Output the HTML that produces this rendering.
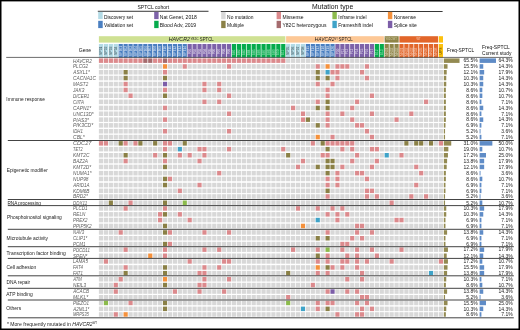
<!DOCTYPE html>
<html><head><meta charset="utf-8"><style>
html,body{margin:0;padding:0;background:#fff;}
svg{display:block;will-change:transform;}
text{font-family:"Liberation Sans",sans-serif;}
</style></head><body>
<svg xmlns="http://www.w3.org/2000/svg" width="520" height="330" viewBox="0 0 520 330">
<rect width="520" height="330" fill="#fff"/>
<rect x="0" y="0" width="520" height="1.4" fill="#000"/>
<rect x="0" y="328.5" width="520" height="1.5" fill="#000"/>
<rect x="0" y="0" width="1.5" height="330" fill="#000"/>
<rect x="518.5" y="0" width="1.5" height="330" fill="#000"/>
<text transform="translate(137.40,8.50) scale(0.961,1)" font-size="5.3" fill="#111" >SPTCL cohort</text>
<rect x="97.8" y="10.8" width="110.7" height="0.9" fill="#222"/>
<rect x="98.2" y="11.9" width="4.5" height="7.2" fill="#b4dbe6"/>
<rect x="98.2" y="20.8" width="4.5" height="7.3" fill="#4a7fc1"/>
<text transform="translate(104.00,18.50) scale(0.970,1)" font-size="5.0" fill="#111" >Discovery set</text>
<text transform="translate(104.00,27.20) scale(0.981,1)" font-size="5.0" fill="#111" >Validation set</text>
<rect x="154.2" y="11.9" width="4.4" height="7.2" fill="#7d62a9"/>
<rect x="154.2" y="20.8" width="4.4" height="7.3" fill="#05ab4c"/>
<text transform="translate(159.80,18.50) scale(1.011,1)" font-size="5.0" fill="#111" >Nat Genet, 2018</text>
<text transform="translate(159.80,27.20) scale(1.012,1)" font-size="5.0" fill="#111" >Blood Adv, 2019</text>
<text transform="translate(312.10,8.60) scale(0.980,1)" font-size="7.0" fill="#111" >Mutation type</text>
<rect x="220.8" y="11.0" width="221.8" height="0.9" fill="#222"/>
<rect x="221.2" y="11.9" width="4.4" height="7.3" fill="#d8d8d8"/>
<rect x="221.2" y="20.8" width="4.4" height="7.3" fill="#8a8046"/>
<text transform="translate(227.10,18.50) scale(0.980,1)" font-size="5.0" fill="#111" >No mutation</text>
<text transform="translate(227.10,27.20) scale(0.981,1)" font-size="5.0" fill="#111" >Multiple</text>
<rect x="276.6" y="11.9" width="4.4" height="7.3" fill="#dc8a8d"/>
<rect x="276.6" y="20.8" width="4.4" height="7.3" fill="#a56b6e"/>
<text transform="translate(282.50,18.50)" font-size="5.0" fill="#111" >Missense</text>
<text transform="translate(282.50,27.20)" font-size="5.0" fill="#111" >Y82C heterozygous</text>
<rect x="332.4" y="11.9" width="4.4" height="7.3" fill="#8cbb4c"/>
<rect x="332.4" y="20.8" width="4.4" height="7.3" fill="#3fa3c8"/>
<text transform="translate(338.30,18.50) scale(0.976,1)" font-size="5.0" fill="#111" >Inframe indel</text>
<text transform="translate(338.30,27.20) scale(0.973,1)" font-size="5.0" fill="#111" >Frameshift indel</text>
<rect x="387.9" y="11.9" width="4.4" height="7.3" fill="#f5913c"/>
<rect x="387.9" y="20.8" width="4.4" height="7.3" fill="#7c5ea8"/>
<text transform="translate(393.80,18.50) scale(0.986,1)" font-size="5.0" fill="#111" >Nonsense</text>
<text transform="translate(393.80,27.20) scale(1.009,1)" font-size="5.0" fill="#111" >Splice site</text>
<rect x="98.90" y="36.2" width="186.46" height="6.4" fill="#cfe193"/>
<rect x="286.09" y="36.2" width="97.79" height="6.4" fill="#fdc896"/>
<rect x="384.61" y="36.2" width="14.05" height="6.4" fill="#8f8548"/>
<rect x="399.39" y="36.2" width="38.68" height="6.4" fill="#e2662a"/>
<rect x="438.79" y="36.2" width="4.20" height="6.4" fill="#fcc10e"/>
<text transform="translate(168.80,41.30) scale(1.019,1)" font-size="5.2" fill="#1a1a1a" font-style="italic" >HAVCR2</text>
<text transform="translate(190.40,39.90) scale(1.093,1)" font-size="3.0" fill="#1a1a1a" >Y82C</text>
<text transform="translate(199.80,41.30) scale(0.829,1)" font-size="5.2" fill="#1a1a1a" >SPTCL</text>
<text transform="translate(314.80,41.30) scale(0.942,1)" font-size="5.2" fill="#1a1a1a" font-style="italic" >HAVCR2</text>
<text transform="translate(334.60,39.90) scale(0.643,1)" font-size="3.0" fill="#1a1a1a" >WT</text>
<text transform="translate(338.50,41.30) scale(0.859,1)" font-size="5.2" fill="#1a1a1a" >SPTCL</text>
<text transform="translate(385.56,40.30)" font-size="2.6" fill="#d8d3b0" >Y82C/WT</text>
<text transform="translate(416.48,40.00)" font-size="2.6" fill="#f7d3c0" >WT</text>
<rect x="98.90" y="44.0" width="4.2" height="13.8" fill="#b4dbe6"/>
<text x="102.26" y="55.00" font-size="3.5" fill="#2d3b40" fill-opacity="0.9" transform="rotate(-90 102.26 55.00)">SP01</text>
<rect x="103.83" y="44.0" width="4.2" height="13.8" fill="#b4dbe6"/>
<text x="107.19" y="55.00" font-size="3.5" fill="#2d3b40" fill-opacity="0.9" transform="rotate(-90 107.19 55.00)">SP02</text>
<rect x="108.75" y="44.0" width="4.2" height="13.8" fill="#b4dbe6"/>
<text x="112.11" y="55.00" font-size="3.5" fill="#2d3b40" fill-opacity="0.9" transform="rotate(-90 112.11 55.00)">SP03</text>
<rect x="113.68" y="44.0" width="4.2" height="13.8" fill="#b4dbe6"/>
<text x="117.04" y="55.00" font-size="3.5" fill="#2d3b40" fill-opacity="0.9" transform="rotate(-90 117.04 55.00)">SP04</text>
<rect x="118.60" y="44.0" width="4.2" height="13.8" fill="#4a7fc1"/>
<text x="121.93" y="56.30" font-size="3.4" fill="#ffffff" fill-opacity="0.75" transform="rotate(-90 121.93 56.30)">SPT01</text>
<rect x="123.53" y="44.0" width="4.2" height="13.8" fill="#4a7fc1"/>
<text x="126.85" y="56.30" font-size="3.4" fill="#ffffff" fill-opacity="0.75" transform="rotate(-90 126.85 56.30)">SPT02</text>
<rect x="128.46" y="44.0" width="4.2" height="13.8" fill="#4a7fc1"/>
<text x="131.78" y="56.30" font-size="3.4" fill="#ffffff" fill-opacity="0.75" transform="rotate(-90 131.78 56.30)">SPT03</text>
<rect x="133.38" y="44.0" width="4.2" height="13.8" fill="#4a7fc1"/>
<text x="136.71" y="56.30" font-size="3.4" fill="#ffffff" fill-opacity="0.75" transform="rotate(-90 136.71 56.30)">SPT04</text>
<rect x="138.31" y="44.0" width="4.2" height="13.8" fill="#4a7fc1"/>
<text x="141.63" y="56.30" font-size="3.4" fill="#ffffff" fill-opacity="0.75" transform="rotate(-90 141.63 56.30)">SPT05</text>
<rect x="143.23" y="44.0" width="4.2" height="13.8" fill="#4a7fc1"/>
<text x="146.56" y="56.30" font-size="3.4" fill="#ffffff" fill-opacity="0.75" transform="rotate(-90 146.56 56.30)">SPT06</text>
<rect x="148.16" y="44.0" width="4.2" height="13.8" fill="#4a7fc1"/>
<text x="151.48" y="56.30" font-size="3.4" fill="#ffffff" fill-opacity="0.75" transform="rotate(-90 151.48 56.30)">SPT07</text>
<rect x="153.09" y="44.0" width="4.2" height="13.8" fill="#4a7fc1"/>
<text x="156.41" y="56.30" font-size="3.4" fill="#ffffff" fill-opacity="0.75" transform="rotate(-90 156.41 56.30)">SPT08</text>
<rect x="158.01" y="44.0" width="4.2" height="13.8" fill="#4a7fc1"/>
<text x="161.34" y="56.30" font-size="3.4" fill="#ffffff" fill-opacity="0.75" transform="rotate(-90 161.34 56.30)">SPT09</text>
<rect x="162.94" y="44.0" width="4.2" height="13.8" fill="#4a7fc1"/>
<text x="166.26" y="56.30" font-size="3.4" fill="#ffffff" fill-opacity="0.75" transform="rotate(-90 166.26 56.30)">SPT10</text>
<rect x="167.86" y="44.0" width="4.2" height="13.8" fill="#4a7fc1"/>
<text x="171.19" y="56.30" font-size="3.4" fill="#ffffff" fill-opacity="0.75" transform="rotate(-90 171.19 56.30)">SPT11</text>
<rect x="172.79" y="44.0" width="4.2" height="13.8" fill="#4a7fc1"/>
<text x="176.11" y="56.30" font-size="3.4" fill="#ffffff" fill-opacity="0.75" transform="rotate(-90 176.11 56.30)">SPT12</text>
<rect x="177.72" y="44.0" width="4.2" height="13.8" fill="#4a7fc1"/>
<text x="181.04" y="56.30" font-size="3.4" fill="#ffffff" fill-opacity="0.75" transform="rotate(-90 181.04 56.30)">SPT13</text>
<rect x="182.64" y="44.0" width="4.2" height="13.8" fill="#4a7fc1"/>
<text x="185.97" y="56.30" font-size="3.4" fill="#ffffff" fill-opacity="0.75" transform="rotate(-90 185.97 56.30)">SPT14</text>
<rect x="187.57" y="44.0" width="4.2" height="13.8" fill="#7d62a9"/>
<text x="190.82" y="54.30" font-size="3.2" fill="#ffffff" fill-opacity="0.75" transform="rotate(-90 190.82 54.30)">P01</text>
<rect x="192.49" y="44.0" width="4.2" height="13.8" fill="#7d62a9"/>
<text x="195.75" y="54.30" font-size="3.2" fill="#ffffff" fill-opacity="0.75" transform="rotate(-90 195.75 54.30)">P02</text>
<rect x="197.42" y="44.0" width="4.2" height="13.8" fill="#7d62a9"/>
<text x="200.67" y="54.30" font-size="3.2" fill="#ffffff" fill-opacity="0.75" transform="rotate(-90 200.67 54.30)">P03</text>
<rect x="202.35" y="44.0" width="4.2" height="13.8" fill="#7d62a9"/>
<text x="205.60" y="54.30" font-size="3.2" fill="#ffffff" fill-opacity="0.75" transform="rotate(-90 205.60 54.30)">P04</text>
<rect x="207.27" y="44.0" width="4.2" height="13.8" fill="#7d62a9"/>
<text x="210.52" y="54.30" font-size="3.2" fill="#ffffff" fill-opacity="0.75" transform="rotate(-90 210.52 54.30)">P05</text>
<rect x="212.20" y="44.0" width="4.2" height="13.8" fill="#7d62a9"/>
<text x="215.45" y="54.30" font-size="3.2" fill="#ffffff" fill-opacity="0.75" transform="rotate(-90 215.45 54.30)">P06</text>
<rect x="217.12" y="44.0" width="4.2" height="13.8" fill="#7d62a9"/>
<text x="220.38" y="54.30" font-size="3.2" fill="#ffffff" fill-opacity="0.75" transform="rotate(-90 220.38 54.30)">P07</text>
<rect x="222.05" y="44.0" width="4.2" height="13.8" fill="#7d62a9"/>
<text x="225.30" y="54.30" font-size="3.2" fill="#ffffff" fill-opacity="0.75" transform="rotate(-90 225.30 54.30)">P08</text>
<rect x="226.98" y="44.0" width="4.2" height="13.8" fill="#7d62a9"/>
<text x="230.23" y="54.30" font-size="3.2" fill="#ffffff" fill-opacity="0.75" transform="rotate(-90 230.23 54.30)">P09</text>
<rect x="231.90" y="44.0" width="4.2" height="13.8" fill="#05ab4c"/>
<text x="235.15" y="55.20" font-size="3.2" fill="#ffffff" fill-opacity="0.6" transform="rotate(-90 235.15 55.20)">B01</text>
<rect x="236.83" y="44.0" width="4.2" height="13.8" fill="#05ab4c"/>
<text x="240.08" y="55.20" font-size="3.2" fill="#ffffff" fill-opacity="0.6" transform="rotate(-90 240.08 55.20)">B02</text>
<rect x="241.75" y="44.0" width="4.2" height="13.8" fill="#05ab4c"/>
<text x="245.01" y="55.20" font-size="3.2" fill="#ffffff" fill-opacity="0.6" transform="rotate(-90 245.01 55.20)">B03</text>
<rect x="246.68" y="44.0" width="4.2" height="13.8" fill="#05ab4c"/>
<text x="249.93" y="55.20" font-size="3.2" fill="#ffffff" fill-opacity="0.6" transform="rotate(-90 249.93 55.20)">B04</text>
<rect x="251.61" y="44.0" width="4.2" height="13.8" fill="#05ab4c"/>
<text x="254.86" y="55.20" font-size="3.2" fill="#ffffff" fill-opacity="0.6" transform="rotate(-90 254.86 55.20)">B05</text>
<rect x="256.53" y="44.0" width="4.2" height="13.8" fill="#05ab4c"/>
<text x="259.78" y="55.20" font-size="3.2" fill="#ffffff" fill-opacity="0.6" transform="rotate(-90 259.78 55.20)">B06</text>
<rect x="261.46" y="44.0" width="4.2" height="13.8" fill="#05ab4c"/>
<text x="264.71" y="55.20" font-size="3.2" fill="#ffffff" fill-opacity="0.6" transform="rotate(-90 264.71 55.20)">B07</text>
<rect x="266.38" y="44.0" width="4.2" height="13.8" fill="#05ab4c"/>
<text x="269.64" y="55.20" font-size="3.2" fill="#ffffff" fill-opacity="0.6" transform="rotate(-90 269.64 55.20)">B08</text>
<rect x="271.31" y="44.0" width="4.2" height="13.8" fill="#05ab4c"/>
<text x="274.56" y="55.20" font-size="3.2" fill="#ffffff" fill-opacity="0.6" transform="rotate(-90 274.56 55.20)">B09</text>
<rect x="276.24" y="44.0" width="4.2" height="13.8" fill="#05ab4c"/>
<text x="279.49" y="55.20" font-size="3.2" fill="#ffffff" fill-opacity="0.6" transform="rotate(-90 279.49 55.20)">B10</text>
<rect x="281.16" y="44.0" width="4.2" height="13.8" fill="#05ab4c"/>
<text x="284.41" y="55.20" font-size="3.2" fill="#ffffff" fill-opacity="0.6" transform="rotate(-90 284.41 55.20)">B11</text>
<rect x="286.09" y="44.0" width="4.2" height="13.8" fill="#b4dbe6"/>
<text x="289.45" y="55.00" font-size="3.5" fill="#2d3b40" fill-opacity="0.9" transform="rotate(-90 289.45 55.00)">SP05</text>
<rect x="291.01" y="44.0" width="4.2" height="13.8" fill="#b4dbe6"/>
<text x="294.37" y="55.00" font-size="3.5" fill="#2d3b40" fill-opacity="0.9" transform="rotate(-90 294.37 55.00)">SP06</text>
<rect x="295.94" y="44.0" width="4.2" height="13.8" fill="#b4dbe6"/>
<text x="299.30" y="55.00" font-size="3.5" fill="#2d3b40" fill-opacity="0.9" transform="rotate(-90 299.30 55.00)">SP07</text>
<rect x="300.87" y="44.0" width="4.2" height="13.8" fill="#b4dbe6"/>
<text x="304.23" y="55.00" font-size="3.5" fill="#2d3b40" fill-opacity="0.9" transform="rotate(-90 304.23 55.00)">SP08</text>
<rect x="305.79" y="44.0" width="4.2" height="13.8" fill="#4a7fc1"/>
<text x="309.12" y="56.30" font-size="3.4" fill="#ffffff" fill-opacity="0.75" transform="rotate(-90 309.12 56.30)">SPT15</text>
<rect x="310.72" y="44.0" width="4.2" height="13.8" fill="#4a7fc1"/>
<text x="314.04" y="56.30" font-size="3.4" fill="#ffffff" fill-opacity="0.75" transform="rotate(-90 314.04 56.30)">SPT16</text>
<rect x="315.64" y="44.0" width="4.2" height="13.8" fill="#4a7fc1"/>
<text x="318.97" y="56.30" font-size="3.4" fill="#ffffff" fill-opacity="0.75" transform="rotate(-90 318.97 56.30)">SPT17</text>
<rect x="320.57" y="44.0" width="4.2" height="13.8" fill="#4a7fc1"/>
<text x="323.89" y="56.30" font-size="3.4" fill="#ffffff" fill-opacity="0.75" transform="rotate(-90 323.89 56.30)">SPT18</text>
<rect x="325.50" y="44.0" width="4.2" height="13.8" fill="#4a7fc1"/>
<text x="328.82" y="56.30" font-size="3.4" fill="#ffffff" fill-opacity="0.75" transform="rotate(-90 328.82 56.30)">SPT19</text>
<rect x="330.42" y="44.0" width="4.2" height="13.8" fill="#4a7fc1"/>
<text x="333.75" y="56.30" font-size="3.4" fill="#ffffff" fill-opacity="0.75" transform="rotate(-90 333.75 56.30)">SPT20</text>
<rect x="335.35" y="44.0" width="4.2" height="13.8" fill="#7d62a9"/>
<text x="338.60" y="54.30" font-size="3.2" fill="#ffffff" fill-opacity="0.75" transform="rotate(-90 338.60 54.30)">P10</text>
<rect x="340.27" y="44.0" width="4.2" height="13.8" fill="#7d62a9"/>
<text x="343.53" y="54.30" font-size="3.2" fill="#ffffff" fill-opacity="0.75" transform="rotate(-90 343.53 54.30)">P11</text>
<rect x="345.20" y="44.0" width="4.2" height="13.8" fill="#7d62a9"/>
<text x="348.45" y="54.30" font-size="3.2" fill="#ffffff" fill-opacity="0.75" transform="rotate(-90 348.45 54.30)">P12</text>
<rect x="350.13" y="44.0" width="4.2" height="13.8" fill="#7d62a9"/>
<text x="353.38" y="54.30" font-size="3.2" fill="#ffffff" fill-opacity="0.75" transform="rotate(-90 353.38 54.30)">P13</text>
<rect x="355.05" y="44.0" width="4.2" height="13.8" fill="#7d62a9"/>
<text x="358.30" y="54.30" font-size="3.2" fill="#ffffff" fill-opacity="0.75" transform="rotate(-90 358.30 54.30)">P14</text>
<rect x="359.98" y="44.0" width="4.2" height="13.8" fill="#7d62a9"/>
<text x="363.23" y="54.30" font-size="3.2" fill="#ffffff" fill-opacity="0.75" transform="rotate(-90 363.23 54.30)">P15</text>
<rect x="364.90" y="44.0" width="4.2" height="13.8" fill="#7d62a9"/>
<text x="368.16" y="54.30" font-size="3.2" fill="#ffffff" fill-opacity="0.75" transform="rotate(-90 368.16 54.30)">P16</text>
<rect x="369.83" y="44.0" width="4.2" height="13.8" fill="#7d62a9"/>
<text x="373.08" y="54.30" font-size="3.2" fill="#ffffff" fill-opacity="0.75" transform="rotate(-90 373.08 54.30)">P17</text>
<rect x="374.76" y="44.0" width="4.2" height="13.8" fill="#05ab4c"/>
<text x="378.01" y="55.20" font-size="3.2" fill="#ffffff" fill-opacity="0.6" transform="rotate(-90 378.01 55.20)">B12</text>
<rect x="379.68" y="44.0" width="4.2" height="13.8" fill="#05ab4c"/>
<text x="382.93" y="55.20" font-size="3.2" fill="#ffffff" fill-opacity="0.6" transform="rotate(-90 382.93 55.20)">B13</text>
<rect x="384.61" y="44.0" width="4.2" height="13.8" fill="#8f8548"/>
<text x="387.93" y="56.00" font-size="3.4" fill="#ffffff" fill-opacity="0.6" transform="rotate(-90 387.93 56.00)">NK01</text>
<rect x="389.53" y="44.0" width="4.2" height="13.8" fill="#8f8548"/>
<text x="392.86" y="56.00" font-size="3.4" fill="#ffffff" fill-opacity="0.6" transform="rotate(-90 392.86 56.00)">NK02</text>
<rect x="394.46" y="44.0" width="4.2" height="13.8" fill="#8f8548"/>
<text x="397.78" y="56.00" font-size="3.4" fill="#ffffff" fill-opacity="0.6" transform="rotate(-90 397.78 56.00)">NK03</text>
<rect x="399.39" y="44.0" width="4.2" height="13.8" fill="#e2662a"/>
<text x="402.71" y="56.00" font-size="3.4" fill="#ffffff" fill-opacity="0.6" transform="rotate(-90 402.71 56.00)">NK01</text>
<rect x="404.31" y="44.0" width="4.2" height="13.8" fill="#e2662a"/>
<text x="407.64" y="56.00" font-size="3.4" fill="#ffffff" fill-opacity="0.6" transform="rotate(-90 407.64 56.00)">NK02</text>
<rect x="409.24" y="44.0" width="4.2" height="13.8" fill="#e2662a"/>
<text x="412.56" y="56.00" font-size="3.4" fill="#ffffff" fill-opacity="0.6" transform="rotate(-90 412.56 56.00)">NK03</text>
<rect x="414.16" y="44.0" width="4.2" height="13.8" fill="#e2662a"/>
<text x="417.49" y="56.00" font-size="3.4" fill="#ffffff" fill-opacity="0.6" transform="rotate(-90 417.49 56.00)">NK04</text>
<rect x="419.09" y="44.0" width="4.2" height="13.8" fill="#e2662a"/>
<text x="422.41" y="56.00" font-size="3.4" fill="#ffffff" fill-opacity="0.6" transform="rotate(-90 422.41 56.00)">NK05</text>
<rect x="424.02" y="44.0" width="4.2" height="13.8" fill="#e2662a"/>
<text x="427.34" y="56.00" font-size="3.4" fill="#ffffff" fill-opacity="0.6" transform="rotate(-90 427.34 56.00)">NK06</text>
<rect x="428.94" y="44.0" width="4.2" height="13.8" fill="#e2662a"/>
<text x="432.27" y="56.00" font-size="3.4" fill="#ffffff" fill-opacity="0.6" transform="rotate(-90 432.27 56.00)">NK07</text>
<rect x="433.87" y="44.0" width="4.2" height="13.8" fill="#e2662a"/>
<text x="437.19" y="56.00" font-size="3.4" fill="#ffffff" fill-opacity="0.6" transform="rotate(-90 437.19 56.00)">NK08</text>
<rect x="438.79" y="44.0" width="4.2" height="13.8" fill="#fcc10e"/>
<text x="442.12" y="54.50" font-size="3.4" fill="#3a3000" fill-opacity="0.9" transform="rotate(-90 442.12 54.50)">UPS</text>
<text transform="translate(78.70,51.80) scale(1.022,1)" font-size="5.0" fill="#111" >Gene</text>
<text transform="translate(447.10,51.80) scale(0.965,1)" font-size="5.0" fill="#111" >Freq-SPTCL</text>
<text transform="translate(482.10,49.00) scale(0.990,1)" font-size="5.0" fill="#111" >Freq-SPTCL</text>
<text transform="translate(482.10,54.80) scale(0.983,1)" font-size="5.0" fill="#111" >Current study</text>
<rect x="98.90" y="58.40" width="4.2" height="4.5" fill="#dc8a8d"/>
<rect x="103.83" y="58.40" width="4.2" height="4.5" fill="#dc8a8d"/>
<rect x="108.75" y="58.40" width="4.2" height="4.5" fill="#dc8a8d"/>
<rect x="113.68" y="58.40" width="4.2" height="4.5" fill="#dc8a8d"/>
<rect x="118.60" y="58.40" width="4.2" height="4.5" fill="#dc8a8d"/>
<rect x="123.53" y="58.40" width="4.2" height="4.5" fill="#dc8a8d"/>
<rect x="128.46" y="58.40" width="4.2" height="4.5" fill="#dc8a8d"/>
<rect x="133.38" y="58.40" width="4.2" height="4.5" fill="#dc8a8d"/>
<rect x="138.31" y="58.40" width="4.2" height="4.5" fill="#dc8a8d"/>
<rect x="143.23" y="58.40" width="4.2" height="4.5" fill="#a56b6e"/>
<rect x="148.16" y="58.40" width="4.2" height="4.5" fill="#a56b6e"/>
<rect x="153.09" y="58.40" width="4.2" height="4.5" fill="#dc8a8d"/>
<rect x="158.01" y="58.40" width="4.2" height="4.5" fill="#dc8a8d"/>
<rect x="162.94" y="58.40" width="4.2" height="4.5" fill="#a56b6e"/>
<rect x="167.86" y="58.40" width="4.2" height="4.5" fill="#dc8a8d"/>
<rect x="172.79" y="58.40" width="4.2" height="4.5" fill="#dc8a8d"/>
<rect x="177.72" y="58.40" width="4.2" height="4.5" fill="#dc8a8d"/>
<rect x="182.64" y="58.40" width="4.2" height="4.5" fill="#dc8a8d"/>
<rect x="187.57" y="58.40" width="4.2" height="4.5" fill="#dc8a8d"/>
<rect x="192.49" y="58.40" width="4.2" height="4.5" fill="#dc8a8d"/>
<rect x="197.42" y="58.40" width="4.2" height="4.5" fill="#dc8a8d"/>
<rect x="202.35" y="58.40" width="4.2" height="4.5" fill="#dc8a8d"/>
<rect x="207.27" y="58.40" width="4.2" height="4.5" fill="#dc8a8d"/>
<rect x="212.20" y="58.40" width="4.2" height="4.5" fill="#dc8a8d"/>
<rect x="217.12" y="58.40" width="4.2" height="4.5" fill="#dc8a8d"/>
<rect x="222.05" y="58.40" width="4.2" height="4.5" fill="#dc8a8d"/>
<rect x="226.98" y="58.40" width="4.2" height="4.5" fill="#dc8a8d"/>
<rect x="231.90" y="58.40" width="4.2" height="4.5" fill="#dc8a8d"/>
<rect x="236.83" y="58.40" width="4.2" height="4.5" fill="#dc8a8d"/>
<rect x="241.75" y="58.40" width="4.2" height="4.5" fill="#dc8a8d"/>
<rect x="246.68" y="58.40" width="4.2" height="4.5" fill="#dc8a8d"/>
<rect x="251.61" y="58.40" width="4.2" height="4.5" fill="#dc8a8d"/>
<rect x="256.53" y="58.40" width="4.2" height="4.5" fill="#dc8a8d"/>
<rect x="261.46" y="58.40" width="4.2" height="4.5" fill="#dc8a8d"/>
<rect x="266.38" y="58.40" width="4.2" height="4.5" fill="#dc8a8d"/>
<rect x="271.31" y="58.40" width="4.2" height="4.5" fill="#dc8a8d"/>
<rect x="276.24" y="58.40" width="4.2" height="4.5" fill="#dc8a8d"/>
<rect x="281.16" y="58.40" width="4.2" height="4.5" fill="#dc8a8d"/>
<rect x="286.09" y="58.40" width="4.2" height="4.5" fill="#d8d8d8"/>
<rect x="291.01" y="58.40" width="4.2" height="4.5" fill="#d8d8d8"/>
<rect x="295.94" y="58.40" width="4.2" height="4.5" fill="#d8d8d8"/>
<rect x="300.87" y="58.40" width="4.2" height="4.5" fill="#d8d8d8"/>
<rect x="305.79" y="58.40" width="4.2" height="4.5" fill="#d8d8d8"/>
<rect x="310.72" y="58.40" width="4.2" height="4.5" fill="#d8d8d8"/>
<rect x="315.64" y="58.40" width="4.2" height="4.5" fill="#d8d8d8"/>
<rect x="320.57" y="58.40" width="4.2" height="4.5" fill="#d8d8d8"/>
<rect x="325.50" y="58.40" width="4.2" height="4.5" fill="#d8d8d8"/>
<rect x="330.42" y="58.40" width="4.2" height="4.5" fill="#d8d8d8"/>
<rect x="335.35" y="58.40" width="4.2" height="4.5" fill="#d8d8d8"/>
<rect x="340.27" y="58.40" width="4.2" height="4.5" fill="#d8d8d8"/>
<rect x="345.20" y="58.40" width="4.2" height="4.5" fill="#d8d8d8"/>
<rect x="350.13" y="58.40" width="4.2" height="4.5" fill="#d8d8d8"/>
<rect x="355.05" y="58.40" width="4.2" height="4.5" fill="#d8d8d8"/>
<rect x="359.98" y="58.40" width="4.2" height="4.5" fill="#d8d8d8"/>
<rect x="364.90" y="58.40" width="4.2" height="4.5" fill="#d8d8d8"/>
<rect x="369.83" y="58.40" width="4.2" height="4.5" fill="#d8d8d8"/>
<rect x="374.76" y="58.40" width="4.2" height="4.5" fill="#d8d8d8"/>
<rect x="379.68" y="58.40" width="4.2" height="4.5" fill="#d8d8d8"/>
<rect x="384.61" y="58.40" width="4.2" height="4.5" fill="#d8d8d8"/>
<rect x="389.53" y="58.40" width="4.2" height="4.5" fill="#d8d8d8"/>
<rect x="394.46" y="58.40" width="4.2" height="4.5" fill="#d8d8d8"/>
<rect x="399.39" y="58.40" width="4.2" height="4.5" fill="#d8d8d8"/>
<rect x="404.31" y="58.40" width="4.2" height="4.5" fill="#d8d8d8"/>
<rect x="409.24" y="58.40" width="4.2" height="4.5" fill="#d8d8d8"/>
<rect x="414.16" y="58.40" width="4.2" height="4.5" fill="#d8d8d8"/>
<rect x="419.09" y="58.40" width="4.2" height="4.5" fill="#d8d8d8"/>
<rect x="424.02" y="58.40" width="4.2" height="4.5" fill="#d8d8d8"/>
<rect x="428.94" y="58.40" width="4.2" height="4.5" fill="#d8d8d8"/>
<rect x="433.87" y="58.40" width="4.2" height="4.5" fill="#d8d8d8"/>
<rect x="438.79" y="58.40" width="4.2" height="4.5" fill="#d8d8d8"/>
<text transform="translate(73.00,62.50) scale(0.979,1)" font-size="4.8" fill="#5e5e5e" font-style="italic" >HAVCR2</text>
<rect x="443.8" y="58.40" width="15.72" height="4.5" fill="#938a52"/>
<rect x="479.6" y="58.40" width="16.40" height="4.5" fill="#5f8cc7"/>
<text transform="translate(463.52,62.40)" font-size="5.0" fill="#222" >65.5%</text>
<text transform="translate(498.53,62.40)" font-size="5.0" fill="#222" >64.3%</text>
<rect x="98.90" y="64.20" width="4.2" height="4.5" fill="#d8d8d8"/>
<rect x="103.83" y="64.20" width="4.2" height="4.5" fill="#d8d8d8"/>
<rect x="108.75" y="64.20" width="4.2" height="4.5" fill="#d8d8d8"/>
<rect x="113.68" y="64.20" width="4.2" height="4.5" fill="#d8d8d8"/>
<rect x="118.60" y="64.20" width="4.2" height="4.5" fill="#d8d8d8"/>
<rect x="123.53" y="64.20" width="4.2" height="4.5" fill="#d8d8d8"/>
<rect x="128.46" y="64.20" width="4.2" height="4.5" fill="#d8d8d8"/>
<rect x="133.38" y="64.20" width="4.2" height="4.5" fill="#d8d8d8"/>
<rect x="138.31" y="64.20" width="4.2" height="4.5" fill="#d8d8d8"/>
<rect x="143.23" y="64.20" width="4.2" height="4.5" fill="#d8d8d8"/>
<rect x="148.16" y="64.20" width="4.2" height="4.5" fill="#d8d8d8"/>
<rect x="153.09" y="64.20" width="4.2" height="4.5" fill="#d8d8d8"/>
<rect x="158.01" y="64.20" width="4.2" height="4.5" fill="#d8d8d8"/>
<rect x="162.94" y="64.20" width="4.2" height="4.5" fill="#f5913c"/>
<rect x="167.86" y="64.20" width="4.2" height="4.5" fill="#d8d8d8"/>
<rect x="172.79" y="64.20" width="4.2" height="4.5" fill="#d8d8d8"/>
<rect x="177.72" y="64.20" width="4.2" height="4.5" fill="#d8d8d8"/>
<rect x="182.64" y="64.20" width="4.2" height="4.5" fill="#dc8a8d"/>
<rect x="187.57" y="64.20" width="4.2" height="4.5" fill="#d8d8d8"/>
<rect x="192.49" y="64.20" width="4.2" height="4.5" fill="#d8d8d8"/>
<rect x="197.42" y="64.20" width="4.2" height="4.5" fill="#d8d8d8"/>
<rect x="202.35" y="64.20" width="4.2" height="4.5" fill="#d8d8d8"/>
<rect x="207.27" y="64.20" width="4.2" height="4.5" fill="#d8d8d8"/>
<rect x="212.20" y="64.20" width="4.2" height="4.5" fill="#d8d8d8"/>
<rect x="217.12" y="64.20" width="4.2" height="4.5" fill="#d8d8d8"/>
<rect x="222.05" y="64.20" width="4.2" height="4.5" fill="#d8d8d8"/>
<rect x="226.98" y="64.20" width="4.2" height="4.5" fill="#dc8a8d"/>
<rect x="231.90" y="64.20" width="4.2" height="4.5" fill="#d8d8d8"/>
<rect x="236.83" y="64.20" width="4.2" height="4.5" fill="#d8d8d8"/>
<rect x="241.75" y="64.20" width="4.2" height="4.5" fill="#d8d8d8"/>
<rect x="246.68" y="64.20" width="4.2" height="4.5" fill="#d8d8d8"/>
<rect x="251.61" y="64.20" width="4.2" height="4.5" fill="#d8d8d8"/>
<rect x="256.53" y="64.20" width="4.2" height="4.5" fill="#d8d8d8"/>
<rect x="261.46" y="64.20" width="4.2" height="4.5" fill="#d8d8d8"/>
<rect x="266.38" y="64.20" width="4.2" height="4.5" fill="#d8d8d8"/>
<rect x="271.31" y="64.20" width="4.2" height="4.5" fill="#d8d8d8"/>
<rect x="276.24" y="64.20" width="4.2" height="4.5" fill="#d8d8d8"/>
<rect x="281.16" y="64.20" width="4.2" height="4.5" fill="#d8d8d8"/>
<rect x="286.09" y="64.20" width="4.2" height="4.5" fill="#d8d8d8"/>
<rect x="291.01" y="64.20" width="4.2" height="4.5" fill="#d8d8d8"/>
<rect x="295.94" y="64.20" width="4.2" height="4.5" fill="#d8d8d8"/>
<rect x="300.87" y="64.20" width="4.2" height="4.5" fill="#d8d8d8"/>
<rect x="305.79" y="64.20" width="4.2" height="4.5" fill="#d8d8d8"/>
<rect x="310.72" y="64.20" width="4.2" height="4.5" fill="#d8d8d8"/>
<rect x="315.64" y="64.20" width="4.2" height="4.5" fill="#dc8a8d"/>
<rect x="320.57" y="64.20" width="4.2" height="4.5" fill="#d8d8d8"/>
<rect x="325.50" y="64.20" width="4.2" height="4.5" fill="#f5913c"/>
<rect x="330.42" y="64.20" width="4.2" height="4.5" fill="#d8d8d8"/>
<rect x="335.35" y="64.20" width="4.2" height="4.5" fill="#dc8a8d"/>
<rect x="340.27" y="64.20" width="4.2" height="4.5" fill="#dc8a8d"/>
<rect x="345.20" y="64.20" width="4.2" height="4.5" fill="#dc8a8d"/>
<rect x="350.13" y="64.20" width="4.2" height="4.5" fill="#d8d8d8"/>
<rect x="355.05" y="64.20" width="4.2" height="4.5" fill="#d8d8d8"/>
<rect x="359.98" y="64.20" width="4.2" height="4.5" fill="#d8d8d8"/>
<rect x="364.90" y="64.20" width="4.2" height="4.5" fill="#dc8a8d"/>
<rect x="369.83" y="64.20" width="4.2" height="4.5" fill="#d8d8d8"/>
<rect x="374.76" y="64.20" width="4.2" height="4.5" fill="#d8d8d8"/>
<rect x="379.68" y="64.20" width="4.2" height="4.5" fill="#d8d8d8"/>
<rect x="384.61" y="64.20" width="4.2" height="4.5" fill="#d8d8d8"/>
<rect x="389.53" y="64.20" width="4.2" height="4.5" fill="#d8d8d8"/>
<rect x="394.46" y="64.20" width="4.2" height="4.5" fill="#d8d8d8"/>
<rect x="399.39" y="64.20" width="4.2" height="4.5" fill="#d8d8d8"/>
<rect x="404.31" y="64.20" width="4.2" height="4.5" fill="#d8d8d8"/>
<rect x="409.24" y="64.20" width="4.2" height="4.5" fill="#d8d8d8"/>
<rect x="414.16" y="64.20" width="4.2" height="4.5" fill="#d8d8d8"/>
<rect x="419.09" y="64.20" width="4.2" height="4.5" fill="#d8d8d8"/>
<rect x="424.02" y="64.20" width="4.2" height="4.5" fill="#d8d8d8"/>
<rect x="428.94" y="64.20" width="4.2" height="4.5" fill="#d8d8d8"/>
<rect x="433.87" y="64.20" width="4.2" height="4.5" fill="#d8d8d8"/>
<rect x="438.79" y="64.20" width="4.2" height="4.5" fill="#d8d8d8"/>
<text transform="translate(73.00,68.30) scale(0.965,1)" font-size="4.8" fill="#5e5e5e" font-style="italic" >PLCG2</text>
<rect x="443.8" y="64.20" width="3.72" height="4.5" fill="#938a52"/>
<rect x="479.6" y="64.20" width="3.65" height="4.5" fill="#5f8cc7"/>
<text transform="translate(463.52,68.20)" font-size="5.0" fill="#222" >15.5%</text>
<text transform="translate(498.53,68.20)" font-size="5.0" fill="#222" >14.3%</text>
<rect x="98.90" y="70.00" width="4.2" height="4.5" fill="#d8d8d8"/>
<rect x="103.83" y="70.00" width="4.2" height="4.5" fill="#d8d8d8"/>
<rect x="108.75" y="70.00" width="4.2" height="4.5" fill="#d8d8d8"/>
<rect x="113.68" y="70.00" width="4.2" height="4.5" fill="#d8d8d8"/>
<rect x="118.60" y="70.00" width="4.2" height="4.5" fill="#d8d8d8"/>
<rect x="123.53" y="70.00" width="4.2" height="4.5" fill="#8a8046"/>
<rect x="128.46" y="70.00" width="4.2" height="4.5" fill="#d8d8d8"/>
<rect x="133.38" y="70.00" width="4.2" height="4.5" fill="#d8d8d8"/>
<rect x="138.31" y="70.00" width="4.2" height="4.5" fill="#d8d8d8"/>
<rect x="143.23" y="70.00" width="4.2" height="4.5" fill="#d8d8d8"/>
<rect x="148.16" y="70.00" width="4.2" height="4.5" fill="#d8d8d8"/>
<rect x="153.09" y="70.00" width="4.2" height="4.5" fill="#d8d8d8"/>
<rect x="158.01" y="70.00" width="4.2" height="4.5" fill="#d8d8d8"/>
<rect x="162.94" y="70.00" width="4.2" height="4.5" fill="#dc8a8d"/>
<rect x="167.86" y="70.00" width="4.2" height="4.5" fill="#d8d8d8"/>
<rect x="172.79" y="70.00" width="4.2" height="4.5" fill="#d8d8d8"/>
<rect x="177.72" y="70.00" width="4.2" height="4.5" fill="#d8d8d8"/>
<rect x="182.64" y="70.00" width="4.2" height="4.5" fill="#d8d8d8"/>
<rect x="187.57" y="70.00" width="4.2" height="4.5" fill="#d8d8d8"/>
<rect x="192.49" y="70.00" width="4.2" height="4.5" fill="#d8d8d8"/>
<rect x="197.42" y="70.00" width="4.2" height="4.5" fill="#d8d8d8"/>
<rect x="202.35" y="70.00" width="4.2" height="4.5" fill="#d8d8d8"/>
<rect x="207.27" y="70.00" width="4.2" height="4.5" fill="#d8d8d8"/>
<rect x="212.20" y="70.00" width="4.2" height="4.5" fill="#d8d8d8"/>
<rect x="217.12" y="70.00" width="4.2" height="4.5" fill="#d8d8d8"/>
<rect x="222.05" y="70.00" width="4.2" height="4.5" fill="#d8d8d8"/>
<rect x="226.98" y="70.00" width="4.2" height="4.5" fill="#d8d8d8"/>
<rect x="231.90" y="70.00" width="4.2" height="4.5" fill="#d8d8d8"/>
<rect x="236.83" y="70.00" width="4.2" height="4.5" fill="#d8d8d8"/>
<rect x="241.75" y="70.00" width="4.2" height="4.5" fill="#d8d8d8"/>
<rect x="246.68" y="70.00" width="4.2" height="4.5" fill="#d8d8d8"/>
<rect x="251.61" y="70.00" width="4.2" height="4.5" fill="#d8d8d8"/>
<rect x="256.53" y="70.00" width="4.2" height="4.5" fill="#d8d8d8"/>
<rect x="261.46" y="70.00" width="4.2" height="4.5" fill="#d8d8d8"/>
<rect x="266.38" y="70.00" width="4.2" height="4.5" fill="#d8d8d8"/>
<rect x="271.31" y="70.00" width="4.2" height="4.5" fill="#d8d8d8"/>
<rect x="276.24" y="70.00" width="4.2" height="4.5" fill="#d8d8d8"/>
<rect x="281.16" y="70.00" width="4.2" height="4.5" fill="#d8d8d8"/>
<rect x="286.09" y="70.00" width="4.2" height="4.5" fill="#d8d8d8"/>
<rect x="291.01" y="70.00" width="4.2" height="4.5" fill="#d8d8d8"/>
<rect x="295.94" y="70.00" width="4.2" height="4.5" fill="#d8d8d8"/>
<rect x="300.87" y="70.00" width="4.2" height="4.5" fill="#d8d8d8"/>
<rect x="305.79" y="70.00" width="4.2" height="4.5" fill="#d8d8d8"/>
<rect x="310.72" y="70.00" width="4.2" height="4.5" fill="#d8d8d8"/>
<rect x="315.64" y="70.00" width="4.2" height="4.5" fill="#8a8046"/>
<rect x="320.57" y="70.00" width="4.2" height="4.5" fill="#d8d8d8"/>
<rect x="325.50" y="70.00" width="4.2" height="4.5" fill="#3fa3c8"/>
<rect x="330.42" y="70.00" width="4.2" height="4.5" fill="#dc8a8d"/>
<rect x="335.35" y="70.00" width="4.2" height="4.5" fill="#dc8a8d"/>
<rect x="340.27" y="70.00" width="4.2" height="4.5" fill="#d8d8d8"/>
<rect x="345.20" y="70.00" width="4.2" height="4.5" fill="#d8d8d8"/>
<rect x="350.13" y="70.00" width="4.2" height="4.5" fill="#d8d8d8"/>
<rect x="355.05" y="70.00" width="4.2" height="4.5" fill="#d8d8d8"/>
<rect x="359.98" y="70.00" width="4.2" height="4.5" fill="#dc8a8d"/>
<rect x="364.90" y="70.00" width="4.2" height="4.5" fill="#d8d8d8"/>
<rect x="369.83" y="70.00" width="4.2" height="4.5" fill="#d8d8d8"/>
<rect x="374.76" y="70.00" width="4.2" height="4.5" fill="#d8d8d8"/>
<rect x="379.68" y="70.00" width="4.2" height="4.5" fill="#d8d8d8"/>
<rect x="384.61" y="70.00" width="4.2" height="4.5" fill="#d8d8d8"/>
<rect x="389.53" y="70.00" width="4.2" height="4.5" fill="#d8d8d8"/>
<rect x="394.46" y="70.00" width="4.2" height="4.5" fill="#d8d8d8"/>
<rect x="399.39" y="70.00" width="4.2" height="4.5" fill="#d8d8d8"/>
<rect x="404.31" y="70.00" width="4.2" height="4.5" fill="#d8d8d8"/>
<rect x="409.24" y="70.00" width="4.2" height="4.5" fill="#d8d8d8"/>
<rect x="414.16" y="70.00" width="4.2" height="4.5" fill="#d8d8d8"/>
<rect x="419.09" y="70.00" width="4.2" height="4.5" fill="#d8d8d8"/>
<rect x="424.02" y="70.00" width="4.2" height="4.5" fill="#d8d8d8"/>
<rect x="428.94" y="70.00" width="4.2" height="4.5" fill="#d8d8d8"/>
<rect x="433.87" y="70.00" width="4.2" height="4.5" fill="#d8d8d8"/>
<rect x="438.79" y="70.00" width="4.2" height="4.5" fill="#d8d8d8"/>
<text transform="translate(73.24,74.10) scale(0.988,1)" font-size="4.8" fill="#5e5e5e" font-style="italic" >ASXL1*</text>
<rect x="443.8" y="70.00" width="2.90" height="4.5" fill="#938a52"/>
<rect x="479.6" y="70.00" width="4.56" height="4.5" fill="#5f8cc7"/>
<text transform="translate(463.52,74.00)" font-size="5.0" fill="#222" >12.1%</text>
<text transform="translate(498.53,74.00)" font-size="5.0" fill="#222" >17.9%</text>
<rect x="98.90" y="75.80" width="4.2" height="4.5" fill="#d8d8d8"/>
<rect x="103.83" y="75.80" width="4.2" height="4.5" fill="#d8d8d8"/>
<rect x="108.75" y="75.80" width="4.2" height="4.5" fill="#d8d8d8"/>
<rect x="113.68" y="75.80" width="4.2" height="4.5" fill="#d8d8d8"/>
<rect x="118.60" y="75.80" width="4.2" height="4.5" fill="#d8d8d8"/>
<rect x="123.53" y="75.80" width="4.2" height="4.5" fill="#8a8046"/>
<rect x="128.46" y="75.80" width="4.2" height="4.5" fill="#d8d8d8"/>
<rect x="133.38" y="75.80" width="4.2" height="4.5" fill="#d8d8d8"/>
<rect x="138.31" y="75.80" width="4.2" height="4.5" fill="#d8d8d8"/>
<rect x="143.23" y="75.80" width="4.2" height="4.5" fill="#d8d8d8"/>
<rect x="148.16" y="75.80" width="4.2" height="4.5" fill="#d8d8d8"/>
<rect x="153.09" y="75.80" width="4.2" height="4.5" fill="#d8d8d8"/>
<rect x="158.01" y="75.80" width="4.2" height="4.5" fill="#d8d8d8"/>
<rect x="162.94" y="75.80" width="4.2" height="4.5" fill="#8a8046"/>
<rect x="167.86" y="75.80" width="4.2" height="4.5" fill="#d8d8d8"/>
<rect x="172.79" y="75.80" width="4.2" height="4.5" fill="#d8d8d8"/>
<rect x="177.72" y="75.80" width="4.2" height="4.5" fill="#d8d8d8"/>
<rect x="182.64" y="75.80" width="4.2" height="4.5" fill="#d8d8d8"/>
<rect x="187.57" y="75.80" width="4.2" height="4.5" fill="#d8d8d8"/>
<rect x="192.49" y="75.80" width="4.2" height="4.5" fill="#d8d8d8"/>
<rect x="197.42" y="75.80" width="4.2" height="4.5" fill="#d8d8d8"/>
<rect x="202.35" y="75.80" width="4.2" height="4.5" fill="#d8d8d8"/>
<rect x="207.27" y="75.80" width="4.2" height="4.5" fill="#d8d8d8"/>
<rect x="212.20" y="75.80" width="4.2" height="4.5" fill="#d8d8d8"/>
<rect x="217.12" y="75.80" width="4.2" height="4.5" fill="#d8d8d8"/>
<rect x="222.05" y="75.80" width="4.2" height="4.5" fill="#d8d8d8"/>
<rect x="226.98" y="75.80" width="4.2" height="4.5" fill="#d8d8d8"/>
<rect x="231.90" y="75.80" width="4.2" height="4.5" fill="#d8d8d8"/>
<rect x="236.83" y="75.80" width="4.2" height="4.5" fill="#d8d8d8"/>
<rect x="241.75" y="75.80" width="4.2" height="4.5" fill="#d8d8d8"/>
<rect x="246.68" y="75.80" width="4.2" height="4.5" fill="#d8d8d8"/>
<rect x="251.61" y="75.80" width="4.2" height="4.5" fill="#d8d8d8"/>
<rect x="256.53" y="75.80" width="4.2" height="4.5" fill="#d8d8d8"/>
<rect x="261.46" y="75.80" width="4.2" height="4.5" fill="#d8d8d8"/>
<rect x="266.38" y="75.80" width="4.2" height="4.5" fill="#d8d8d8"/>
<rect x="271.31" y="75.80" width="4.2" height="4.5" fill="#d8d8d8"/>
<rect x="276.24" y="75.80" width="4.2" height="4.5" fill="#d8d8d8"/>
<rect x="281.16" y="75.80" width="4.2" height="4.5" fill="#d8d8d8"/>
<rect x="286.09" y="75.80" width="4.2" height="4.5" fill="#d8d8d8"/>
<rect x="291.01" y="75.80" width="4.2" height="4.5" fill="#d8d8d8"/>
<rect x="295.94" y="75.80" width="4.2" height="4.5" fill="#d8d8d8"/>
<rect x="300.87" y="75.80" width="4.2" height="4.5" fill="#d8d8d8"/>
<rect x="305.79" y="75.80" width="4.2" height="4.5" fill="#d8d8d8"/>
<rect x="310.72" y="75.80" width="4.2" height="4.5" fill="#d8d8d8"/>
<rect x="315.64" y="75.80" width="4.2" height="4.5" fill="#8a8046"/>
<rect x="320.57" y="75.80" width="4.2" height="4.5" fill="#d8d8d8"/>
<rect x="325.50" y="75.80" width="4.2" height="4.5" fill="#8a8046"/>
<rect x="330.42" y="75.80" width="4.2" height="4.5" fill="#d8d8d8"/>
<rect x="335.35" y="75.80" width="4.2" height="4.5" fill="#dc8a8d"/>
<rect x="340.27" y="75.80" width="4.2" height="4.5" fill="#d8d8d8"/>
<rect x="345.20" y="75.80" width="4.2" height="4.5" fill="#d8d8d8"/>
<rect x="350.13" y="75.80" width="4.2" height="4.5" fill="#d8d8d8"/>
<rect x="355.05" y="75.80" width="4.2" height="4.5" fill="#d8d8d8"/>
<rect x="359.98" y="75.80" width="4.2" height="4.5" fill="#d8d8d8"/>
<rect x="364.90" y="75.80" width="4.2" height="4.5" fill="#dc8a8d"/>
<rect x="369.83" y="75.80" width="4.2" height="4.5" fill="#d8d8d8"/>
<rect x="374.76" y="75.80" width="4.2" height="4.5" fill="#d8d8d8"/>
<rect x="379.68" y="75.80" width="4.2" height="4.5" fill="#d8d8d8"/>
<rect x="384.61" y="75.80" width="4.2" height="4.5" fill="#d8d8d8"/>
<rect x="389.53" y="75.80" width="4.2" height="4.5" fill="#d8d8d8"/>
<rect x="394.46" y="75.80" width="4.2" height="4.5" fill="#d8d8d8"/>
<rect x="399.39" y="75.80" width="4.2" height="4.5" fill="#d8d8d8"/>
<rect x="404.31" y="75.80" width="4.2" height="4.5" fill="#d8d8d8"/>
<rect x="409.24" y="75.80" width="4.2" height="4.5" fill="#d8d8d8"/>
<rect x="414.16" y="75.80" width="4.2" height="4.5" fill="#d8d8d8"/>
<rect x="419.09" y="75.80" width="4.2" height="4.5" fill="#d8d8d8"/>
<rect x="424.02" y="75.80" width="4.2" height="4.5" fill="#d8d8d8"/>
<rect x="428.94" y="75.80" width="4.2" height="4.5" fill="#d8d8d8"/>
<rect x="433.87" y="75.80" width="4.2" height="4.5" fill="#d8d8d8"/>
<rect x="438.79" y="75.80" width="4.2" height="4.5" fill="#d8d8d8"/>
<text transform="translate(73.00,79.90) scale(1.006,1)" font-size="4.8" fill="#5e5e5e" font-style="italic" >CACNA1C</text>
<rect x="443.8" y="75.80" width="2.47" height="4.5" fill="#938a52"/>
<rect x="479.6" y="75.80" width="3.65" height="4.5" fill="#5f8cc7"/>
<text transform="translate(463.52,79.80)" font-size="5.0" fill="#222" >10.3%</text>
<text transform="translate(498.53,79.80)" font-size="5.0" fill="#222" >14.3%</text>
<rect x="98.90" y="81.80" width="4.2" height="4.5" fill="#d8d8d8"/>
<rect x="103.83" y="81.80" width="4.2" height="4.5" fill="#d8d8d8"/>
<rect x="108.75" y="81.80" width="4.2" height="4.5" fill="#d8d8d8"/>
<rect x="113.68" y="81.80" width="4.2" height="4.5" fill="#d8d8d8"/>
<rect x="118.60" y="81.80" width="4.2" height="4.5" fill="#d8d8d8"/>
<rect x="123.53" y="81.80" width="4.2" height="4.5" fill="#dc8a8d"/>
<rect x="128.46" y="81.80" width="4.2" height="4.5" fill="#d8d8d8"/>
<rect x="133.38" y="81.80" width="4.2" height="4.5" fill="#d8d8d8"/>
<rect x="138.31" y="81.80" width="4.2" height="4.5" fill="#d8d8d8"/>
<rect x="143.23" y="81.80" width="4.2" height="4.5" fill="#d8d8d8"/>
<rect x="148.16" y="81.80" width="4.2" height="4.5" fill="#d8d8d8"/>
<rect x="153.09" y="81.80" width="4.2" height="4.5" fill="#d8d8d8"/>
<rect x="158.01" y="81.80" width="4.2" height="4.5" fill="#d8d8d8"/>
<rect x="162.94" y="81.80" width="4.2" height="4.5" fill="#7c5ea8"/>
<rect x="167.86" y="81.80" width="4.2" height="4.5" fill="#d8d8d8"/>
<rect x="172.79" y="81.80" width="4.2" height="4.5" fill="#d8d8d8"/>
<rect x="177.72" y="81.80" width="4.2" height="4.5" fill="#d8d8d8"/>
<rect x="182.64" y="81.80" width="4.2" height="4.5" fill="#d8d8d8"/>
<rect x="187.57" y="81.80" width="4.2" height="4.5" fill="#d8d8d8"/>
<rect x="192.49" y="81.80" width="4.2" height="4.5" fill="#d8d8d8"/>
<rect x="197.42" y="81.80" width="4.2" height="4.5" fill="#d8d8d8"/>
<rect x="202.35" y="81.80" width="4.2" height="4.5" fill="#dc8a8d"/>
<rect x="207.27" y="81.80" width="4.2" height="4.5" fill="#d8d8d8"/>
<rect x="212.20" y="81.80" width="4.2" height="4.5" fill="#d8d8d8"/>
<rect x="217.12" y="81.80" width="4.2" height="4.5" fill="#dc8a8d"/>
<rect x="222.05" y="81.80" width="4.2" height="4.5" fill="#d8d8d8"/>
<rect x="226.98" y="81.80" width="4.2" height="4.5" fill="#d8d8d8"/>
<rect x="231.90" y="81.80" width="4.2" height="4.5" fill="#d8d8d8"/>
<rect x="236.83" y="81.80" width="4.2" height="4.5" fill="#d8d8d8"/>
<rect x="241.75" y="81.80" width="4.2" height="4.5" fill="#d8d8d8"/>
<rect x="246.68" y="81.80" width="4.2" height="4.5" fill="#d8d8d8"/>
<rect x="251.61" y="81.80" width="4.2" height="4.5" fill="#d8d8d8"/>
<rect x="256.53" y="81.80" width="4.2" height="4.5" fill="#d8d8d8"/>
<rect x="261.46" y="81.80" width="4.2" height="4.5" fill="#d8d8d8"/>
<rect x="266.38" y="81.80" width="4.2" height="4.5" fill="#d8d8d8"/>
<rect x="271.31" y="81.80" width="4.2" height="4.5" fill="#d8d8d8"/>
<rect x="276.24" y="81.80" width="4.2" height="4.5" fill="#d8d8d8"/>
<rect x="281.16" y="81.80" width="4.2" height="4.5" fill="#d8d8d8"/>
<rect x="286.09" y="81.80" width="4.2" height="4.5" fill="#d8d8d8"/>
<rect x="291.01" y="81.80" width="4.2" height="4.5" fill="#d8d8d8"/>
<rect x="295.94" y="81.80" width="4.2" height="4.5" fill="#d8d8d8"/>
<rect x="300.87" y="81.80" width="4.2" height="4.5" fill="#d8d8d8"/>
<rect x="305.79" y="81.80" width="4.2" height="4.5" fill="#d8d8d8"/>
<rect x="310.72" y="81.80" width="4.2" height="4.5" fill="#d8d8d8"/>
<rect x="315.64" y="81.80" width="4.2" height="4.5" fill="#dc8a8d"/>
<rect x="320.57" y="81.80" width="4.2" height="4.5" fill="#d8d8d8"/>
<rect x="325.50" y="81.80" width="4.2" height="4.5" fill="#d8d8d8"/>
<rect x="330.42" y="81.80" width="4.2" height="4.5" fill="#dc8a8d"/>
<rect x="335.35" y="81.80" width="4.2" height="4.5" fill="#d8d8d8"/>
<rect x="340.27" y="81.80" width="4.2" height="4.5" fill="#d8d8d8"/>
<rect x="345.20" y="81.80" width="4.2" height="4.5" fill="#d8d8d8"/>
<rect x="350.13" y="81.80" width="4.2" height="4.5" fill="#d8d8d8"/>
<rect x="355.05" y="81.80" width="4.2" height="4.5" fill="#d8d8d8"/>
<rect x="359.98" y="81.80" width="4.2" height="4.5" fill="#d8d8d8"/>
<rect x="364.90" y="81.80" width="4.2" height="4.5" fill="#d8d8d8"/>
<rect x="369.83" y="81.80" width="4.2" height="4.5" fill="#d8d8d8"/>
<rect x="374.76" y="81.80" width="4.2" height="4.5" fill="#d8d8d8"/>
<rect x="379.68" y="81.80" width="4.2" height="4.5" fill="#d8d8d8"/>
<rect x="384.61" y="81.80" width="4.2" height="4.5" fill="#d8d8d8"/>
<rect x="389.53" y="81.80" width="4.2" height="4.5" fill="#d8d8d8"/>
<rect x="394.46" y="81.80" width="4.2" height="4.5" fill="#d8d8d8"/>
<rect x="399.39" y="81.80" width="4.2" height="4.5" fill="#d8d8d8"/>
<rect x="404.31" y="81.80" width="4.2" height="4.5" fill="#d8d8d8"/>
<rect x="409.24" y="81.80" width="4.2" height="4.5" fill="#d8d8d8"/>
<rect x="414.16" y="81.80" width="4.2" height="4.5" fill="#d8d8d8"/>
<rect x="419.09" y="81.80" width="4.2" height="4.5" fill="#d8d8d8"/>
<rect x="424.02" y="81.80" width="4.2" height="4.5" fill="#d8d8d8"/>
<rect x="428.94" y="81.80" width="4.2" height="4.5" fill="#d8d8d8"/>
<rect x="433.87" y="81.80" width="4.2" height="4.5" fill="#d8d8d8"/>
<rect x="438.79" y="81.80" width="4.2" height="4.5" fill="#d8d8d8"/>
<text transform="translate(73.00,85.90) scale(0.950,1)" font-size="4.8" fill="#5e5e5e" font-style="italic" >MAST2</text>
<rect x="443.8" y="81.80" width="2.47" height="4.5" fill="#938a52"/>
<rect x="479.6" y="81.80" width="3.65" height="4.5" fill="#5f8cc7"/>
<text transform="translate(463.52,85.80)" font-size="5.0" fill="#222" >10.3%</text>
<text transform="translate(498.53,85.80)" font-size="5.0" fill="#222" >14.3%</text>
<rect x="98.90" y="87.70" width="4.2" height="4.5" fill="#d8d8d8"/>
<rect x="103.83" y="87.70" width="4.2" height="4.5" fill="#d8d8d8"/>
<rect x="108.75" y="87.70" width="4.2" height="4.5" fill="#d8d8d8"/>
<rect x="113.68" y="87.70" width="4.2" height="4.5" fill="#d8d8d8"/>
<rect x="118.60" y="87.70" width="4.2" height="4.5" fill="#d8d8d8"/>
<rect x="123.53" y="87.70" width="4.2" height="4.5" fill="#dc8a8d"/>
<rect x="128.46" y="87.70" width="4.2" height="4.5" fill="#d8d8d8"/>
<rect x="133.38" y="87.70" width="4.2" height="4.5" fill="#d8d8d8"/>
<rect x="138.31" y="87.70" width="4.2" height="4.5" fill="#d8d8d8"/>
<rect x="143.23" y="87.70" width="4.2" height="4.5" fill="#d8d8d8"/>
<rect x="148.16" y="87.70" width="4.2" height="4.5" fill="#d8d8d8"/>
<rect x="153.09" y="87.70" width="4.2" height="4.5" fill="#d8d8d8"/>
<rect x="158.01" y="87.70" width="4.2" height="4.5" fill="#d8d8d8"/>
<rect x="162.94" y="87.70" width="4.2" height="4.5" fill="#dc8a8d"/>
<rect x="167.86" y="87.70" width="4.2" height="4.5" fill="#d8d8d8"/>
<rect x="172.79" y="87.70" width="4.2" height="4.5" fill="#d8d8d8"/>
<rect x="177.72" y="87.70" width="4.2" height="4.5" fill="#d8d8d8"/>
<rect x="182.64" y="87.70" width="4.2" height="4.5" fill="#d8d8d8"/>
<rect x="187.57" y="87.70" width="4.2" height="4.5" fill="#d8d8d8"/>
<rect x="192.49" y="87.70" width="4.2" height="4.5" fill="#d8d8d8"/>
<rect x="197.42" y="87.70" width="4.2" height="4.5" fill="#d8d8d8"/>
<rect x="202.35" y="87.70" width="4.2" height="4.5" fill="#dc8a8d"/>
<rect x="207.27" y="87.70" width="4.2" height="4.5" fill="#d8d8d8"/>
<rect x="212.20" y="87.70" width="4.2" height="4.5" fill="#d8d8d8"/>
<rect x="217.12" y="87.70" width="4.2" height="4.5" fill="#dc8a8d"/>
<rect x="222.05" y="87.70" width="4.2" height="4.5" fill="#d8d8d8"/>
<rect x="226.98" y="87.70" width="4.2" height="4.5" fill="#d8d8d8"/>
<rect x="231.90" y="87.70" width="4.2" height="4.5" fill="#d8d8d8"/>
<rect x="236.83" y="87.70" width="4.2" height="4.5" fill="#d8d8d8"/>
<rect x="241.75" y="87.70" width="4.2" height="4.5" fill="#d8d8d8"/>
<rect x="246.68" y="87.70" width="4.2" height="4.5" fill="#d8d8d8"/>
<rect x="251.61" y="87.70" width="4.2" height="4.5" fill="#d8d8d8"/>
<rect x="256.53" y="87.70" width="4.2" height="4.5" fill="#d8d8d8"/>
<rect x="261.46" y="87.70" width="4.2" height="4.5" fill="#d8d8d8"/>
<rect x="266.38" y="87.70" width="4.2" height="4.5" fill="#d8d8d8"/>
<rect x="271.31" y="87.70" width="4.2" height="4.5" fill="#d8d8d8"/>
<rect x="276.24" y="87.70" width="4.2" height="4.5" fill="#d8d8d8"/>
<rect x="281.16" y="87.70" width="4.2" height="4.5" fill="#d8d8d8"/>
<rect x="286.09" y="87.70" width="4.2" height="4.5" fill="#d8d8d8"/>
<rect x="291.01" y="87.70" width="4.2" height="4.5" fill="#d8d8d8"/>
<rect x="295.94" y="87.70" width="4.2" height="4.5" fill="#d8d8d8"/>
<rect x="300.87" y="87.70" width="4.2" height="4.5" fill="#d8d8d8"/>
<rect x="305.79" y="87.70" width="4.2" height="4.5" fill="#d8d8d8"/>
<rect x="310.72" y="87.70" width="4.2" height="4.5" fill="#d8d8d8"/>
<rect x="315.64" y="87.70" width="4.2" height="4.5" fill="#d8d8d8"/>
<rect x="320.57" y="87.70" width="4.2" height="4.5" fill="#d8d8d8"/>
<rect x="325.50" y="87.70" width="4.2" height="4.5" fill="#dc8a8d"/>
<rect x="330.42" y="87.70" width="4.2" height="4.5" fill="#d8d8d8"/>
<rect x="335.35" y="87.70" width="4.2" height="4.5" fill="#d8d8d8"/>
<rect x="340.27" y="87.70" width="4.2" height="4.5" fill="#d8d8d8"/>
<rect x="345.20" y="87.70" width="4.2" height="4.5" fill="#d8d8d8"/>
<rect x="350.13" y="87.70" width="4.2" height="4.5" fill="#d8d8d8"/>
<rect x="355.05" y="87.70" width="4.2" height="4.5" fill="#d8d8d8"/>
<rect x="359.98" y="87.70" width="4.2" height="4.5" fill="#d8d8d8"/>
<rect x="364.90" y="87.70" width="4.2" height="4.5" fill="#d8d8d8"/>
<rect x="369.83" y="87.70" width="4.2" height="4.5" fill="#d8d8d8"/>
<rect x="374.76" y="87.70" width="4.2" height="4.5" fill="#d8d8d8"/>
<rect x="379.68" y="87.70" width="4.2" height="4.5" fill="#d8d8d8"/>
<rect x="384.61" y="87.70" width="4.2" height="4.5" fill="#d8d8d8"/>
<rect x="389.53" y="87.70" width="4.2" height="4.5" fill="#d8d8d8"/>
<rect x="394.46" y="87.70" width="4.2" height="4.5" fill="#d8d8d8"/>
<rect x="399.39" y="87.70" width="4.2" height="4.5" fill="#d8d8d8"/>
<rect x="404.31" y="87.70" width="4.2" height="4.5" fill="#d8d8d8"/>
<rect x="409.24" y="87.70" width="4.2" height="4.5" fill="#d8d8d8"/>
<rect x="414.16" y="87.70" width="4.2" height="4.5" fill="#d8d8d8"/>
<rect x="419.09" y="87.70" width="4.2" height="4.5" fill="#d8d8d8"/>
<rect x="424.02" y="87.70" width="4.2" height="4.5" fill="#d8d8d8"/>
<rect x="428.94" y="87.70" width="4.2" height="4.5" fill="#d8d8d8"/>
<rect x="433.87" y="87.70" width="4.2" height="4.5" fill="#d8d8d8"/>
<rect x="438.79" y="87.70" width="4.2" height="4.5" fill="#d8d8d8"/>
<text transform="translate(73.02,91.80) scale(0.983,1)" font-size="4.8" fill="#5e5e5e" font-style="italic" >JAK3</text>
<rect x="443.8" y="87.70" width="2.06" height="4.5" fill="#938a52"/>
<rect x="479.6" y="87.70" width="2.73" height="4.5" fill="#5f8cc7"/>
<text transform="translate(466.30,91.70)" font-size="5.0" fill="#222" >8.6%</text>
<text transform="translate(498.53,91.70)" font-size="5.0" fill="#222" >10.7%</text>
<rect x="98.90" y="93.50" width="4.2" height="4.5" fill="#d8d8d8"/>
<rect x="103.83" y="93.50" width="4.2" height="4.5" fill="#d8d8d8"/>
<rect x="108.75" y="93.50" width="4.2" height="4.5" fill="#d8d8d8"/>
<rect x="113.68" y="93.50" width="4.2" height="4.5" fill="#d8d8d8"/>
<rect x="118.60" y="93.50" width="4.2" height="4.5" fill="#d8d8d8"/>
<rect x="123.53" y="93.50" width="4.2" height="4.5" fill="#d8d8d8"/>
<rect x="128.46" y="93.50" width="4.2" height="4.5" fill="#dc8a8d"/>
<rect x="133.38" y="93.50" width="4.2" height="4.5" fill="#d8d8d8"/>
<rect x="138.31" y="93.50" width="4.2" height="4.5" fill="#d8d8d8"/>
<rect x="143.23" y="93.50" width="4.2" height="4.5" fill="#d8d8d8"/>
<rect x="148.16" y="93.50" width="4.2" height="4.5" fill="#d8d8d8"/>
<rect x="153.09" y="93.50" width="4.2" height="4.5" fill="#d8d8d8"/>
<rect x="158.01" y="93.50" width="4.2" height="4.5" fill="#d8d8d8"/>
<rect x="162.94" y="93.50" width="4.2" height="4.5" fill="#8a8046"/>
<rect x="167.86" y="93.50" width="4.2" height="4.5" fill="#d8d8d8"/>
<rect x="172.79" y="93.50" width="4.2" height="4.5" fill="#d8d8d8"/>
<rect x="177.72" y="93.50" width="4.2" height="4.5" fill="#d8d8d8"/>
<rect x="182.64" y="93.50" width="4.2" height="4.5" fill="#d8d8d8"/>
<rect x="187.57" y="93.50" width="4.2" height="4.5" fill="#d8d8d8"/>
<rect x="192.49" y="93.50" width="4.2" height="4.5" fill="#d8d8d8"/>
<rect x="197.42" y="93.50" width="4.2" height="4.5" fill="#d8d8d8"/>
<rect x="202.35" y="93.50" width="4.2" height="4.5" fill="#d8d8d8"/>
<rect x="207.27" y="93.50" width="4.2" height="4.5" fill="#d8d8d8"/>
<rect x="212.20" y="93.50" width="4.2" height="4.5" fill="#d8d8d8"/>
<rect x="217.12" y="93.50" width="4.2" height="4.5" fill="#d8d8d8"/>
<rect x="222.05" y="93.50" width="4.2" height="4.5" fill="#d8d8d8"/>
<rect x="226.98" y="93.50" width="4.2" height="4.5" fill="#dc8a8d"/>
<rect x="231.90" y="93.50" width="4.2" height="4.5" fill="#d8d8d8"/>
<rect x="236.83" y="93.50" width="4.2" height="4.5" fill="#d8d8d8"/>
<rect x="241.75" y="93.50" width="4.2" height="4.5" fill="#d8d8d8"/>
<rect x="246.68" y="93.50" width="4.2" height="4.5" fill="#d8d8d8"/>
<rect x="251.61" y="93.50" width="4.2" height="4.5" fill="#d8d8d8"/>
<rect x="256.53" y="93.50" width="4.2" height="4.5" fill="#d8d8d8"/>
<rect x="261.46" y="93.50" width="4.2" height="4.5" fill="#d8d8d8"/>
<rect x="266.38" y="93.50" width="4.2" height="4.5" fill="#d8d8d8"/>
<rect x="271.31" y="93.50" width="4.2" height="4.5" fill="#d8d8d8"/>
<rect x="276.24" y="93.50" width="4.2" height="4.5" fill="#d8d8d8"/>
<rect x="281.16" y="93.50" width="4.2" height="4.5" fill="#d8d8d8"/>
<rect x="286.09" y="93.50" width="4.2" height="4.5" fill="#d8d8d8"/>
<rect x="291.01" y="93.50" width="4.2" height="4.5" fill="#d8d8d8"/>
<rect x="295.94" y="93.50" width="4.2" height="4.5" fill="#d8d8d8"/>
<rect x="300.87" y="93.50" width="4.2" height="4.5" fill="#d8d8d8"/>
<rect x="305.79" y="93.50" width="4.2" height="4.5" fill="#d8d8d8"/>
<rect x="310.72" y="93.50" width="4.2" height="4.5" fill="#d8d8d8"/>
<rect x="315.64" y="93.50" width="4.2" height="4.5" fill="#d8d8d8"/>
<rect x="320.57" y="93.50" width="4.2" height="4.5" fill="#d8d8d8"/>
<rect x="325.50" y="93.50" width="4.2" height="4.5" fill="#dc8a8d"/>
<rect x="330.42" y="93.50" width="4.2" height="4.5" fill="#d8d8d8"/>
<rect x="335.35" y="93.50" width="4.2" height="4.5" fill="#d8d8d8"/>
<rect x="340.27" y="93.50" width="4.2" height="4.5" fill="#d8d8d8"/>
<rect x="345.20" y="93.50" width="4.2" height="4.5" fill="#d8d8d8"/>
<rect x="350.13" y="93.50" width="4.2" height="4.5" fill="#d8d8d8"/>
<rect x="355.05" y="93.50" width="4.2" height="4.5" fill="#d8d8d8"/>
<rect x="359.98" y="93.50" width="4.2" height="4.5" fill="#d8d8d8"/>
<rect x="364.90" y="93.50" width="4.2" height="4.5" fill="#d8d8d8"/>
<rect x="369.83" y="93.50" width="4.2" height="4.5" fill="#dc8a8d"/>
<rect x="374.76" y="93.50" width="4.2" height="4.5" fill="#d8d8d8"/>
<rect x="379.68" y="93.50" width="4.2" height="4.5" fill="#d8d8d8"/>
<rect x="384.61" y="93.50" width="4.2" height="4.5" fill="#d8d8d8"/>
<rect x="389.53" y="93.50" width="4.2" height="4.5" fill="#d8d8d8"/>
<rect x="394.46" y="93.50" width="4.2" height="4.5" fill="#d8d8d8"/>
<rect x="399.39" y="93.50" width="4.2" height="4.5" fill="#d8d8d8"/>
<rect x="404.31" y="93.50" width="4.2" height="4.5" fill="#d8d8d8"/>
<rect x="409.24" y="93.50" width="4.2" height="4.5" fill="#d8d8d8"/>
<rect x="414.16" y="93.50" width="4.2" height="4.5" fill="#d8d8d8"/>
<rect x="419.09" y="93.50" width="4.2" height="4.5" fill="#d8d8d8"/>
<rect x="424.02" y="93.50" width="4.2" height="4.5" fill="#d8d8d8"/>
<rect x="428.94" y="93.50" width="4.2" height="4.5" fill="#d8d8d8"/>
<rect x="433.87" y="93.50" width="4.2" height="4.5" fill="#d8d8d8"/>
<rect x="438.79" y="93.50" width="4.2" height="4.5" fill="#d8d8d8"/>
<text transform="translate(73.00,97.60) scale(0.931,1)" font-size="4.8" fill="#5e5e5e" font-style="italic" >DICER1</text>
<rect x="443.8" y="93.50" width="2.06" height="4.5" fill="#938a52"/>
<rect x="479.6" y="93.50" width="2.73" height="4.5" fill="#5f8cc7"/>
<text transform="translate(466.30,97.50)" font-size="5.0" fill="#222" >8.6%</text>
<text transform="translate(498.53,97.50)" font-size="5.0" fill="#222" >10.7%</text>
<rect x="98.90" y="99.60" width="4.2" height="4.5" fill="#d8d8d8"/>
<rect x="103.83" y="99.60" width="4.2" height="4.5" fill="#d8d8d8"/>
<rect x="108.75" y="99.60" width="4.2" height="4.5" fill="#d8d8d8"/>
<rect x="113.68" y="99.60" width="4.2" height="4.5" fill="#d8d8d8"/>
<rect x="118.60" y="99.60" width="4.2" height="4.5" fill="#d8d8d8"/>
<rect x="123.53" y="99.60" width="4.2" height="4.5" fill="#d8d8d8"/>
<rect x="128.46" y="99.60" width="4.2" height="4.5" fill="#d8d8d8"/>
<rect x="133.38" y="99.60" width="4.2" height="4.5" fill="#d8d8d8"/>
<rect x="138.31" y="99.60" width="4.2" height="4.5" fill="#d8d8d8"/>
<rect x="143.23" y="99.60" width="4.2" height="4.5" fill="#d8d8d8"/>
<rect x="148.16" y="99.60" width="4.2" height="4.5" fill="#d8d8d8"/>
<rect x="153.09" y="99.60" width="4.2" height="4.5" fill="#d8d8d8"/>
<rect x="158.01" y="99.60" width="4.2" height="4.5" fill="#d8d8d8"/>
<rect x="162.94" y="99.60" width="4.2" height="4.5" fill="#d8d8d8"/>
<rect x="167.86" y="99.60" width="4.2" height="4.5" fill="#d8d8d8"/>
<rect x="172.79" y="99.60" width="4.2" height="4.5" fill="#d8d8d8"/>
<rect x="177.72" y="99.60" width="4.2" height="4.5" fill="#d8d8d8"/>
<rect x="182.64" y="99.60" width="4.2" height="4.5" fill="#d8d8d8"/>
<rect x="187.57" y="99.60" width="4.2" height="4.5" fill="#d8d8d8"/>
<rect x="192.49" y="99.60" width="4.2" height="4.5" fill="#d8d8d8"/>
<rect x="197.42" y="99.60" width="4.2" height="4.5" fill="#d8d8d8"/>
<rect x="202.35" y="99.60" width="4.2" height="4.5" fill="#dc8a8d"/>
<rect x="207.27" y="99.60" width="4.2" height="4.5" fill="#d8d8d8"/>
<rect x="212.20" y="99.60" width="4.2" height="4.5" fill="#d8d8d8"/>
<rect x="217.12" y="99.60" width="4.2" height="4.5" fill="#dc8a8d"/>
<rect x="222.05" y="99.60" width="4.2" height="4.5" fill="#d8d8d8"/>
<rect x="226.98" y="99.60" width="4.2" height="4.5" fill="#d8d8d8"/>
<rect x="231.90" y="99.60" width="4.2" height="4.5" fill="#d8d8d8"/>
<rect x="236.83" y="99.60" width="4.2" height="4.5" fill="#d8d8d8"/>
<rect x="241.75" y="99.60" width="4.2" height="4.5" fill="#d8d8d8"/>
<rect x="246.68" y="99.60" width="4.2" height="4.5" fill="#d8d8d8"/>
<rect x="251.61" y="99.60" width="4.2" height="4.5" fill="#d8d8d8"/>
<rect x="256.53" y="99.60" width="4.2" height="4.5" fill="#d8d8d8"/>
<rect x="261.46" y="99.60" width="4.2" height="4.5" fill="#d8d8d8"/>
<rect x="266.38" y="99.60" width="4.2" height="4.5" fill="#d8d8d8"/>
<rect x="271.31" y="99.60" width="4.2" height="4.5" fill="#d8d8d8"/>
<rect x="276.24" y="99.60" width="4.2" height="4.5" fill="#d8d8d8"/>
<rect x="281.16" y="99.60" width="4.2" height="4.5" fill="#d8d8d8"/>
<rect x="286.09" y="99.60" width="4.2" height="4.5" fill="#d8d8d8"/>
<rect x="291.01" y="99.60" width="4.2" height="4.5" fill="#d8d8d8"/>
<rect x="295.94" y="99.60" width="4.2" height="4.5" fill="#d8d8d8"/>
<rect x="300.87" y="99.60" width="4.2" height="4.5" fill="#d8d8d8"/>
<rect x="305.79" y="99.60" width="4.2" height="4.5" fill="#d8d8d8"/>
<rect x="310.72" y="99.60" width="4.2" height="4.5" fill="#d8d8d8"/>
<rect x="315.64" y="99.60" width="4.2" height="4.5" fill="#dc8a8d"/>
<rect x="320.57" y="99.60" width="4.2" height="4.5" fill="#d8d8d8"/>
<rect x="325.50" y="99.60" width="4.2" height="4.5" fill="#8a8046"/>
<rect x="330.42" y="99.60" width="4.2" height="4.5" fill="#d8d8d8"/>
<rect x="335.35" y="99.60" width="4.2" height="4.5" fill="#d8d8d8"/>
<rect x="340.27" y="99.60" width="4.2" height="4.5" fill="#d8d8d8"/>
<rect x="345.20" y="99.60" width="4.2" height="4.5" fill="#d8d8d8"/>
<rect x="350.13" y="99.60" width="4.2" height="4.5" fill="#d8d8d8"/>
<rect x="355.05" y="99.60" width="4.2" height="4.5" fill="#dc8a8d"/>
<rect x="359.98" y="99.60" width="4.2" height="4.5" fill="#d8d8d8"/>
<rect x="364.90" y="99.60" width="4.2" height="4.5" fill="#d8d8d8"/>
<rect x="369.83" y="99.60" width="4.2" height="4.5" fill="#d8d8d8"/>
<rect x="374.76" y="99.60" width="4.2" height="4.5" fill="#d8d8d8"/>
<rect x="379.68" y="99.60" width="4.2" height="4.5" fill="#d8d8d8"/>
<rect x="384.61" y="99.60" width="4.2" height="4.5" fill="#d8d8d8"/>
<rect x="389.53" y="99.60" width="4.2" height="4.5" fill="#d8d8d8"/>
<rect x="394.46" y="99.60" width="4.2" height="4.5" fill="#d8d8d8"/>
<rect x="399.39" y="99.60" width="4.2" height="4.5" fill="#d8d8d8"/>
<rect x="404.31" y="99.60" width="4.2" height="4.5" fill="#d8d8d8"/>
<rect x="409.24" y="99.60" width="4.2" height="4.5" fill="#d8d8d8"/>
<rect x="414.16" y="99.60" width="4.2" height="4.5" fill="#d8d8d8"/>
<rect x="419.09" y="99.60" width="4.2" height="4.5" fill="#d8d8d8"/>
<rect x="424.02" y="99.60" width="4.2" height="4.5" fill="#dc8a8d"/>
<rect x="428.94" y="99.60" width="4.2" height="4.5" fill="#d8d8d8"/>
<rect x="433.87" y="99.60" width="4.2" height="4.5" fill="#d8d8d8"/>
<rect x="438.79" y="99.60" width="4.2" height="4.5" fill="#d8d8d8"/>
<text transform="translate(73.00,103.70) scale(0.916,1)" font-size="4.8" fill="#5e5e5e" font-style="italic" >CIITA</text>
<rect x="443.8" y="99.60" width="2.06" height="4.5" fill="#938a52"/>
<rect x="479.6" y="99.60" width="1.81" height="4.5" fill="#5f8cc7"/>
<text transform="translate(466.30,103.60)" font-size="5.0" fill="#222" >8.6%</text>
<text transform="translate(501.30,103.60)" font-size="5.0" fill="#222" >7.1%</text>
<rect x="98.90" y="105.70" width="4.2" height="4.5" fill="#d8d8d8"/>
<rect x="103.83" y="105.70" width="4.2" height="4.5" fill="#d8d8d8"/>
<rect x="108.75" y="105.70" width="4.2" height="4.5" fill="#d8d8d8"/>
<rect x="113.68" y="105.70" width="4.2" height="4.5" fill="#d8d8d8"/>
<rect x="118.60" y="105.70" width="4.2" height="4.5" fill="#d8d8d8"/>
<rect x="123.53" y="105.70" width="4.2" height="4.5" fill="#d8d8d8"/>
<rect x="128.46" y="105.70" width="4.2" height="4.5" fill="#d8d8d8"/>
<rect x="133.38" y="105.70" width="4.2" height="4.5" fill="#d8d8d8"/>
<rect x="138.31" y="105.70" width="4.2" height="4.5" fill="#d8d8d8"/>
<rect x="143.23" y="105.70" width="4.2" height="4.5" fill="#d8d8d8"/>
<rect x="148.16" y="105.70" width="4.2" height="4.5" fill="#d8d8d8"/>
<rect x="153.09" y="105.70" width="4.2" height="4.5" fill="#d8d8d8"/>
<rect x="158.01" y="105.70" width="4.2" height="4.5" fill="#d8d8d8"/>
<rect x="162.94" y="105.70" width="4.2" height="4.5" fill="#dc8a8d"/>
<rect x="167.86" y="105.70" width="4.2" height="4.5" fill="#d8d8d8"/>
<rect x="172.79" y="105.70" width="4.2" height="4.5" fill="#d8d8d8"/>
<rect x="177.72" y="105.70" width="4.2" height="4.5" fill="#d8d8d8"/>
<rect x="182.64" y="105.70" width="4.2" height="4.5" fill="#d8d8d8"/>
<rect x="187.57" y="105.70" width="4.2" height="4.5" fill="#d8d8d8"/>
<rect x="192.49" y="105.70" width="4.2" height="4.5" fill="#d8d8d8"/>
<rect x="197.42" y="105.70" width="4.2" height="4.5" fill="#d8d8d8"/>
<rect x="202.35" y="105.70" width="4.2" height="4.5" fill="#d8d8d8"/>
<rect x="207.27" y="105.70" width="4.2" height="4.5" fill="#d8d8d8"/>
<rect x="212.20" y="105.70" width="4.2" height="4.5" fill="#d8d8d8"/>
<rect x="217.12" y="105.70" width="4.2" height="4.5" fill="#d8d8d8"/>
<rect x="222.05" y="105.70" width="4.2" height="4.5" fill="#d8d8d8"/>
<rect x="226.98" y="105.70" width="4.2" height="4.5" fill="#d8d8d8"/>
<rect x="231.90" y="105.70" width="4.2" height="4.5" fill="#d8d8d8"/>
<rect x="236.83" y="105.70" width="4.2" height="4.5" fill="#d8d8d8"/>
<rect x="241.75" y="105.70" width="4.2" height="4.5" fill="#d8d8d8"/>
<rect x="246.68" y="105.70" width="4.2" height="4.5" fill="#d8d8d8"/>
<rect x="251.61" y="105.70" width="4.2" height="4.5" fill="#d8d8d8"/>
<rect x="256.53" y="105.70" width="4.2" height="4.5" fill="#d8d8d8"/>
<rect x="261.46" y="105.70" width="4.2" height="4.5" fill="#d8d8d8"/>
<rect x="266.38" y="105.70" width="4.2" height="4.5" fill="#d8d8d8"/>
<rect x="271.31" y="105.70" width="4.2" height="4.5" fill="#d8d8d8"/>
<rect x="276.24" y="105.70" width="4.2" height="4.5" fill="#d8d8d8"/>
<rect x="281.16" y="105.70" width="4.2" height="4.5" fill="#d8d8d8"/>
<rect x="286.09" y="105.70" width="4.2" height="4.5" fill="#d8d8d8"/>
<rect x="291.01" y="105.70" width="4.2" height="4.5" fill="#dc8a8d"/>
<rect x="295.94" y="105.70" width="4.2" height="4.5" fill="#d8d8d8"/>
<rect x="300.87" y="105.70" width="4.2" height="4.5" fill="#d8d8d8"/>
<rect x="305.79" y="105.70" width="4.2" height="4.5" fill="#d8d8d8"/>
<rect x="310.72" y="105.70" width="4.2" height="4.5" fill="#d8d8d8"/>
<rect x="315.64" y="105.70" width="4.2" height="4.5" fill="#8a8046"/>
<rect x="320.57" y="105.70" width="4.2" height="4.5" fill="#d8d8d8"/>
<rect x="325.50" y="105.70" width="4.2" height="4.5" fill="#8a8046"/>
<rect x="330.42" y="105.70" width="4.2" height="4.5" fill="#d8d8d8"/>
<rect x="335.35" y="105.70" width="4.2" height="4.5" fill="#d8d8d8"/>
<rect x="340.27" y="105.70" width="4.2" height="4.5" fill="#d8d8d8"/>
<rect x="345.20" y="105.70" width="4.2" height="4.5" fill="#d8d8d8"/>
<rect x="350.13" y="105.70" width="4.2" height="4.5" fill="#dc8a8d"/>
<rect x="355.05" y="105.70" width="4.2" height="4.5" fill="#d8d8d8"/>
<rect x="359.98" y="105.70" width="4.2" height="4.5" fill="#d8d8d8"/>
<rect x="364.90" y="105.70" width="4.2" height="4.5" fill="#d8d8d8"/>
<rect x="369.83" y="105.70" width="4.2" height="4.5" fill="#d8d8d8"/>
<rect x="374.76" y="105.70" width="4.2" height="4.5" fill="#d8d8d8"/>
<rect x="379.68" y="105.70" width="4.2" height="4.5" fill="#d8d8d8"/>
<rect x="384.61" y="105.70" width="4.2" height="4.5" fill="#d8d8d8"/>
<rect x="389.53" y="105.70" width="4.2" height="4.5" fill="#d8d8d8"/>
<rect x="394.46" y="105.70" width="4.2" height="4.5" fill="#d8d8d8"/>
<rect x="399.39" y="105.70" width="4.2" height="4.5" fill="#d8d8d8"/>
<rect x="404.31" y="105.70" width="4.2" height="4.5" fill="#d8d8d8"/>
<rect x="409.24" y="105.70" width="4.2" height="4.5" fill="#d8d8d8"/>
<rect x="414.16" y="105.70" width="4.2" height="4.5" fill="#d8d8d8"/>
<rect x="419.09" y="105.70" width="4.2" height="4.5" fill="#d8d8d8"/>
<rect x="424.02" y="105.70" width="4.2" height="4.5" fill="#d8d8d8"/>
<rect x="428.94" y="105.70" width="4.2" height="4.5" fill="#d8d8d8"/>
<rect x="433.87" y="105.70" width="4.2" height="4.5" fill="#d8d8d8"/>
<rect x="438.79" y="105.70" width="4.2" height="4.5" fill="#d8d8d8"/>
<text transform="translate(73.00,109.80) scale(1.010,1)" font-size="4.8" fill="#5e5e5e" font-style="italic" >CAPN1*</text>
<rect x="443.8" y="105.70" width="2.06" height="4.5" fill="#938a52"/>
<rect x="479.6" y="105.70" width="3.65" height="4.5" fill="#5f8cc7"/>
<text transform="translate(466.30,109.70)" font-size="5.0" fill="#222" >8.6%</text>
<text transform="translate(498.53,109.70)" font-size="5.0" fill="#222" >14.3%</text>
<rect x="98.90" y="111.50" width="4.2" height="4.5" fill="#d8d8d8"/>
<rect x="103.83" y="111.50" width="4.2" height="4.5" fill="#d8d8d8"/>
<rect x="108.75" y="111.50" width="4.2" height="4.5" fill="#d8d8d8"/>
<rect x="113.68" y="111.50" width="4.2" height="4.5" fill="#d8d8d8"/>
<rect x="118.60" y="111.50" width="4.2" height="4.5" fill="#d8d8d8"/>
<rect x="123.53" y="111.50" width="4.2" height="4.5" fill="#d8d8d8"/>
<rect x="128.46" y="111.50" width="4.2" height="4.5" fill="#d8d8d8"/>
<rect x="133.38" y="111.50" width="4.2" height="4.5" fill="#d8d8d8"/>
<rect x="138.31" y="111.50" width="4.2" height="4.5" fill="#d8d8d8"/>
<rect x="143.23" y="111.50" width="4.2" height="4.5" fill="#d8d8d8"/>
<rect x="148.16" y="111.50" width="4.2" height="4.5" fill="#d8d8d8"/>
<rect x="153.09" y="111.50" width="4.2" height="4.5" fill="#d8d8d8"/>
<rect x="158.01" y="111.50" width="4.2" height="4.5" fill="#d8d8d8"/>
<rect x="162.94" y="111.50" width="4.2" height="4.5" fill="#d8d8d8"/>
<rect x="167.86" y="111.50" width="4.2" height="4.5" fill="#d8d8d8"/>
<rect x="172.79" y="111.50" width="4.2" height="4.5" fill="#d8d8d8"/>
<rect x="177.72" y="111.50" width="4.2" height="4.5" fill="#d8d8d8"/>
<rect x="182.64" y="111.50" width="4.2" height="4.5" fill="#d8d8d8"/>
<rect x="187.57" y="111.50" width="4.2" height="4.5" fill="#d8d8d8"/>
<rect x="192.49" y="111.50" width="4.2" height="4.5" fill="#d8d8d8"/>
<rect x="197.42" y="111.50" width="4.2" height="4.5" fill="#d8d8d8"/>
<rect x="202.35" y="111.50" width="4.2" height="4.5" fill="#d8d8d8"/>
<rect x="207.27" y="111.50" width="4.2" height="4.5" fill="#d8d8d8"/>
<rect x="212.20" y="111.50" width="4.2" height="4.5" fill="#d8d8d8"/>
<rect x="217.12" y="111.50" width="4.2" height="4.5" fill="#d8d8d8"/>
<rect x="222.05" y="111.50" width="4.2" height="4.5" fill="#d8d8d8"/>
<rect x="226.98" y="111.50" width="4.2" height="4.5" fill="#dc8a8d"/>
<rect x="231.90" y="111.50" width="4.2" height="4.5" fill="#d8d8d8"/>
<rect x="236.83" y="111.50" width="4.2" height="4.5" fill="#d8d8d8"/>
<rect x="241.75" y="111.50" width="4.2" height="4.5" fill="#d8d8d8"/>
<rect x="246.68" y="111.50" width="4.2" height="4.5" fill="#d8d8d8"/>
<rect x="251.61" y="111.50" width="4.2" height="4.5" fill="#d8d8d8"/>
<rect x="256.53" y="111.50" width="4.2" height="4.5" fill="#d8d8d8"/>
<rect x="261.46" y="111.50" width="4.2" height="4.5" fill="#d8d8d8"/>
<rect x="266.38" y="111.50" width="4.2" height="4.5" fill="#d8d8d8"/>
<rect x="271.31" y="111.50" width="4.2" height="4.5" fill="#d8d8d8"/>
<rect x="276.24" y="111.50" width="4.2" height="4.5" fill="#d8d8d8"/>
<rect x="281.16" y="111.50" width="4.2" height="4.5" fill="#d8d8d8"/>
<rect x="286.09" y="111.50" width="4.2" height="4.5" fill="#d8d8d8"/>
<rect x="291.01" y="111.50" width="4.2" height="4.5" fill="#d8d8d8"/>
<rect x="295.94" y="111.50" width="4.2" height="4.5" fill="#d8d8d8"/>
<rect x="300.87" y="111.50" width="4.2" height="4.5" fill="#dc8a8d"/>
<rect x="305.79" y="111.50" width="4.2" height="4.5" fill="#d8d8d8"/>
<rect x="310.72" y="111.50" width="4.2" height="4.5" fill="#d8d8d8"/>
<rect x="315.64" y="111.50" width="4.2" height="4.5" fill="#d8d8d8"/>
<rect x="320.57" y="111.50" width="4.2" height="4.5" fill="#d8d8d8"/>
<rect x="325.50" y="111.50" width="4.2" height="4.5" fill="#dc8a8d"/>
<rect x="330.42" y="111.50" width="4.2" height="4.5" fill="#d8d8d8"/>
<rect x="335.35" y="111.50" width="4.2" height="4.5" fill="#d8d8d8"/>
<rect x="340.27" y="111.50" width="4.2" height="4.5" fill="#dc8a8d"/>
<rect x="345.20" y="111.50" width="4.2" height="4.5" fill="#d8d8d8"/>
<rect x="350.13" y="111.50" width="4.2" height="4.5" fill="#d8d8d8"/>
<rect x="355.05" y="111.50" width="4.2" height="4.5" fill="#d8d8d8"/>
<rect x="359.98" y="111.50" width="4.2" height="4.5" fill="#d8d8d8"/>
<rect x="364.90" y="111.50" width="4.2" height="4.5" fill="#d8d8d8"/>
<rect x="369.83" y="111.50" width="4.2" height="4.5" fill="#dc8a8d"/>
<rect x="374.76" y="111.50" width="4.2" height="4.5" fill="#d8d8d8"/>
<rect x="379.68" y="111.50" width="4.2" height="4.5" fill="#d8d8d8"/>
<rect x="384.61" y="111.50" width="4.2" height="4.5" fill="#d8d8d8"/>
<rect x="389.53" y="111.50" width="4.2" height="4.5" fill="#d8d8d8"/>
<rect x="394.46" y="111.50" width="4.2" height="4.5" fill="#d8d8d8"/>
<rect x="399.39" y="111.50" width="4.2" height="4.5" fill="#d8d8d8"/>
<rect x="404.31" y="111.50" width="4.2" height="4.5" fill="#d8d8d8"/>
<rect x="409.24" y="111.50" width="4.2" height="4.5" fill="#dc8a8d"/>
<rect x="414.16" y="111.50" width="4.2" height="4.5" fill="#d8d8d8"/>
<rect x="419.09" y="111.50" width="4.2" height="4.5" fill="#d8d8d8"/>
<rect x="424.02" y="111.50" width="4.2" height="4.5" fill="#d8d8d8"/>
<rect x="428.94" y="111.50" width="4.2" height="4.5" fill="#d8d8d8"/>
<rect x="433.87" y="111.50" width="4.2" height="4.5" fill="#d8d8d8"/>
<rect x="438.79" y="111.50" width="4.2" height="4.5" fill="#d8d8d8"/>
<text transform="translate(73.00,115.60) scale(0.980,1)" font-size="4.8" fill="#5e5e5e" font-style="italic" >UNC13D*</text>
<rect x="443.8" y="111.50" width="2.06" height="4.5" fill="#938a52"/>
<rect x="479.6" y="111.50" width="1.81" height="4.5" fill="#5f8cc7"/>
<text transform="translate(466.30,115.50)" font-size="5.0" fill="#222" >8.6%</text>
<text transform="translate(501.30,115.50)" font-size="5.0" fill="#222" >7.1%</text>
<rect x="98.90" y="117.40" width="4.2" height="4.5" fill="#d8d8d8"/>
<rect x="103.83" y="117.40" width="4.2" height="4.5" fill="#d8d8d8"/>
<rect x="108.75" y="117.40" width="4.2" height="4.5" fill="#d8d8d8"/>
<rect x="113.68" y="117.40" width="4.2" height="4.5" fill="#d8d8d8"/>
<rect x="118.60" y="117.40" width="4.2" height="4.5" fill="#d8d8d8"/>
<rect x="123.53" y="117.40" width="4.2" height="4.5" fill="#d8d8d8"/>
<rect x="128.46" y="117.40" width="4.2" height="4.5" fill="#d8d8d8"/>
<rect x="133.38" y="117.40" width="4.2" height="4.5" fill="#d8d8d8"/>
<rect x="138.31" y="117.40" width="4.2" height="4.5" fill="#d8d8d8"/>
<rect x="143.23" y="117.40" width="4.2" height="4.5" fill="#d8d8d8"/>
<rect x="148.16" y="117.40" width="4.2" height="4.5" fill="#d8d8d8"/>
<rect x="153.09" y="117.40" width="4.2" height="4.5" fill="#d8d8d8"/>
<rect x="158.01" y="117.40" width="4.2" height="4.5" fill="#d8d8d8"/>
<rect x="162.94" y="117.40" width="4.2" height="4.5" fill="#dc8a8d"/>
<rect x="167.86" y="117.40" width="4.2" height="4.5" fill="#d8d8d8"/>
<rect x="172.79" y="117.40" width="4.2" height="4.5" fill="#d8d8d8"/>
<rect x="177.72" y="117.40" width="4.2" height="4.5" fill="#d8d8d8"/>
<rect x="182.64" y="117.40" width="4.2" height="4.5" fill="#d8d8d8"/>
<rect x="187.57" y="117.40" width="4.2" height="4.5" fill="#d8d8d8"/>
<rect x="192.49" y="117.40" width="4.2" height="4.5" fill="#d8d8d8"/>
<rect x="197.42" y="117.40" width="4.2" height="4.5" fill="#d8d8d8"/>
<rect x="202.35" y="117.40" width="4.2" height="4.5" fill="#d8d8d8"/>
<rect x="207.27" y="117.40" width="4.2" height="4.5" fill="#d8d8d8"/>
<rect x="212.20" y="117.40" width="4.2" height="4.5" fill="#d8d8d8"/>
<rect x="217.12" y="117.40" width="4.2" height="4.5" fill="#d8d8d8"/>
<rect x="222.05" y="117.40" width="4.2" height="4.5" fill="#d8d8d8"/>
<rect x="226.98" y="117.40" width="4.2" height="4.5" fill="#d8d8d8"/>
<rect x="231.90" y="117.40" width="4.2" height="4.5" fill="#d8d8d8"/>
<rect x="236.83" y="117.40" width="4.2" height="4.5" fill="#d8d8d8"/>
<rect x="241.75" y="117.40" width="4.2" height="4.5" fill="#d8d8d8"/>
<rect x="246.68" y="117.40" width="4.2" height="4.5" fill="#d8d8d8"/>
<rect x="251.61" y="117.40" width="4.2" height="4.5" fill="#d8d8d8"/>
<rect x="256.53" y="117.40" width="4.2" height="4.5" fill="#d8d8d8"/>
<rect x="261.46" y="117.40" width="4.2" height="4.5" fill="#d8d8d8"/>
<rect x="266.38" y="117.40" width="4.2" height="4.5" fill="#d8d8d8"/>
<rect x="271.31" y="117.40" width="4.2" height="4.5" fill="#d8d8d8"/>
<rect x="276.24" y="117.40" width="4.2" height="4.5" fill="#d8d8d8"/>
<rect x="281.16" y="117.40" width="4.2" height="4.5" fill="#d8d8d8"/>
<rect x="286.09" y="117.40" width="4.2" height="4.5" fill="#d8d8d8"/>
<rect x="291.01" y="117.40" width="4.2" height="4.5" fill="#d8d8d8"/>
<rect x="295.94" y="117.40" width="4.2" height="4.5" fill="#d8d8d8"/>
<rect x="300.87" y="117.40" width="4.2" height="4.5" fill="#dc8a8d"/>
<rect x="305.79" y="117.40" width="4.2" height="4.5" fill="#8a8046"/>
<rect x="310.72" y="117.40" width="4.2" height="4.5" fill="#d8d8d8"/>
<rect x="315.64" y="117.40" width="4.2" height="4.5" fill="#d8d8d8"/>
<rect x="320.57" y="117.40" width="4.2" height="4.5" fill="#d8d8d8"/>
<rect x="325.50" y="117.40" width="4.2" height="4.5" fill="#dc8a8d"/>
<rect x="330.42" y="117.40" width="4.2" height="4.5" fill="#d8d8d8"/>
<rect x="335.35" y="117.40" width="4.2" height="4.5" fill="#d8d8d8"/>
<rect x="340.27" y="117.40" width="4.2" height="4.5" fill="#d8d8d8"/>
<rect x="345.20" y="117.40" width="4.2" height="4.5" fill="#d8d8d8"/>
<rect x="350.13" y="117.40" width="4.2" height="4.5" fill="#dc8a8d"/>
<rect x="355.05" y="117.40" width="4.2" height="4.5" fill="#d8d8d8"/>
<rect x="359.98" y="117.40" width="4.2" height="4.5" fill="#d8d8d8"/>
<rect x="364.90" y="117.40" width="4.2" height="4.5" fill="#d8d8d8"/>
<rect x="369.83" y="117.40" width="4.2" height="4.5" fill="#d8d8d8"/>
<rect x="374.76" y="117.40" width="4.2" height="4.5" fill="#d8d8d8"/>
<rect x="379.68" y="117.40" width="4.2" height="4.5" fill="#d8d8d8"/>
<rect x="384.61" y="117.40" width="4.2" height="4.5" fill="#d8d8d8"/>
<rect x="389.53" y="117.40" width="4.2" height="4.5" fill="#d8d8d8"/>
<rect x="394.46" y="117.40" width="4.2" height="4.5" fill="#dc8a8d"/>
<rect x="399.39" y="117.40" width="4.2" height="4.5" fill="#d8d8d8"/>
<rect x="404.31" y="117.40" width="4.2" height="4.5" fill="#d8d8d8"/>
<rect x="409.24" y="117.40" width="4.2" height="4.5" fill="#d8d8d8"/>
<rect x="414.16" y="117.40" width="4.2" height="4.5" fill="#d8d8d8"/>
<rect x="419.09" y="117.40" width="4.2" height="4.5" fill="#d8d8d8"/>
<rect x="424.02" y="117.40" width="4.2" height="4.5" fill="#d8d8d8"/>
<rect x="428.94" y="117.40" width="4.2" height="4.5" fill="#d8d8d8"/>
<rect x="433.87" y="117.40" width="4.2" height="4.5" fill="#d8d8d8"/>
<rect x="438.79" y="117.40" width="4.2" height="4.5" fill="#d8d8d8"/>
<text transform="translate(73.00,121.50) scale(1.024,1)" font-size="4.8" fill="#5e5e5e" font-style="italic" >PIAS3*</text>
<rect x="443.8" y="117.40" width="2.06" height="4.5" fill="#938a52"/>
<rect x="479.6" y="117.40" width="3.65" height="4.5" fill="#5f8cc7"/>
<text transform="translate(466.30,121.40)" font-size="5.0" fill="#222" >8.6%</text>
<text transform="translate(498.53,121.40)" font-size="5.0" fill="#222" >14.3%</text>
<rect x="98.90" y="123.10" width="4.2" height="4.5" fill="#d8d8d8"/>
<rect x="103.83" y="123.10" width="4.2" height="4.5" fill="#d8d8d8"/>
<rect x="108.75" y="123.10" width="4.2" height="4.5" fill="#d8d8d8"/>
<rect x="113.68" y="123.10" width="4.2" height="4.5" fill="#d8d8d8"/>
<rect x="118.60" y="123.10" width="4.2" height="4.5" fill="#d8d8d8"/>
<rect x="123.53" y="123.10" width="4.2" height="4.5" fill="#d8d8d8"/>
<rect x="128.46" y="123.10" width="4.2" height="4.5" fill="#d8d8d8"/>
<rect x="133.38" y="123.10" width="4.2" height="4.5" fill="#d8d8d8"/>
<rect x="138.31" y="123.10" width="4.2" height="4.5" fill="#d8d8d8"/>
<rect x="143.23" y="123.10" width="4.2" height="4.5" fill="#d8d8d8"/>
<rect x="148.16" y="123.10" width="4.2" height="4.5" fill="#d8d8d8"/>
<rect x="153.09" y="123.10" width="4.2" height="4.5" fill="#d8d8d8"/>
<rect x="158.01" y="123.10" width="4.2" height="4.5" fill="#d8d8d8"/>
<rect x="162.94" y="123.10" width="4.2" height="4.5" fill="#d8d8d8"/>
<rect x="167.86" y="123.10" width="4.2" height="4.5" fill="#d8d8d8"/>
<rect x="172.79" y="123.10" width="4.2" height="4.5" fill="#d8d8d8"/>
<rect x="177.72" y="123.10" width="4.2" height="4.5" fill="#d8d8d8"/>
<rect x="182.64" y="123.10" width="4.2" height="4.5" fill="#d8d8d8"/>
<rect x="187.57" y="123.10" width="4.2" height="4.5" fill="#d8d8d8"/>
<rect x="192.49" y="123.10" width="4.2" height="4.5" fill="#d8d8d8"/>
<rect x="197.42" y="123.10" width="4.2" height="4.5" fill="#d8d8d8"/>
<rect x="202.35" y="123.10" width="4.2" height="4.5" fill="#d8d8d8"/>
<rect x="207.27" y="123.10" width="4.2" height="4.5" fill="#d8d8d8"/>
<rect x="212.20" y="123.10" width="4.2" height="4.5" fill="#d8d8d8"/>
<rect x="217.12" y="123.10" width="4.2" height="4.5" fill="#d8d8d8"/>
<rect x="222.05" y="123.10" width="4.2" height="4.5" fill="#d8d8d8"/>
<rect x="226.98" y="123.10" width="4.2" height="4.5" fill="#d8d8d8"/>
<rect x="231.90" y="123.10" width="4.2" height="4.5" fill="#d8d8d8"/>
<rect x="236.83" y="123.10" width="4.2" height="4.5" fill="#d8d8d8"/>
<rect x="241.75" y="123.10" width="4.2" height="4.5" fill="#d8d8d8"/>
<rect x="246.68" y="123.10" width="4.2" height="4.5" fill="#d8d8d8"/>
<rect x="251.61" y="123.10" width="4.2" height="4.5" fill="#d8d8d8"/>
<rect x="256.53" y="123.10" width="4.2" height="4.5" fill="#d8d8d8"/>
<rect x="261.46" y="123.10" width="4.2" height="4.5" fill="#d8d8d8"/>
<rect x="266.38" y="123.10" width="4.2" height="4.5" fill="#d8d8d8"/>
<rect x="271.31" y="123.10" width="4.2" height="4.5" fill="#d8d8d8"/>
<rect x="276.24" y="123.10" width="4.2" height="4.5" fill="#d8d8d8"/>
<rect x="281.16" y="123.10" width="4.2" height="4.5" fill="#d8d8d8"/>
<rect x="286.09" y="123.10" width="4.2" height="4.5" fill="#d8d8d8"/>
<rect x="291.01" y="123.10" width="4.2" height="4.5" fill="#d8d8d8"/>
<rect x="295.94" y="123.10" width="4.2" height="4.5" fill="#d8d8d8"/>
<rect x="300.87" y="123.10" width="4.2" height="4.5" fill="#d8d8d8"/>
<rect x="305.79" y="123.10" width="4.2" height="4.5" fill="#d8d8d8"/>
<rect x="310.72" y="123.10" width="4.2" height="4.5" fill="#d8d8d8"/>
<rect x="315.64" y="123.10" width="4.2" height="4.5" fill="#8a8046"/>
<rect x="320.57" y="123.10" width="4.2" height="4.5" fill="#d8d8d8"/>
<rect x="325.50" y="123.10" width="4.2" height="4.5" fill="#dc8a8d"/>
<rect x="330.42" y="123.10" width="4.2" height="4.5" fill="#d8d8d8"/>
<rect x="335.35" y="123.10" width="4.2" height="4.5" fill="#d8d8d8"/>
<rect x="340.27" y="123.10" width="4.2" height="4.5" fill="#d8d8d8"/>
<rect x="345.20" y="123.10" width="4.2" height="4.5" fill="#d8d8d8"/>
<rect x="350.13" y="123.10" width="4.2" height="4.5" fill="#d8d8d8"/>
<rect x="355.05" y="123.10" width="4.2" height="4.5" fill="#dc8a8d"/>
<rect x="359.98" y="123.10" width="4.2" height="4.5" fill="#dc8a8d"/>
<rect x="364.90" y="123.10" width="4.2" height="4.5" fill="#d8d8d8"/>
<rect x="369.83" y="123.10" width="4.2" height="4.5" fill="#d8d8d8"/>
<rect x="374.76" y="123.10" width="4.2" height="4.5" fill="#d8d8d8"/>
<rect x="379.68" y="123.10" width="4.2" height="4.5" fill="#d8d8d8"/>
<rect x="384.61" y="123.10" width="4.2" height="4.5" fill="#d8d8d8"/>
<rect x="389.53" y="123.10" width="4.2" height="4.5" fill="#d8d8d8"/>
<rect x="394.46" y="123.10" width="4.2" height="4.5" fill="#d8d8d8"/>
<rect x="399.39" y="123.10" width="4.2" height="4.5" fill="#d8d8d8"/>
<rect x="404.31" y="123.10" width="4.2" height="4.5" fill="#d8d8d8"/>
<rect x="409.24" y="123.10" width="4.2" height="4.5" fill="#d8d8d8"/>
<rect x="414.16" y="123.10" width="4.2" height="4.5" fill="#d8d8d8"/>
<rect x="419.09" y="123.10" width="4.2" height="4.5" fill="#d8d8d8"/>
<rect x="424.02" y="123.10" width="4.2" height="4.5" fill="#d8d8d8"/>
<rect x="428.94" y="123.10" width="4.2" height="4.5" fill="#d8d8d8"/>
<rect x="433.87" y="123.10" width="4.2" height="4.5" fill="#d8d8d8"/>
<rect x="438.79" y="123.10" width="4.2" height="4.5" fill="#d8d8d8"/>
<text transform="translate(73.00,127.20) scale(1.055,1)" font-size="4.8" fill="#5e5e5e" font-style="italic" >PIK3CD*</text>
<rect x="443.8" y="123.10" width="1.66" height="4.5" fill="#938a52"/>
<rect x="479.6" y="123.10" width="1.81" height="4.5" fill="#5f8cc7"/>
<text transform="translate(466.30,127.10)" font-size="5.0" fill="#222" >6.9%</text>
<text transform="translate(501.30,127.10)" font-size="5.0" fill="#222" >7.1%</text>
<rect x="98.90" y="129.00" width="4.2" height="4.5" fill="#d8d8d8"/>
<rect x="103.83" y="129.00" width="4.2" height="4.5" fill="#d8d8d8"/>
<rect x="108.75" y="129.00" width="4.2" height="4.5" fill="#d8d8d8"/>
<rect x="113.68" y="129.00" width="4.2" height="4.5" fill="#d8d8d8"/>
<rect x="118.60" y="129.00" width="4.2" height="4.5" fill="#d8d8d8"/>
<rect x="123.53" y="129.00" width="4.2" height="4.5" fill="#d8d8d8"/>
<rect x="128.46" y="129.00" width="4.2" height="4.5" fill="#d8d8d8"/>
<rect x="133.38" y="129.00" width="4.2" height="4.5" fill="#d8d8d8"/>
<rect x="138.31" y="129.00" width="4.2" height="4.5" fill="#d8d8d8"/>
<rect x="143.23" y="129.00" width="4.2" height="4.5" fill="#d8d8d8"/>
<rect x="148.16" y="129.00" width="4.2" height="4.5" fill="#d8d8d8"/>
<rect x="153.09" y="129.00" width="4.2" height="4.5" fill="#d8d8d8"/>
<rect x="158.01" y="129.00" width="4.2" height="4.5" fill="#d8d8d8"/>
<rect x="162.94" y="129.00" width="4.2" height="4.5" fill="#dc8a8d"/>
<rect x="167.86" y="129.00" width="4.2" height="4.5" fill="#d8d8d8"/>
<rect x="172.79" y="129.00" width="4.2" height="4.5" fill="#d8d8d8"/>
<rect x="177.72" y="129.00" width="4.2" height="4.5" fill="#d8d8d8"/>
<rect x="182.64" y="129.00" width="4.2" height="4.5" fill="#d8d8d8"/>
<rect x="187.57" y="129.00" width="4.2" height="4.5" fill="#d8d8d8"/>
<rect x="192.49" y="129.00" width="4.2" height="4.5" fill="#d8d8d8"/>
<rect x="197.42" y="129.00" width="4.2" height="4.5" fill="#d8d8d8"/>
<rect x="202.35" y="129.00" width="4.2" height="4.5" fill="#d8d8d8"/>
<rect x="207.27" y="129.00" width="4.2" height="4.5" fill="#d8d8d8"/>
<rect x="212.20" y="129.00" width="4.2" height="4.5" fill="#d8d8d8"/>
<rect x="217.12" y="129.00" width="4.2" height="4.5" fill="#d8d8d8"/>
<rect x="222.05" y="129.00" width="4.2" height="4.5" fill="#d8d8d8"/>
<rect x="226.98" y="129.00" width="4.2" height="4.5" fill="#dc8a8d"/>
<rect x="231.90" y="129.00" width="4.2" height="4.5" fill="#d8d8d8"/>
<rect x="236.83" y="129.00" width="4.2" height="4.5" fill="#d8d8d8"/>
<rect x="241.75" y="129.00" width="4.2" height="4.5" fill="#d8d8d8"/>
<rect x="246.68" y="129.00" width="4.2" height="4.5" fill="#d8d8d8"/>
<rect x="251.61" y="129.00" width="4.2" height="4.5" fill="#d8d8d8"/>
<rect x="256.53" y="129.00" width="4.2" height="4.5" fill="#d8d8d8"/>
<rect x="261.46" y="129.00" width="4.2" height="4.5" fill="#d8d8d8"/>
<rect x="266.38" y="129.00" width="4.2" height="4.5" fill="#d8d8d8"/>
<rect x="271.31" y="129.00" width="4.2" height="4.5" fill="#d8d8d8"/>
<rect x="276.24" y="129.00" width="4.2" height="4.5" fill="#d8d8d8"/>
<rect x="281.16" y="129.00" width="4.2" height="4.5" fill="#d8d8d8"/>
<rect x="286.09" y="129.00" width="4.2" height="4.5" fill="#d8d8d8"/>
<rect x="291.01" y="129.00" width="4.2" height="4.5" fill="#d8d8d8"/>
<rect x="295.94" y="129.00" width="4.2" height="4.5" fill="#d8d8d8"/>
<rect x="300.87" y="129.00" width="4.2" height="4.5" fill="#d8d8d8"/>
<rect x="305.79" y="129.00" width="4.2" height="4.5" fill="#d8d8d8"/>
<rect x="310.72" y="129.00" width="4.2" height="4.5" fill="#d8d8d8"/>
<rect x="315.64" y="129.00" width="4.2" height="4.5" fill="#d8d8d8"/>
<rect x="320.57" y="129.00" width="4.2" height="4.5" fill="#d8d8d8"/>
<rect x="325.50" y="129.00" width="4.2" height="4.5" fill="#d8d8d8"/>
<rect x="330.42" y="129.00" width="4.2" height="4.5" fill="#d8d8d8"/>
<rect x="335.35" y="129.00" width="4.2" height="4.5" fill="#d8d8d8"/>
<rect x="340.27" y="129.00" width="4.2" height="4.5" fill="#d8d8d8"/>
<rect x="345.20" y="129.00" width="4.2" height="4.5" fill="#d8d8d8"/>
<rect x="350.13" y="129.00" width="4.2" height="4.5" fill="#d8d8d8"/>
<rect x="355.05" y="129.00" width="4.2" height="4.5" fill="#d8d8d8"/>
<rect x="359.98" y="129.00" width="4.2" height="4.5" fill="#d8d8d8"/>
<rect x="364.90" y="129.00" width="4.2" height="4.5" fill="#dc8a8d"/>
<rect x="369.83" y="129.00" width="4.2" height="4.5" fill="#d8d8d8"/>
<rect x="374.76" y="129.00" width="4.2" height="4.5" fill="#d8d8d8"/>
<rect x="379.68" y="129.00" width="4.2" height="4.5" fill="#d8d8d8"/>
<rect x="384.61" y="129.00" width="4.2" height="4.5" fill="#d8d8d8"/>
<rect x="389.53" y="129.00" width="4.2" height="4.5" fill="#d8d8d8"/>
<rect x="394.46" y="129.00" width="4.2" height="4.5" fill="#d8d8d8"/>
<rect x="399.39" y="129.00" width="4.2" height="4.5" fill="#d8d8d8"/>
<rect x="404.31" y="129.00" width="4.2" height="4.5" fill="#d8d8d8"/>
<rect x="409.24" y="129.00" width="4.2" height="4.5" fill="#d8d8d8"/>
<rect x="414.16" y="129.00" width="4.2" height="4.5" fill="#d8d8d8"/>
<rect x="419.09" y="129.00" width="4.2" height="4.5" fill="#d8d8d8"/>
<rect x="424.02" y="129.00" width="4.2" height="4.5" fill="#d8d8d8"/>
<rect x="428.94" y="129.00" width="4.2" height="4.5" fill="#d8d8d8"/>
<rect x="433.87" y="129.00" width="4.2" height="4.5" fill="#d8d8d8"/>
<rect x="438.79" y="129.00" width="4.2" height="4.5" fill="#d8d8d8"/>
<text transform="translate(73.00,133.10) scale(0.905,1)" font-size="4.8" fill="#5e5e5e" font-style="italic" >IDH1</text>
<rect x="443.8" y="129.00" width="1.25" height="4.5" fill="#938a52"/>
<rect x="479.6" y="129.00" width="0.92" height="4.5" fill="#5f8cc7"/>
<text transform="translate(466.30,133.00)" font-size="5.0" fill="#222" >5.2%</text>
<text transform="translate(501.30,133.00)" font-size="5.0" fill="#222" >3.6%</text>
<rect x="98.90" y="134.80" width="4.2" height="4.5" fill="#d8d8d8"/>
<rect x="103.83" y="134.80" width="4.2" height="4.5" fill="#d8d8d8"/>
<rect x="108.75" y="134.80" width="4.2" height="4.5" fill="#d8d8d8"/>
<rect x="113.68" y="134.80" width="4.2" height="4.5" fill="#d8d8d8"/>
<rect x="118.60" y="134.80" width="4.2" height="4.5" fill="#d8d8d8"/>
<rect x="123.53" y="134.80" width="4.2" height="4.5" fill="#d8d8d8"/>
<rect x="128.46" y="134.80" width="4.2" height="4.5" fill="#d8d8d8"/>
<rect x="133.38" y="134.80" width="4.2" height="4.5" fill="#d8d8d8"/>
<rect x="138.31" y="134.80" width="4.2" height="4.5" fill="#d8d8d8"/>
<rect x="143.23" y="134.80" width="4.2" height="4.5" fill="#d8d8d8"/>
<rect x="148.16" y="134.80" width="4.2" height="4.5" fill="#d8d8d8"/>
<rect x="153.09" y="134.80" width="4.2" height="4.5" fill="#d8d8d8"/>
<rect x="158.01" y="134.80" width="4.2" height="4.5" fill="#d8d8d8"/>
<rect x="162.94" y="134.80" width="4.2" height="4.5" fill="#d8d8d8"/>
<rect x="167.86" y="134.80" width="4.2" height="4.5" fill="#d8d8d8"/>
<rect x="172.79" y="134.80" width="4.2" height="4.5" fill="#d8d8d8"/>
<rect x="177.72" y="134.80" width="4.2" height="4.5" fill="#d8d8d8"/>
<rect x="182.64" y="134.80" width="4.2" height="4.5" fill="#d8d8d8"/>
<rect x="187.57" y="134.80" width="4.2" height="4.5" fill="#d8d8d8"/>
<rect x="192.49" y="134.80" width="4.2" height="4.5" fill="#d8d8d8"/>
<rect x="197.42" y="134.80" width="4.2" height="4.5" fill="#d8d8d8"/>
<rect x="202.35" y="134.80" width="4.2" height="4.5" fill="#d8d8d8"/>
<rect x="207.27" y="134.80" width="4.2" height="4.5" fill="#d8d8d8"/>
<rect x="212.20" y="134.80" width="4.2" height="4.5" fill="#d8d8d8"/>
<rect x="217.12" y="134.80" width="4.2" height="4.5" fill="#d8d8d8"/>
<rect x="222.05" y="134.80" width="4.2" height="4.5" fill="#d8d8d8"/>
<rect x="226.98" y="134.80" width="4.2" height="4.5" fill="#d8d8d8"/>
<rect x="231.90" y="134.80" width="4.2" height="4.5" fill="#d8d8d8"/>
<rect x="236.83" y="134.80" width="4.2" height="4.5" fill="#d8d8d8"/>
<rect x="241.75" y="134.80" width="4.2" height="4.5" fill="#d8d8d8"/>
<rect x="246.68" y="134.80" width="4.2" height="4.5" fill="#d8d8d8"/>
<rect x="251.61" y="134.80" width="4.2" height="4.5" fill="#d8d8d8"/>
<rect x="256.53" y="134.80" width="4.2" height="4.5" fill="#d8d8d8"/>
<rect x="261.46" y="134.80" width="4.2" height="4.5" fill="#d8d8d8"/>
<rect x="266.38" y="134.80" width="4.2" height="4.5" fill="#d8d8d8"/>
<rect x="271.31" y="134.80" width="4.2" height="4.5" fill="#d8d8d8"/>
<rect x="276.24" y="134.80" width="4.2" height="4.5" fill="#d8d8d8"/>
<rect x="281.16" y="134.80" width="4.2" height="4.5" fill="#d8d8d8"/>
<rect x="286.09" y="134.80" width="4.2" height="4.5" fill="#d8d8d8"/>
<rect x="291.01" y="134.80" width="4.2" height="4.5" fill="#d8d8d8"/>
<rect x="295.94" y="134.80" width="4.2" height="4.5" fill="#d8d8d8"/>
<rect x="300.87" y="134.80" width="4.2" height="4.5" fill="#d8d8d8"/>
<rect x="305.79" y="134.80" width="4.2" height="4.5" fill="#d8d8d8"/>
<rect x="310.72" y="134.80" width="4.2" height="4.5" fill="#d8d8d8"/>
<rect x="315.64" y="134.80" width="4.2" height="4.5" fill="#f5913c"/>
<rect x="320.57" y="134.80" width="4.2" height="4.5" fill="#d8d8d8"/>
<rect x="325.50" y="134.80" width="4.2" height="4.5" fill="#d8d8d8"/>
<rect x="330.42" y="134.80" width="4.2" height="4.5" fill="#dc8a8d"/>
<rect x="335.35" y="134.80" width="4.2" height="4.5" fill="#d8d8d8"/>
<rect x="340.27" y="134.80" width="4.2" height="4.5" fill="#d8d8d8"/>
<rect x="345.20" y="134.80" width="4.2" height="4.5" fill="#d8d8d8"/>
<rect x="350.13" y="134.80" width="4.2" height="4.5" fill="#d8d8d8"/>
<rect x="355.05" y="134.80" width="4.2" height="4.5" fill="#d8d8d8"/>
<rect x="359.98" y="134.80" width="4.2" height="4.5" fill="#d8d8d8"/>
<rect x="364.90" y="134.80" width="4.2" height="4.5" fill="#d8d8d8"/>
<rect x="369.83" y="134.80" width="4.2" height="4.5" fill="#dc8a8d"/>
<rect x="374.76" y="134.80" width="4.2" height="4.5" fill="#d8d8d8"/>
<rect x="379.68" y="134.80" width="4.2" height="4.5" fill="#d8d8d8"/>
<rect x="384.61" y="134.80" width="4.2" height="4.5" fill="#d8d8d8"/>
<rect x="389.53" y="134.80" width="4.2" height="4.5" fill="#d8d8d8"/>
<rect x="394.46" y="134.80" width="4.2" height="4.5" fill="#d8d8d8"/>
<rect x="399.39" y="134.80" width="4.2" height="4.5" fill="#d8d8d8"/>
<rect x="404.31" y="134.80" width="4.2" height="4.5" fill="#d8d8d8"/>
<rect x="409.24" y="134.80" width="4.2" height="4.5" fill="#d8d8d8"/>
<rect x="414.16" y="134.80" width="4.2" height="4.5" fill="#d8d8d8"/>
<rect x="419.09" y="134.80" width="4.2" height="4.5" fill="#d8d8d8"/>
<rect x="424.02" y="134.80" width="4.2" height="4.5" fill="#d8d8d8"/>
<rect x="428.94" y="134.80" width="4.2" height="4.5" fill="#d8d8d8"/>
<rect x="433.87" y="134.80" width="4.2" height="4.5" fill="#d8d8d8"/>
<rect x="438.79" y="134.80" width="4.2" height="4.5" fill="#d8d8d8"/>
<text transform="translate(73.00,138.90) scale(1.048,1)" font-size="4.8" fill="#5e5e5e" font-style="italic" >CBL*</text>
<rect x="443.8" y="134.80" width="1.25" height="4.5" fill="#938a52"/>
<rect x="479.6" y="134.80" width="1.81" height="4.5" fill="#5f8cc7"/>
<text transform="translate(466.30,138.80)" font-size="5.0" fill="#222" >5.2%</text>
<text transform="translate(501.30,138.80)" font-size="5.0" fill="#222" >7.1%</text>
<rect x="98.90" y="141.10" width="4.2" height="4.5" fill="#dc8a8d"/>
<rect x="103.83" y="141.10" width="4.2" height="4.5" fill="#dc8a8d"/>
<rect x="108.75" y="141.10" width="4.2" height="4.5" fill="#d8d8d8"/>
<rect x="113.68" y="141.10" width="4.2" height="4.5" fill="#d8d8d8"/>
<rect x="118.60" y="141.10" width="4.2" height="4.5" fill="#8a8046"/>
<rect x="123.53" y="141.10" width="4.2" height="4.5" fill="#dc8a8d"/>
<rect x="128.46" y="141.10" width="4.2" height="4.5" fill="#d8d8d8"/>
<rect x="133.38" y="141.10" width="4.2" height="4.5" fill="#dc8a8d"/>
<rect x="138.31" y="141.10" width="4.2" height="4.5" fill="#8a8046"/>
<rect x="143.23" y="141.10" width="4.2" height="4.5" fill="#d8d8d8"/>
<rect x="148.16" y="141.10" width="4.2" height="4.5" fill="#d8d8d8"/>
<rect x="153.09" y="141.10" width="4.2" height="4.5" fill="#8a8046"/>
<rect x="158.01" y="141.10" width="4.2" height="4.5" fill="#d8d8d8"/>
<rect x="162.94" y="141.10" width="4.2" height="4.5" fill="#dc8a8d"/>
<rect x="167.86" y="141.10" width="4.2" height="4.5" fill="#dc8a8d"/>
<rect x="172.79" y="141.10" width="4.2" height="4.5" fill="#d8d8d8"/>
<rect x="177.72" y="141.10" width="4.2" height="4.5" fill="#d8d8d8"/>
<rect x="182.64" y="141.10" width="4.2" height="4.5" fill="#8a8046"/>
<rect x="187.57" y="141.10" width="4.2" height="4.5" fill="#d8d8d8"/>
<rect x="192.49" y="141.10" width="4.2" height="4.5" fill="#d8d8d8"/>
<rect x="197.42" y="141.10" width="4.2" height="4.5" fill="#d8d8d8"/>
<rect x="202.35" y="141.10" width="4.2" height="4.5" fill="#d8d8d8"/>
<rect x="207.27" y="141.10" width="4.2" height="4.5" fill="#d8d8d8"/>
<rect x="212.20" y="141.10" width="4.2" height="4.5" fill="#d8d8d8"/>
<rect x="217.12" y="141.10" width="4.2" height="4.5" fill="#d8d8d8"/>
<rect x="222.05" y="141.10" width="4.2" height="4.5" fill="#d8d8d8"/>
<rect x="226.98" y="141.10" width="4.2" height="4.5" fill="#d8d8d8"/>
<rect x="231.90" y="141.10" width="4.2" height="4.5" fill="#d8d8d8"/>
<rect x="236.83" y="141.10" width="4.2" height="4.5" fill="#d8d8d8"/>
<rect x="241.75" y="141.10" width="4.2" height="4.5" fill="#d8d8d8"/>
<rect x="246.68" y="141.10" width="4.2" height="4.5" fill="#d8d8d8"/>
<rect x="251.61" y="141.10" width="4.2" height="4.5" fill="#d8d8d8"/>
<rect x="256.53" y="141.10" width="4.2" height="4.5" fill="#d8d8d8"/>
<rect x="261.46" y="141.10" width="4.2" height="4.5" fill="#d8d8d8"/>
<rect x="266.38" y="141.10" width="4.2" height="4.5" fill="#d8d8d8"/>
<rect x="271.31" y="141.10" width="4.2" height="4.5" fill="#d8d8d8"/>
<rect x="276.24" y="141.10" width="4.2" height="4.5" fill="#d8d8d8"/>
<rect x="281.16" y="141.10" width="4.2" height="4.5" fill="#d8d8d8"/>
<rect x="286.09" y="141.10" width="4.2" height="4.5" fill="#d8d8d8"/>
<rect x="291.01" y="141.10" width="4.2" height="4.5" fill="#d8d8d8"/>
<rect x="295.94" y="141.10" width="4.2" height="4.5" fill="#d8d8d8"/>
<rect x="300.87" y="141.10" width="4.2" height="4.5" fill="#d8d8d8"/>
<rect x="305.79" y="141.10" width="4.2" height="4.5" fill="#d8d8d8"/>
<rect x="310.72" y="141.10" width="4.2" height="4.5" fill="#dc8a8d"/>
<rect x="315.64" y="141.10" width="4.2" height="4.5" fill="#d8d8d8"/>
<rect x="320.57" y="141.10" width="4.2" height="4.5" fill="#8a8046"/>
<rect x="325.50" y="141.10" width="4.2" height="4.5" fill="#dc8a8d"/>
<rect x="330.42" y="141.10" width="4.2" height="4.5" fill="#dc8a8d"/>
<rect x="335.35" y="141.10" width="4.2" height="4.5" fill="#dc8a8d"/>
<rect x="340.27" y="141.10" width="4.2" height="4.5" fill="#dc8a8d"/>
<rect x="345.20" y="141.10" width="4.2" height="4.5" fill="#dc8a8d"/>
<rect x="350.13" y="141.10" width="4.2" height="4.5" fill="#dc8a8d"/>
<rect x="355.05" y="141.10" width="4.2" height="4.5" fill="#d8d8d8"/>
<rect x="359.98" y="141.10" width="4.2" height="4.5" fill="#d8d8d8"/>
<rect x="364.90" y="141.10" width="4.2" height="4.5" fill="#d8d8d8"/>
<rect x="369.83" y="141.10" width="4.2" height="4.5" fill="#d8d8d8"/>
<rect x="374.76" y="141.10" width="4.2" height="4.5" fill="#d8d8d8"/>
<rect x="379.68" y="141.10" width="4.2" height="4.5" fill="#d8d8d8"/>
<rect x="384.61" y="141.10" width="4.2" height="4.5" fill="#d8d8d8"/>
<rect x="389.53" y="141.10" width="4.2" height="4.5" fill="#d8d8d8"/>
<rect x="394.46" y="141.10" width="4.2" height="4.5" fill="#d8d8d8"/>
<rect x="399.39" y="141.10" width="4.2" height="4.5" fill="#d8d8d8"/>
<rect x="404.31" y="141.10" width="4.2" height="4.5" fill="#8a8046"/>
<rect x="409.24" y="141.10" width="4.2" height="4.5" fill="#d8d8d8"/>
<rect x="414.16" y="141.10" width="4.2" height="4.5" fill="#8a8046"/>
<rect x="419.09" y="141.10" width="4.2" height="4.5" fill="#8a8046"/>
<rect x="424.02" y="141.10" width="4.2" height="4.5" fill="#d8d8d8"/>
<rect x="428.94" y="141.10" width="4.2" height="4.5" fill="#8a8046"/>
<rect x="433.87" y="141.10" width="4.2" height="4.5" fill="#d8d8d8"/>
<rect x="438.79" y="141.10" width="4.2" height="4.5" fill="#dc8a8d"/>
<text transform="translate(73.00,145.20) scale(1.175,1)" font-size="4.8" fill="#5e5e5e" font-style="italic" >CDC27</text>
<rect x="443.8" y="141.10" width="7.44" height="4.5" fill="#938a52"/>
<rect x="479.6" y="141.10" width="12.75" height="4.5" fill="#5f8cc7"/>
<text transform="translate(463.52,145.10)" font-size="5.0" fill="#222" >31.0%</text>
<text transform="translate(498.53,145.10)" font-size="5.0" fill="#222" >50.0%</text>
<rect x="98.90" y="146.90" width="4.2" height="4.5" fill="#d8d8d8"/>
<rect x="103.83" y="146.90" width="4.2" height="4.5" fill="#d8d8d8"/>
<rect x="108.75" y="146.90" width="4.2" height="4.5" fill="#d8d8d8"/>
<rect x="113.68" y="146.90" width="4.2" height="4.5" fill="#d8d8d8"/>
<rect x="118.60" y="146.90" width="4.2" height="4.5" fill="#d8d8d8"/>
<rect x="123.53" y="146.90" width="4.2" height="4.5" fill="#d8d8d8"/>
<rect x="128.46" y="146.90" width="4.2" height="4.5" fill="#d8d8d8"/>
<rect x="133.38" y="146.90" width="4.2" height="4.5" fill="#d8d8d8"/>
<rect x="138.31" y="146.90" width="4.2" height="4.5" fill="#d8d8d8"/>
<rect x="143.23" y="146.90" width="4.2" height="4.5" fill="#d8d8d8"/>
<rect x="148.16" y="146.90" width="4.2" height="4.5" fill="#d8d8d8"/>
<rect x="153.09" y="146.90" width="4.2" height="4.5" fill="#d8d8d8"/>
<rect x="158.01" y="146.90" width="4.2" height="4.5" fill="#d8d8d8"/>
<rect x="162.94" y="146.90" width="4.2" height="4.5" fill="#dc8a8d"/>
<rect x="167.86" y="146.90" width="4.2" height="4.5" fill="#d8d8d8"/>
<rect x="172.79" y="146.90" width="4.2" height="4.5" fill="#d8d8d8"/>
<rect x="177.72" y="146.90" width="4.2" height="4.5" fill="#3fa3c8"/>
<rect x="182.64" y="146.90" width="4.2" height="4.5" fill="#d8d8d8"/>
<rect x="187.57" y="146.90" width="4.2" height="4.5" fill="#d8d8d8"/>
<rect x="192.49" y="146.90" width="4.2" height="4.5" fill="#d8d8d8"/>
<rect x="197.42" y="146.90" width="4.2" height="4.5" fill="#dc8a8d"/>
<rect x="202.35" y="146.90" width="4.2" height="4.5" fill="#dc8a8d"/>
<rect x="207.27" y="146.90" width="4.2" height="4.5" fill="#d8d8d8"/>
<rect x="212.20" y="146.90" width="4.2" height="4.5" fill="#d8d8d8"/>
<rect x="217.12" y="146.90" width="4.2" height="4.5" fill="#d8d8d8"/>
<rect x="222.05" y="146.90" width="4.2" height="4.5" fill="#d8d8d8"/>
<rect x="226.98" y="146.90" width="4.2" height="4.5" fill="#dc8a8d"/>
<rect x="231.90" y="146.90" width="4.2" height="4.5" fill="#d8d8d8"/>
<rect x="236.83" y="146.90" width="4.2" height="4.5" fill="#d8d8d8"/>
<rect x="241.75" y="146.90" width="4.2" height="4.5" fill="#d8d8d8"/>
<rect x="246.68" y="146.90" width="4.2" height="4.5" fill="#d8d8d8"/>
<rect x="251.61" y="146.90" width="4.2" height="4.5" fill="#d8d8d8"/>
<rect x="256.53" y="146.90" width="4.2" height="4.5" fill="#d8d8d8"/>
<rect x="261.46" y="146.90" width="4.2" height="4.5" fill="#d8d8d8"/>
<rect x="266.38" y="146.90" width="4.2" height="4.5" fill="#d8d8d8"/>
<rect x="271.31" y="146.90" width="4.2" height="4.5" fill="#d8d8d8"/>
<rect x="276.24" y="146.90" width="4.2" height="4.5" fill="#d8d8d8"/>
<rect x="281.16" y="146.90" width="4.2" height="4.5" fill="#dc8a8d"/>
<rect x="286.09" y="146.90" width="4.2" height="4.5" fill="#d8d8d8"/>
<rect x="291.01" y="146.90" width="4.2" height="4.5" fill="#d8d8d8"/>
<rect x="295.94" y="146.90" width="4.2" height="4.5" fill="#d8d8d8"/>
<rect x="300.87" y="146.90" width="4.2" height="4.5" fill="#d8d8d8"/>
<rect x="305.79" y="146.90" width="4.2" height="4.5" fill="#d8d8d8"/>
<rect x="310.72" y="146.90" width="4.2" height="4.5" fill="#d8d8d8"/>
<rect x="315.64" y="146.90" width="4.2" height="4.5" fill="#d8d8d8"/>
<rect x="320.57" y="146.90" width="4.2" height="4.5" fill="#d8d8d8"/>
<rect x="325.50" y="146.90" width="4.2" height="4.5" fill="#8a8046"/>
<rect x="330.42" y="146.90" width="4.2" height="4.5" fill="#d8d8d8"/>
<rect x="335.35" y="146.90" width="4.2" height="4.5" fill="#d8d8d8"/>
<rect x="340.27" y="146.90" width="4.2" height="4.5" fill="#dc8a8d"/>
<rect x="345.20" y="146.90" width="4.2" height="4.5" fill="#d8d8d8"/>
<rect x="350.13" y="146.90" width="4.2" height="4.5" fill="#dc8a8d"/>
<rect x="355.05" y="146.90" width="4.2" height="4.5" fill="#d8d8d8"/>
<rect x="359.98" y="146.90" width="4.2" height="4.5" fill="#d8d8d8"/>
<rect x="364.90" y="146.90" width="4.2" height="4.5" fill="#d8d8d8"/>
<rect x="369.83" y="146.90" width="4.2" height="4.5" fill="#dc8a8d"/>
<rect x="374.76" y="146.90" width="4.2" height="4.5" fill="#dc8a8d"/>
<rect x="379.68" y="146.90" width="4.2" height="4.5" fill="#d8d8d8"/>
<rect x="384.61" y="146.90" width="4.2" height="4.5" fill="#d8d8d8"/>
<rect x="389.53" y="146.90" width="4.2" height="4.5" fill="#d8d8d8"/>
<rect x="394.46" y="146.90" width="4.2" height="4.5" fill="#d8d8d8"/>
<rect x="399.39" y="146.90" width="4.2" height="4.5" fill="#d8d8d8"/>
<rect x="404.31" y="146.90" width="4.2" height="4.5" fill="#d8d8d8"/>
<rect x="409.24" y="146.90" width="4.2" height="4.5" fill="#d8d8d8"/>
<rect x="414.16" y="146.90" width="4.2" height="4.5" fill="#d8d8d8"/>
<rect x="419.09" y="146.90" width="4.2" height="4.5" fill="#d8d8d8"/>
<rect x="424.02" y="146.90" width="4.2" height="4.5" fill="#d8d8d8"/>
<rect x="428.94" y="146.90" width="4.2" height="4.5" fill="#d8d8d8"/>
<rect x="433.87" y="146.90" width="4.2" height="4.5" fill="#d8d8d8"/>
<rect x="438.79" y="146.90" width="4.2" height="4.5" fill="#d8d8d8"/>
<text transform="translate(73.00,151.00) scale(0.818,1)" font-size="4.8" fill="#5e5e5e" font-style="italic" >TET2</text>
<rect x="443.8" y="146.90" width="4.56" height="4.5" fill="#938a52"/>
<rect x="479.6" y="146.90" width="2.73" height="4.5" fill="#5f8cc7"/>
<text transform="translate(463.52,150.90)" font-size="5.0" fill="#222" >19.0%</text>
<text transform="translate(498.53,150.90)" font-size="5.0" fill="#222" >10.7%</text>
<rect x="98.90" y="153.00" width="4.2" height="4.5" fill="#d8d8d8"/>
<rect x="103.83" y="153.00" width="4.2" height="4.5" fill="#d8d8d8"/>
<rect x="108.75" y="153.00" width="4.2" height="4.5" fill="#d8d8d8"/>
<rect x="113.68" y="153.00" width="4.2" height="4.5" fill="#d8d8d8"/>
<rect x="118.60" y="153.00" width="4.2" height="4.5" fill="#d8d8d8"/>
<rect x="123.53" y="153.00" width="4.2" height="4.5" fill="#8a8046"/>
<rect x="128.46" y="153.00" width="4.2" height="4.5" fill="#d8d8d8"/>
<rect x="133.38" y="153.00" width="4.2" height="4.5" fill="#d8d8d8"/>
<rect x="138.31" y="153.00" width="4.2" height="4.5" fill="#d8d8d8"/>
<rect x="143.23" y="153.00" width="4.2" height="4.5" fill="#d8d8d8"/>
<rect x="148.16" y="153.00" width="4.2" height="4.5" fill="#d8d8d8"/>
<rect x="153.09" y="153.00" width="4.2" height="4.5" fill="#dc8a8d"/>
<rect x="158.01" y="153.00" width="4.2" height="4.5" fill="#d8d8d8"/>
<rect x="162.94" y="153.00" width="4.2" height="4.5" fill="#8a8046"/>
<rect x="167.86" y="153.00" width="4.2" height="4.5" fill="#d8d8d8"/>
<rect x="172.79" y="153.00" width="4.2" height="4.5" fill="#d8d8d8"/>
<rect x="177.72" y="153.00" width="4.2" height="4.5" fill="#dc8a8d"/>
<rect x="182.64" y="153.00" width="4.2" height="4.5" fill="#d8d8d8"/>
<rect x="187.57" y="153.00" width="4.2" height="4.5" fill="#dc8a8d"/>
<rect x="192.49" y="153.00" width="4.2" height="4.5" fill="#d8d8d8"/>
<rect x="197.42" y="153.00" width="4.2" height="4.5" fill="#d8d8d8"/>
<rect x="202.35" y="153.00" width="4.2" height="4.5" fill="#dc8a8d"/>
<rect x="207.27" y="153.00" width="4.2" height="4.5" fill="#d8d8d8"/>
<rect x="212.20" y="153.00" width="4.2" height="4.5" fill="#d8d8d8"/>
<rect x="217.12" y="153.00" width="4.2" height="4.5" fill="#d8d8d8"/>
<rect x="222.05" y="153.00" width="4.2" height="4.5" fill="#d8d8d8"/>
<rect x="226.98" y="153.00" width="4.2" height="4.5" fill="#d8d8d8"/>
<rect x="231.90" y="153.00" width="4.2" height="4.5" fill="#d8d8d8"/>
<rect x="236.83" y="153.00" width="4.2" height="4.5" fill="#d8d8d8"/>
<rect x="241.75" y="153.00" width="4.2" height="4.5" fill="#d8d8d8"/>
<rect x="246.68" y="153.00" width="4.2" height="4.5" fill="#d8d8d8"/>
<rect x="251.61" y="153.00" width="4.2" height="4.5" fill="#d8d8d8"/>
<rect x="256.53" y="153.00" width="4.2" height="4.5" fill="#d8d8d8"/>
<rect x="261.46" y="153.00" width="4.2" height="4.5" fill="#d8d8d8"/>
<rect x="266.38" y="153.00" width="4.2" height="4.5" fill="#d8d8d8"/>
<rect x="271.31" y="153.00" width="4.2" height="4.5" fill="#d8d8d8"/>
<rect x="276.24" y="153.00" width="4.2" height="4.5" fill="#d8d8d8"/>
<rect x="281.16" y="153.00" width="4.2" height="4.5" fill="#d8d8d8"/>
<rect x="286.09" y="153.00" width="4.2" height="4.5" fill="#8a8046"/>
<rect x="291.01" y="153.00" width="4.2" height="4.5" fill="#d8d8d8"/>
<rect x="295.94" y="153.00" width="4.2" height="4.5" fill="#d8d8d8"/>
<rect x="300.87" y="153.00" width="4.2" height="4.5" fill="#d8d8d8"/>
<rect x="305.79" y="153.00" width="4.2" height="4.5" fill="#d8d8d8"/>
<rect x="310.72" y="153.00" width="4.2" height="4.5" fill="#d8d8d8"/>
<rect x="315.64" y="153.00" width="4.2" height="4.5" fill="#d8d8d8"/>
<rect x="320.57" y="153.00" width="4.2" height="4.5" fill="#dc8a8d"/>
<rect x="325.50" y="153.00" width="4.2" height="4.5" fill="#dc8a8d"/>
<rect x="330.42" y="153.00" width="4.2" height="4.5" fill="#d8d8d8"/>
<rect x="335.35" y="153.00" width="4.2" height="4.5" fill="#d8d8d8"/>
<rect x="340.27" y="153.00" width="4.2" height="4.5" fill="#d8d8d8"/>
<rect x="345.20" y="153.00" width="4.2" height="4.5" fill="#d8d8d8"/>
<rect x="350.13" y="153.00" width="4.2" height="4.5" fill="#d8d8d8"/>
<rect x="355.05" y="153.00" width="4.2" height="4.5" fill="#dc8a8d"/>
<rect x="359.98" y="153.00" width="4.2" height="4.5" fill="#d8d8d8"/>
<rect x="364.90" y="153.00" width="4.2" height="4.5" fill="#d8d8d8"/>
<rect x="369.83" y="153.00" width="4.2" height="4.5" fill="#d8d8d8"/>
<rect x="374.76" y="153.00" width="4.2" height="4.5" fill="#d8d8d8"/>
<rect x="379.68" y="153.00" width="4.2" height="4.5" fill="#d8d8d8"/>
<rect x="384.61" y="153.00" width="4.2" height="4.5" fill="#3fa3c8"/>
<rect x="389.53" y="153.00" width="4.2" height="4.5" fill="#d8d8d8"/>
<rect x="394.46" y="153.00" width="4.2" height="4.5" fill="#d8d8d8"/>
<rect x="399.39" y="153.00" width="4.2" height="4.5" fill="#dc8a8d"/>
<rect x="404.31" y="153.00" width="4.2" height="4.5" fill="#d8d8d8"/>
<rect x="409.24" y="153.00" width="4.2" height="4.5" fill="#d8d8d8"/>
<rect x="414.16" y="153.00" width="4.2" height="4.5" fill="#d8d8d8"/>
<rect x="419.09" y="153.00" width="4.2" height="4.5" fill="#d8d8d8"/>
<rect x="424.02" y="153.00" width="4.2" height="4.5" fill="#d8d8d8"/>
<rect x="428.94" y="153.00" width="4.2" height="4.5" fill="#d8d8d8"/>
<rect x="433.87" y="153.00" width="4.2" height="4.5" fill="#d8d8d8"/>
<rect x="438.79" y="153.00" width="4.2" height="4.5" fill="#d8d8d8"/>
<text transform="translate(73.00,157.10) scale(1.013,1)" font-size="4.8" fill="#5e5e5e" font-style="italic" >KMT2C</text>
<rect x="443.8" y="153.00" width="4.13" height="4.5" fill="#938a52"/>
<rect x="479.6" y="153.00" width="6.38" height="4.5" fill="#5f8cc7"/>
<text transform="translate(463.52,157.00)" font-size="5.0" fill="#222" >17.2%</text>
<text transform="translate(498.53,157.00)" font-size="5.0" fill="#222" >25.0%</text>
<rect x="98.90" y="158.80" width="4.2" height="4.5" fill="#d8d8d8"/>
<rect x="103.83" y="158.80" width="4.2" height="4.5" fill="#d8d8d8"/>
<rect x="108.75" y="158.80" width="4.2" height="4.5" fill="#d8d8d8"/>
<rect x="113.68" y="158.80" width="4.2" height="4.5" fill="#d8d8d8"/>
<rect x="118.60" y="158.80" width="4.2" height="4.5" fill="#d8d8d8"/>
<rect x="123.53" y="158.80" width="4.2" height="4.5" fill="#dc8a8d"/>
<rect x="128.46" y="158.80" width="4.2" height="4.5" fill="#d8d8d8"/>
<rect x="133.38" y="158.80" width="4.2" height="4.5" fill="#d8d8d8"/>
<rect x="138.31" y="158.80" width="4.2" height="4.5" fill="#d8d8d8"/>
<rect x="143.23" y="158.80" width="4.2" height="4.5" fill="#d8d8d8"/>
<rect x="148.16" y="158.80" width="4.2" height="4.5" fill="#d8d8d8"/>
<rect x="153.09" y="158.80" width="4.2" height="4.5" fill="#d8d8d8"/>
<rect x="158.01" y="158.80" width="4.2" height="4.5" fill="#d8d8d8"/>
<rect x="162.94" y="158.80" width="4.2" height="4.5" fill="#dc8a8d"/>
<rect x="167.86" y="158.80" width="4.2" height="4.5" fill="#d8d8d8"/>
<rect x="172.79" y="158.80" width="4.2" height="4.5" fill="#d8d8d8"/>
<rect x="177.72" y="158.80" width="4.2" height="4.5" fill="#d8d8d8"/>
<rect x="182.64" y="158.80" width="4.2" height="4.5" fill="#d8d8d8"/>
<rect x="187.57" y="158.80" width="4.2" height="4.5" fill="#d8d8d8"/>
<rect x="192.49" y="158.80" width="4.2" height="4.5" fill="#d8d8d8"/>
<rect x="197.42" y="158.80" width="4.2" height="4.5" fill="#dc8a8d"/>
<rect x="202.35" y="158.80" width="4.2" height="4.5" fill="#d8d8d8"/>
<rect x="207.27" y="158.80" width="4.2" height="4.5" fill="#d8d8d8"/>
<rect x="212.20" y="158.80" width="4.2" height="4.5" fill="#d8d8d8"/>
<rect x="217.12" y="158.80" width="4.2" height="4.5" fill="#d8d8d8"/>
<rect x="222.05" y="158.80" width="4.2" height="4.5" fill="#d8d8d8"/>
<rect x="226.98" y="158.80" width="4.2" height="4.5" fill="#d8d8d8"/>
<rect x="231.90" y="158.80" width="4.2" height="4.5" fill="#d8d8d8"/>
<rect x="236.83" y="158.80" width="4.2" height="4.5" fill="#d8d8d8"/>
<rect x="241.75" y="158.80" width="4.2" height="4.5" fill="#d8d8d8"/>
<rect x="246.68" y="158.80" width="4.2" height="4.5" fill="#d8d8d8"/>
<rect x="251.61" y="158.80" width="4.2" height="4.5" fill="#d8d8d8"/>
<rect x="256.53" y="158.80" width="4.2" height="4.5" fill="#d8d8d8"/>
<rect x="261.46" y="158.80" width="4.2" height="4.5" fill="#d8d8d8"/>
<rect x="266.38" y="158.80" width="4.2" height="4.5" fill="#d8d8d8"/>
<rect x="271.31" y="158.80" width="4.2" height="4.5" fill="#d8d8d8"/>
<rect x="276.24" y="158.80" width="4.2" height="4.5" fill="#d8d8d8"/>
<rect x="281.16" y="158.80" width="4.2" height="4.5" fill="#d8d8d8"/>
<rect x="286.09" y="158.80" width="4.2" height="4.5" fill="#d8d8d8"/>
<rect x="291.01" y="158.80" width="4.2" height="4.5" fill="#d8d8d8"/>
<rect x="295.94" y="158.80" width="4.2" height="4.5" fill="#d8d8d8"/>
<rect x="300.87" y="158.80" width="4.2" height="4.5" fill="#dc8a8d"/>
<rect x="305.79" y="158.80" width="4.2" height="4.5" fill="#d8d8d8"/>
<rect x="310.72" y="158.80" width="4.2" height="4.5" fill="#d8d8d8"/>
<rect x="315.64" y="158.80" width="4.2" height="4.5" fill="#d8d8d8"/>
<rect x="320.57" y="158.80" width="4.2" height="4.5" fill="#d8d8d8"/>
<rect x="325.50" y="158.80" width="4.2" height="4.5" fill="#8a8046"/>
<rect x="330.42" y="158.80" width="4.2" height="4.5" fill="#8a8046"/>
<rect x="335.35" y="158.80" width="4.2" height="4.5" fill="#d8d8d8"/>
<rect x="340.27" y="158.80" width="4.2" height="4.5" fill="#d8d8d8"/>
<rect x="345.20" y="158.80" width="4.2" height="4.5" fill="#d8d8d8"/>
<rect x="350.13" y="158.80" width="4.2" height="4.5" fill="#dc8a8d"/>
<rect x="355.05" y="158.80" width="4.2" height="4.5" fill="#d8d8d8"/>
<rect x="359.98" y="158.80" width="4.2" height="4.5" fill="#d8d8d8"/>
<rect x="364.90" y="158.80" width="4.2" height="4.5" fill="#d8d8d8"/>
<rect x="369.83" y="158.80" width="4.2" height="4.5" fill="#d8d8d8"/>
<rect x="374.76" y="158.80" width="4.2" height="4.5" fill="#dc8a8d"/>
<rect x="379.68" y="158.80" width="4.2" height="4.5" fill="#d8d8d8"/>
<rect x="384.61" y="158.80" width="4.2" height="4.5" fill="#d8d8d8"/>
<rect x="389.53" y="158.80" width="4.2" height="4.5" fill="#d8d8d8"/>
<rect x="394.46" y="158.80" width="4.2" height="4.5" fill="#d8d8d8"/>
<rect x="399.39" y="158.80" width="4.2" height="4.5" fill="#d8d8d8"/>
<rect x="404.31" y="158.80" width="4.2" height="4.5" fill="#d8d8d8"/>
<rect x="409.24" y="158.80" width="4.2" height="4.5" fill="#d8d8d8"/>
<rect x="414.16" y="158.80" width="4.2" height="4.5" fill="#d8d8d8"/>
<rect x="419.09" y="158.80" width="4.2" height="4.5" fill="#d8d8d8"/>
<rect x="424.02" y="158.80" width="4.2" height="4.5" fill="#d8d8d8"/>
<rect x="428.94" y="158.80" width="4.2" height="4.5" fill="#d8d8d8"/>
<rect x="433.87" y="158.80" width="4.2" height="4.5" fill="#d8d8d8"/>
<rect x="438.79" y="158.80" width="4.2" height="4.5" fill="#d8d8d8"/>
<text transform="translate(73.00,162.90) scale(0.992,1)" font-size="4.8" fill="#5e5e5e" font-style="italic" >BAZ2A</text>
<rect x="443.8" y="158.80" width="3.31" height="4.5" fill="#938a52"/>
<rect x="479.6" y="158.80" width="4.56" height="4.5" fill="#5f8cc7"/>
<text transform="translate(463.52,162.80)" font-size="5.0" fill="#222" >13.8%</text>
<text transform="translate(498.53,162.80)" font-size="5.0" fill="#222" >17.9%</text>
<rect x="98.90" y="164.70" width="4.2" height="4.5" fill="#d8d8d8"/>
<rect x="103.83" y="164.70" width="4.2" height="4.5" fill="#d8d8d8"/>
<rect x="108.75" y="164.70" width="4.2" height="4.5" fill="#d8d8d8"/>
<rect x="113.68" y="164.70" width="4.2" height="4.5" fill="#d8d8d8"/>
<rect x="118.60" y="164.70" width="4.2" height="4.5" fill="#d8d8d8"/>
<rect x="123.53" y="164.70" width="4.2" height="4.5" fill="#d8d8d8"/>
<rect x="128.46" y="164.70" width="4.2" height="4.5" fill="#d8d8d8"/>
<rect x="133.38" y="164.70" width="4.2" height="4.5" fill="#d8d8d8"/>
<rect x="138.31" y="164.70" width="4.2" height="4.5" fill="#d8d8d8"/>
<rect x="143.23" y="164.70" width="4.2" height="4.5" fill="#d8d8d8"/>
<rect x="148.16" y="164.70" width="4.2" height="4.5" fill="#d8d8d8"/>
<rect x="153.09" y="164.70" width="4.2" height="4.5" fill="#d8d8d8"/>
<rect x="158.01" y="164.70" width="4.2" height="4.5" fill="#d8d8d8"/>
<rect x="162.94" y="164.70" width="4.2" height="4.5" fill="#8a8046"/>
<rect x="167.86" y="164.70" width="4.2" height="4.5" fill="#d8d8d8"/>
<rect x="172.79" y="164.70" width="4.2" height="4.5" fill="#d8d8d8"/>
<rect x="177.72" y="164.70" width="4.2" height="4.5" fill="#d8d8d8"/>
<rect x="182.64" y="164.70" width="4.2" height="4.5" fill="#d8d8d8"/>
<rect x="187.57" y="164.70" width="4.2" height="4.5" fill="#d8d8d8"/>
<rect x="192.49" y="164.70" width="4.2" height="4.5" fill="#d8d8d8"/>
<rect x="197.42" y="164.70" width="4.2" height="4.5" fill="#d8d8d8"/>
<rect x="202.35" y="164.70" width="4.2" height="4.5" fill="#d8d8d8"/>
<rect x="207.27" y="164.70" width="4.2" height="4.5" fill="#d8d8d8"/>
<rect x="212.20" y="164.70" width="4.2" height="4.5" fill="#d8d8d8"/>
<rect x="217.12" y="164.70" width="4.2" height="4.5" fill="#d8d8d8"/>
<rect x="222.05" y="164.70" width="4.2" height="4.5" fill="#d8d8d8"/>
<rect x="226.98" y="164.70" width="4.2" height="4.5" fill="#d8d8d8"/>
<rect x="231.90" y="164.70" width="4.2" height="4.5" fill="#d8d8d8"/>
<rect x="236.83" y="164.70" width="4.2" height="4.5" fill="#d8d8d8"/>
<rect x="241.75" y="164.70" width="4.2" height="4.5" fill="#d8d8d8"/>
<rect x="246.68" y="164.70" width="4.2" height="4.5" fill="#d8d8d8"/>
<rect x="251.61" y="164.70" width="4.2" height="4.5" fill="#d8d8d8"/>
<rect x="256.53" y="164.70" width="4.2" height="4.5" fill="#d8d8d8"/>
<rect x="261.46" y="164.70" width="4.2" height="4.5" fill="#d8d8d8"/>
<rect x="266.38" y="164.70" width="4.2" height="4.5" fill="#d8d8d8"/>
<rect x="271.31" y="164.70" width="4.2" height="4.5" fill="#d8d8d8"/>
<rect x="276.24" y="164.70" width="4.2" height="4.5" fill="#d8d8d8"/>
<rect x="281.16" y="164.70" width="4.2" height="4.5" fill="#d8d8d8"/>
<rect x="286.09" y="164.70" width="4.2" height="4.5" fill="#d8d8d8"/>
<rect x="291.01" y="164.70" width="4.2" height="4.5" fill="#d8d8d8"/>
<rect x="295.94" y="164.70" width="4.2" height="4.5" fill="#dc8a8d"/>
<rect x="300.87" y="164.70" width="4.2" height="4.5" fill="#d8d8d8"/>
<rect x="305.79" y="164.70" width="4.2" height="4.5" fill="#d8d8d8"/>
<rect x="310.72" y="164.70" width="4.2" height="4.5" fill="#d8d8d8"/>
<rect x="315.64" y="164.70" width="4.2" height="4.5" fill="#8a8046"/>
<rect x="320.57" y="164.70" width="4.2" height="4.5" fill="#d8d8d8"/>
<rect x="325.50" y="164.70" width="4.2" height="4.5" fill="#8a8046"/>
<rect x="330.42" y="164.70" width="4.2" height="4.5" fill="#8a8046"/>
<rect x="335.35" y="164.70" width="4.2" height="4.5" fill="#d8d8d8"/>
<rect x="340.27" y="164.70" width="4.2" height="4.5" fill="#dc8a8d"/>
<rect x="345.20" y="164.70" width="4.2" height="4.5" fill="#d8d8d8"/>
<rect x="350.13" y="164.70" width="4.2" height="4.5" fill="#d8d8d8"/>
<rect x="355.05" y="164.70" width="4.2" height="4.5" fill="#d8d8d8"/>
<rect x="359.98" y="164.70" width="4.2" height="4.5" fill="#d8d8d8"/>
<rect x="364.90" y="164.70" width="4.2" height="4.5" fill="#d8d8d8"/>
<rect x="369.83" y="164.70" width="4.2" height="4.5" fill="#dc8a8d"/>
<rect x="374.76" y="164.70" width="4.2" height="4.5" fill="#d8d8d8"/>
<rect x="379.68" y="164.70" width="4.2" height="4.5" fill="#d8d8d8"/>
<rect x="384.61" y="164.70" width="4.2" height="4.5" fill="#d8d8d8"/>
<rect x="389.53" y="164.70" width="4.2" height="4.5" fill="#d8d8d8"/>
<rect x="394.46" y="164.70" width="4.2" height="4.5" fill="#d8d8d8"/>
<rect x="399.39" y="164.70" width="4.2" height="4.5" fill="#d8d8d8"/>
<rect x="404.31" y="164.70" width="4.2" height="4.5" fill="#d8d8d8"/>
<rect x="409.24" y="164.70" width="4.2" height="4.5" fill="#d8d8d8"/>
<rect x="414.16" y="164.70" width="4.2" height="4.5" fill="#dc8a8d"/>
<rect x="419.09" y="164.70" width="4.2" height="4.5" fill="#d8d8d8"/>
<rect x="424.02" y="164.70" width="4.2" height="4.5" fill="#d8d8d8"/>
<rect x="428.94" y="164.70" width="4.2" height="4.5" fill="#d8d8d8"/>
<rect x="433.87" y="164.70" width="4.2" height="4.5" fill="#d8d8d8"/>
<rect x="438.79" y="164.70" width="4.2" height="4.5" fill="#d8d8d8"/>
<text transform="translate(73.00,168.80) scale(1.006,1)" font-size="4.8" fill="#5e5e5e" font-style="italic" >KMT2D*</text>
<rect x="443.8" y="164.70" width="2.90" height="4.5" fill="#938a52"/>
<rect x="479.6" y="164.70" width="4.56" height="4.5" fill="#5f8cc7"/>
<text transform="translate(463.52,168.70)" font-size="5.0" fill="#222" >12.1%</text>
<text transform="translate(498.53,168.70)" font-size="5.0" fill="#222" >17.9%</text>
<rect x="98.90" y="170.90" width="4.2" height="4.5" fill="#d8d8d8"/>
<rect x="103.83" y="170.90" width="4.2" height="4.5" fill="#d8d8d8"/>
<rect x="108.75" y="170.90" width="4.2" height="4.5" fill="#d8d8d8"/>
<rect x="113.68" y="170.90" width="4.2" height="4.5" fill="#d8d8d8"/>
<rect x="118.60" y="170.90" width="4.2" height="4.5" fill="#d8d8d8"/>
<rect x="123.53" y="170.90" width="4.2" height="4.5" fill="#d8d8d8"/>
<rect x="128.46" y="170.90" width="4.2" height="4.5" fill="#d8d8d8"/>
<rect x="133.38" y="170.90" width="4.2" height="4.5" fill="#d8d8d8"/>
<rect x="138.31" y="170.90" width="4.2" height="4.5" fill="#d8d8d8"/>
<rect x="143.23" y="170.90" width="4.2" height="4.5" fill="#d8d8d8"/>
<rect x="148.16" y="170.90" width="4.2" height="4.5" fill="#d8d8d8"/>
<rect x="153.09" y="170.90" width="4.2" height="4.5" fill="#d8d8d8"/>
<rect x="158.01" y="170.90" width="4.2" height="4.5" fill="#d8d8d8"/>
<rect x="162.94" y="170.90" width="4.2" height="4.5" fill="#d8d8d8"/>
<rect x="167.86" y="170.90" width="4.2" height="4.5" fill="#d8d8d8"/>
<rect x="172.79" y="170.90" width="4.2" height="4.5" fill="#d8d8d8"/>
<rect x="177.72" y="170.90" width="4.2" height="4.5" fill="#d8d8d8"/>
<rect x="182.64" y="170.90" width="4.2" height="4.5" fill="#d8d8d8"/>
<rect x="187.57" y="170.90" width="4.2" height="4.5" fill="#d8d8d8"/>
<rect x="192.49" y="170.90" width="4.2" height="4.5" fill="#d8d8d8"/>
<rect x="197.42" y="170.90" width="4.2" height="4.5" fill="#d8d8d8"/>
<rect x="202.35" y="170.90" width="4.2" height="4.5" fill="#d8d8d8"/>
<rect x="207.27" y="170.90" width="4.2" height="4.5" fill="#d8d8d8"/>
<rect x="212.20" y="170.90" width="4.2" height="4.5" fill="#d8d8d8"/>
<rect x="217.12" y="170.90" width="4.2" height="4.5" fill="#dc8a8d"/>
<rect x="222.05" y="170.90" width="4.2" height="4.5" fill="#d8d8d8"/>
<rect x="226.98" y="170.90" width="4.2" height="4.5" fill="#d8d8d8"/>
<rect x="231.90" y="170.90" width="4.2" height="4.5" fill="#d8d8d8"/>
<rect x="236.83" y="170.90" width="4.2" height="4.5" fill="#d8d8d8"/>
<rect x="241.75" y="170.90" width="4.2" height="4.5" fill="#d8d8d8"/>
<rect x="246.68" y="170.90" width="4.2" height="4.5" fill="#d8d8d8"/>
<rect x="251.61" y="170.90" width="4.2" height="4.5" fill="#d8d8d8"/>
<rect x="256.53" y="170.90" width="4.2" height="4.5" fill="#d8d8d8"/>
<rect x="261.46" y="170.90" width="4.2" height="4.5" fill="#d8d8d8"/>
<rect x="266.38" y="170.90" width="4.2" height="4.5" fill="#d8d8d8"/>
<rect x="271.31" y="170.90" width="4.2" height="4.5" fill="#d8d8d8"/>
<rect x="276.24" y="170.90" width="4.2" height="4.5" fill="#d8d8d8"/>
<rect x="281.16" y="170.90" width="4.2" height="4.5" fill="#d8d8d8"/>
<rect x="286.09" y="170.90" width="4.2" height="4.5" fill="#d8d8d8"/>
<rect x="291.01" y="170.90" width="4.2" height="4.5" fill="#d8d8d8"/>
<rect x="295.94" y="170.90" width="4.2" height="4.5" fill="#d8d8d8"/>
<rect x="300.87" y="170.90" width="4.2" height="4.5" fill="#d8d8d8"/>
<rect x="305.79" y="170.90" width="4.2" height="4.5" fill="#d8d8d8"/>
<rect x="310.72" y="170.90" width="4.2" height="4.5" fill="#d8d8d8"/>
<rect x="315.64" y="170.90" width="4.2" height="4.5" fill="#d8d8d8"/>
<rect x="320.57" y="170.90" width="4.2" height="4.5" fill="#d8d8d8"/>
<rect x="325.50" y="170.90" width="4.2" height="4.5" fill="#8a8046"/>
<rect x="330.42" y="170.90" width="4.2" height="4.5" fill="#d8d8d8"/>
<rect x="335.35" y="170.90" width="4.2" height="4.5" fill="#dc8a8d"/>
<rect x="340.27" y="170.90" width="4.2" height="4.5" fill="#d8d8d8"/>
<rect x="345.20" y="170.90" width="4.2" height="4.5" fill="#d8d8d8"/>
<rect x="350.13" y="170.90" width="4.2" height="4.5" fill="#d8d8d8"/>
<rect x="355.05" y="170.90" width="4.2" height="4.5" fill="#dc8a8d"/>
<rect x="359.98" y="170.90" width="4.2" height="4.5" fill="#dc8a8d"/>
<rect x="364.90" y="170.90" width="4.2" height="4.5" fill="#d8d8d8"/>
<rect x="369.83" y="170.90" width="4.2" height="4.5" fill="#d8d8d8"/>
<rect x="374.76" y="170.90" width="4.2" height="4.5" fill="#d8d8d8"/>
<rect x="379.68" y="170.90" width="4.2" height="4.5" fill="#d8d8d8"/>
<rect x="384.61" y="170.90" width="4.2" height="4.5" fill="#d8d8d8"/>
<rect x="389.53" y="170.90" width="4.2" height="4.5" fill="#d8d8d8"/>
<rect x="394.46" y="170.90" width="4.2" height="4.5" fill="#d8d8d8"/>
<rect x="399.39" y="170.90" width="4.2" height="4.5" fill="#d8d8d8"/>
<rect x="404.31" y="170.90" width="4.2" height="4.5" fill="#d8d8d8"/>
<rect x="409.24" y="170.90" width="4.2" height="4.5" fill="#d8d8d8"/>
<rect x="414.16" y="170.90" width="4.2" height="4.5" fill="#d8d8d8"/>
<rect x="419.09" y="170.90" width="4.2" height="4.5" fill="#dc8a8d"/>
<rect x="424.02" y="170.90" width="4.2" height="4.5" fill="#d8d8d8"/>
<rect x="428.94" y="170.90" width="4.2" height="4.5" fill="#d8d8d8"/>
<rect x="433.87" y="170.90" width="4.2" height="4.5" fill="#d8d8d8"/>
<rect x="438.79" y="170.90" width="4.2" height="4.5" fill="#d8d8d8"/>
<text transform="translate(73.00,175.00) scale(0.994,1)" font-size="4.8" fill="#5e5e5e" font-style="italic" >NUMA1*</text>
<rect x="443.8" y="170.90" width="2.06" height="4.5" fill="#938a52"/>
<rect x="479.6" y="170.90" width="0.92" height="4.5" fill="#5f8cc7"/>
<text transform="translate(466.30,174.90)" font-size="5.0" fill="#222" >8.6%</text>
<text transform="translate(501.30,174.90)" font-size="5.0" fill="#222" >3.6%</text>
<rect x="98.90" y="176.70" width="4.2" height="4.5" fill="#d8d8d8"/>
<rect x="103.83" y="176.70" width="4.2" height="4.5" fill="#d8d8d8"/>
<rect x="108.75" y="176.70" width="4.2" height="4.5" fill="#d8d8d8"/>
<rect x="113.68" y="176.70" width="4.2" height="4.5" fill="#d8d8d8"/>
<rect x="118.60" y="176.70" width="4.2" height="4.5" fill="#d8d8d8"/>
<rect x="123.53" y="176.70" width="4.2" height="4.5" fill="#d8d8d8"/>
<rect x="128.46" y="176.70" width="4.2" height="4.5" fill="#d8d8d8"/>
<rect x="133.38" y="176.70" width="4.2" height="4.5" fill="#d8d8d8"/>
<rect x="138.31" y="176.70" width="4.2" height="4.5" fill="#d8d8d8"/>
<rect x="143.23" y="176.70" width="4.2" height="4.5" fill="#d8d8d8"/>
<rect x="148.16" y="176.70" width="4.2" height="4.5" fill="#d8d8d8"/>
<rect x="153.09" y="176.70" width="4.2" height="4.5" fill="#d8d8d8"/>
<rect x="158.01" y="176.70" width="4.2" height="4.5" fill="#d8d8d8"/>
<rect x="162.94" y="176.70" width="4.2" height="4.5" fill="#8a8046"/>
<rect x="167.86" y="176.70" width="4.2" height="4.5" fill="#dc8a8d"/>
<rect x="172.79" y="176.70" width="4.2" height="4.5" fill="#d8d8d8"/>
<rect x="177.72" y="176.70" width="4.2" height="4.5" fill="#d8d8d8"/>
<rect x="182.64" y="176.70" width="4.2" height="4.5" fill="#d8d8d8"/>
<rect x="187.57" y="176.70" width="4.2" height="4.5" fill="#d8d8d8"/>
<rect x="192.49" y="176.70" width="4.2" height="4.5" fill="#d8d8d8"/>
<rect x="197.42" y="176.70" width="4.2" height="4.5" fill="#d8d8d8"/>
<rect x="202.35" y="176.70" width="4.2" height="4.5" fill="#d8d8d8"/>
<rect x="207.27" y="176.70" width="4.2" height="4.5" fill="#d8d8d8"/>
<rect x="212.20" y="176.70" width="4.2" height="4.5" fill="#d8d8d8"/>
<rect x="217.12" y="176.70" width="4.2" height="4.5" fill="#d8d8d8"/>
<rect x="222.05" y="176.70" width="4.2" height="4.5" fill="#d8d8d8"/>
<rect x="226.98" y="176.70" width="4.2" height="4.5" fill="#d8d8d8"/>
<rect x="231.90" y="176.70" width="4.2" height="4.5" fill="#d8d8d8"/>
<rect x="236.83" y="176.70" width="4.2" height="4.5" fill="#d8d8d8"/>
<rect x="241.75" y="176.70" width="4.2" height="4.5" fill="#d8d8d8"/>
<rect x="246.68" y="176.70" width="4.2" height="4.5" fill="#d8d8d8"/>
<rect x="251.61" y="176.70" width="4.2" height="4.5" fill="#d8d8d8"/>
<rect x="256.53" y="176.70" width="4.2" height="4.5" fill="#d8d8d8"/>
<rect x="261.46" y="176.70" width="4.2" height="4.5" fill="#d8d8d8"/>
<rect x="266.38" y="176.70" width="4.2" height="4.5" fill="#d8d8d8"/>
<rect x="271.31" y="176.70" width="4.2" height="4.5" fill="#d8d8d8"/>
<rect x="276.24" y="176.70" width="4.2" height="4.5" fill="#d8d8d8"/>
<rect x="281.16" y="176.70" width="4.2" height="4.5" fill="#d8d8d8"/>
<rect x="286.09" y="176.70" width="4.2" height="4.5" fill="#d8d8d8"/>
<rect x="291.01" y="176.70" width="4.2" height="4.5" fill="#d8d8d8"/>
<rect x="295.94" y="176.70" width="4.2" height="4.5" fill="#d8d8d8"/>
<rect x="300.87" y="176.70" width="4.2" height="4.5" fill="#d8d8d8"/>
<rect x="305.79" y="176.70" width="4.2" height="4.5" fill="#d8d8d8"/>
<rect x="310.72" y="176.70" width="4.2" height="4.5" fill="#d8d8d8"/>
<rect x="315.64" y="176.70" width="4.2" height="4.5" fill="#d8d8d8"/>
<rect x="320.57" y="176.70" width="4.2" height="4.5" fill="#d8d8d8"/>
<rect x="325.50" y="176.70" width="4.2" height="4.5" fill="#dc8a8d"/>
<rect x="330.42" y="176.70" width="4.2" height="4.5" fill="#d8d8d8"/>
<rect x="335.35" y="176.70" width="4.2" height="4.5" fill="#dc8a8d"/>
<rect x="340.27" y="176.70" width="4.2" height="4.5" fill="#d8d8d8"/>
<rect x="345.20" y="176.70" width="4.2" height="4.5" fill="#d8d8d8"/>
<rect x="350.13" y="176.70" width="4.2" height="4.5" fill="#d8d8d8"/>
<rect x="355.05" y="176.70" width="4.2" height="4.5" fill="#d8d8d8"/>
<rect x="359.98" y="176.70" width="4.2" height="4.5" fill="#d8d8d8"/>
<rect x="364.90" y="176.70" width="4.2" height="4.5" fill="#dc8a8d"/>
<rect x="369.83" y="176.70" width="4.2" height="4.5" fill="#d8d8d8"/>
<rect x="374.76" y="176.70" width="4.2" height="4.5" fill="#d8d8d8"/>
<rect x="379.68" y="176.70" width="4.2" height="4.5" fill="#d8d8d8"/>
<rect x="384.61" y="176.70" width="4.2" height="4.5" fill="#d8d8d8"/>
<rect x="389.53" y="176.70" width="4.2" height="4.5" fill="#d8d8d8"/>
<rect x="394.46" y="176.70" width="4.2" height="4.5" fill="#d8d8d8"/>
<rect x="399.39" y="176.70" width="4.2" height="4.5" fill="#d8d8d8"/>
<rect x="404.31" y="176.70" width="4.2" height="4.5" fill="#d8d8d8"/>
<rect x="409.24" y="176.70" width="4.2" height="4.5" fill="#d8d8d8"/>
<rect x="414.16" y="176.70" width="4.2" height="4.5" fill="#d8d8d8"/>
<rect x="419.09" y="176.70" width="4.2" height="4.5" fill="#d8d8d8"/>
<rect x="424.02" y="176.70" width="4.2" height="4.5" fill="#d8d8d8"/>
<rect x="428.94" y="176.70" width="4.2" height="4.5" fill="#d8d8d8"/>
<rect x="433.87" y="176.70" width="4.2" height="4.5" fill="#d8d8d8"/>
<rect x="438.79" y="176.70" width="4.2" height="4.5" fill="#d8d8d8"/>
<text transform="translate(73.00,180.80) scale(1.008,1)" font-size="4.8" fill="#5e5e5e" font-style="italic" >NUP98</text>
<rect x="443.8" y="176.70" width="2.06" height="4.5" fill="#938a52"/>
<rect x="479.6" y="176.70" width="2.73" height="4.5" fill="#5f8cc7"/>
<text transform="translate(466.30,180.70)" font-size="5.0" fill="#222" >8.6%</text>
<text transform="translate(498.53,180.70)" font-size="5.0" fill="#222" >10.7%</text>
<rect x="98.90" y="182.80" width="4.2" height="4.5" fill="#d8d8d8"/>
<rect x="103.83" y="182.80" width="4.2" height="4.5" fill="#d8d8d8"/>
<rect x="108.75" y="182.80" width="4.2" height="4.5" fill="#d8d8d8"/>
<rect x="113.68" y="182.80" width="4.2" height="4.5" fill="#d8d8d8"/>
<rect x="118.60" y="182.80" width="4.2" height="4.5" fill="#d8d8d8"/>
<rect x="123.53" y="182.80" width="4.2" height="4.5" fill="#d8d8d8"/>
<rect x="128.46" y="182.80" width="4.2" height="4.5" fill="#d8d8d8"/>
<rect x="133.38" y="182.80" width="4.2" height="4.5" fill="#d8d8d8"/>
<rect x="138.31" y="182.80" width="4.2" height="4.5" fill="#d8d8d8"/>
<rect x="143.23" y="182.80" width="4.2" height="4.5" fill="#d8d8d8"/>
<rect x="148.16" y="182.80" width="4.2" height="4.5" fill="#d8d8d8"/>
<rect x="153.09" y="182.80" width="4.2" height="4.5" fill="#d8d8d8"/>
<rect x="158.01" y="182.80" width="4.2" height="4.5" fill="#d8d8d8"/>
<rect x="162.94" y="182.80" width="4.2" height="4.5" fill="#8a8046"/>
<rect x="167.86" y="182.80" width="4.2" height="4.5" fill="#d8d8d8"/>
<rect x="172.79" y="182.80" width="4.2" height="4.5" fill="#d8d8d8"/>
<rect x="177.72" y="182.80" width="4.2" height="4.5" fill="#d8d8d8"/>
<rect x="182.64" y="182.80" width="4.2" height="4.5" fill="#d8d8d8"/>
<rect x="187.57" y="182.80" width="4.2" height="4.5" fill="#d8d8d8"/>
<rect x="192.49" y="182.80" width="4.2" height="4.5" fill="#d8d8d8"/>
<rect x="197.42" y="182.80" width="4.2" height="4.5" fill="#dc8a8d"/>
<rect x="202.35" y="182.80" width="4.2" height="4.5" fill="#d8d8d8"/>
<rect x="207.27" y="182.80" width="4.2" height="4.5" fill="#d8d8d8"/>
<rect x="212.20" y="182.80" width="4.2" height="4.5" fill="#d8d8d8"/>
<rect x="217.12" y="182.80" width="4.2" height="4.5" fill="#d8d8d8"/>
<rect x="222.05" y="182.80" width="4.2" height="4.5" fill="#d8d8d8"/>
<rect x="226.98" y="182.80" width="4.2" height="4.5" fill="#d8d8d8"/>
<rect x="231.90" y="182.80" width="4.2" height="4.5" fill="#d8d8d8"/>
<rect x="236.83" y="182.80" width="4.2" height="4.5" fill="#d8d8d8"/>
<rect x="241.75" y="182.80" width="4.2" height="4.5" fill="#d8d8d8"/>
<rect x="246.68" y="182.80" width="4.2" height="4.5" fill="#d8d8d8"/>
<rect x="251.61" y="182.80" width="4.2" height="4.5" fill="#d8d8d8"/>
<rect x="256.53" y="182.80" width="4.2" height="4.5" fill="#d8d8d8"/>
<rect x="261.46" y="182.80" width="4.2" height="4.5" fill="#d8d8d8"/>
<rect x="266.38" y="182.80" width="4.2" height="4.5" fill="#d8d8d8"/>
<rect x="271.31" y="182.80" width="4.2" height="4.5" fill="#d8d8d8"/>
<rect x="276.24" y="182.80" width="4.2" height="4.5" fill="#d8d8d8"/>
<rect x="281.16" y="182.80" width="4.2" height="4.5" fill="#d8d8d8"/>
<rect x="286.09" y="182.80" width="4.2" height="4.5" fill="#d8d8d8"/>
<rect x="291.01" y="182.80" width="4.2" height="4.5" fill="#d8d8d8"/>
<rect x="295.94" y="182.80" width="4.2" height="4.5" fill="#d8d8d8"/>
<rect x="300.87" y="182.80" width="4.2" height="4.5" fill="#d8d8d8"/>
<rect x="305.79" y="182.80" width="4.2" height="4.5" fill="#d8d8d8"/>
<rect x="310.72" y="182.80" width="4.2" height="4.5" fill="#d8d8d8"/>
<rect x="315.64" y="182.80" width="4.2" height="4.5" fill="#d8d8d8"/>
<rect x="320.57" y="182.80" width="4.2" height="4.5" fill="#d8d8d8"/>
<rect x="325.50" y="182.80" width="4.2" height="4.5" fill="#dc8a8d"/>
<rect x="330.42" y="182.80" width="4.2" height="4.5" fill="#d8d8d8"/>
<rect x="335.35" y="182.80" width="4.2" height="4.5" fill="#dc8a8d"/>
<rect x="340.27" y="182.80" width="4.2" height="4.5" fill="#d8d8d8"/>
<rect x="345.20" y="182.80" width="4.2" height="4.5" fill="#d8d8d8"/>
<rect x="350.13" y="182.80" width="4.2" height="4.5" fill="#d8d8d8"/>
<rect x="355.05" y="182.80" width="4.2" height="4.5" fill="#d8d8d8"/>
<rect x="359.98" y="182.80" width="4.2" height="4.5" fill="#d8d8d8"/>
<rect x="364.90" y="182.80" width="4.2" height="4.5" fill="#d8d8d8"/>
<rect x="369.83" y="182.80" width="4.2" height="4.5" fill="#d8d8d8"/>
<rect x="374.76" y="182.80" width="4.2" height="4.5" fill="#d8d8d8"/>
<rect x="379.68" y="182.80" width="4.2" height="4.5" fill="#d8d8d8"/>
<rect x="384.61" y="182.80" width="4.2" height="4.5" fill="#d8d8d8"/>
<rect x="389.53" y="182.80" width="4.2" height="4.5" fill="#d8d8d8"/>
<rect x="394.46" y="182.80" width="4.2" height="4.5" fill="#d8d8d8"/>
<rect x="399.39" y="182.80" width="4.2" height="4.5" fill="#d8d8d8"/>
<rect x="404.31" y="182.80" width="4.2" height="4.5" fill="#d8d8d8"/>
<rect x="409.24" y="182.80" width="4.2" height="4.5" fill="#d8d8d8"/>
<rect x="414.16" y="182.80" width="4.2" height="4.5" fill="#dc8a8d"/>
<rect x="419.09" y="182.80" width="4.2" height="4.5" fill="#d8d8d8"/>
<rect x="424.02" y="182.80" width="4.2" height="4.5" fill="#d8d8d8"/>
<rect x="428.94" y="182.80" width="4.2" height="4.5" fill="#d8d8d8"/>
<rect x="433.87" y="182.80" width="4.2" height="4.5" fill="#d8d8d8"/>
<rect x="438.79" y="182.80" width="4.2" height="4.5" fill="#d8d8d8"/>
<text transform="translate(73.23,186.90) scale(0.939,1)" font-size="4.8" fill="#5e5e5e" font-style="italic" >ARID1A</text>
<rect x="443.8" y="182.80" width="1.66" height="4.5" fill="#938a52"/>
<rect x="479.6" y="182.80" width="1.81" height="4.5" fill="#5f8cc7"/>
<text transform="translate(466.30,186.80)" font-size="5.0" fill="#222" >6.9%</text>
<text transform="translate(501.30,186.80)" font-size="5.0" fill="#222" >7.1%</text>
<rect x="98.90" y="188.60" width="4.2" height="4.5" fill="#d8d8d8"/>
<rect x="103.83" y="188.60" width="4.2" height="4.5" fill="#d8d8d8"/>
<rect x="108.75" y="188.60" width="4.2" height="4.5" fill="#d8d8d8"/>
<rect x="113.68" y="188.60" width="4.2" height="4.5" fill="#d8d8d8"/>
<rect x="118.60" y="188.60" width="4.2" height="4.5" fill="#d8d8d8"/>
<rect x="123.53" y="188.60" width="4.2" height="4.5" fill="#d8d8d8"/>
<rect x="128.46" y="188.60" width="4.2" height="4.5" fill="#d8d8d8"/>
<rect x="133.38" y="188.60" width="4.2" height="4.5" fill="#d8d8d8"/>
<rect x="138.31" y="188.60" width="4.2" height="4.5" fill="#d8d8d8"/>
<rect x="143.23" y="188.60" width="4.2" height="4.5" fill="#d8d8d8"/>
<rect x="148.16" y="188.60" width="4.2" height="4.5" fill="#d8d8d8"/>
<rect x="153.09" y="188.60" width="4.2" height="4.5" fill="#d8d8d8"/>
<rect x="158.01" y="188.60" width="4.2" height="4.5" fill="#d8d8d8"/>
<rect x="162.94" y="188.60" width="4.2" height="4.5" fill="#d8d8d8"/>
<rect x="167.86" y="188.60" width="4.2" height="4.5" fill="#d8d8d8"/>
<rect x="172.79" y="188.60" width="4.2" height="4.5" fill="#d8d8d8"/>
<rect x="177.72" y="188.60" width="4.2" height="4.5" fill="#dc8a8d"/>
<rect x="182.64" y="188.60" width="4.2" height="4.5" fill="#d8d8d8"/>
<rect x="187.57" y="188.60" width="4.2" height="4.5" fill="#d8d8d8"/>
<rect x="192.49" y="188.60" width="4.2" height="4.5" fill="#d8d8d8"/>
<rect x="197.42" y="188.60" width="4.2" height="4.5" fill="#d8d8d8"/>
<rect x="202.35" y="188.60" width="4.2" height="4.5" fill="#d8d8d8"/>
<rect x="207.27" y="188.60" width="4.2" height="4.5" fill="#d8d8d8"/>
<rect x="212.20" y="188.60" width="4.2" height="4.5" fill="#d8d8d8"/>
<rect x="217.12" y="188.60" width="4.2" height="4.5" fill="#d8d8d8"/>
<rect x="222.05" y="188.60" width="4.2" height="4.5" fill="#d8d8d8"/>
<rect x="226.98" y="188.60" width="4.2" height="4.5" fill="#d8d8d8"/>
<rect x="231.90" y="188.60" width="4.2" height="4.5" fill="#d8d8d8"/>
<rect x="236.83" y="188.60" width="4.2" height="4.5" fill="#d8d8d8"/>
<rect x="241.75" y="188.60" width="4.2" height="4.5" fill="#d8d8d8"/>
<rect x="246.68" y="188.60" width="4.2" height="4.5" fill="#d8d8d8"/>
<rect x="251.61" y="188.60" width="4.2" height="4.5" fill="#d8d8d8"/>
<rect x="256.53" y="188.60" width="4.2" height="4.5" fill="#d8d8d8"/>
<rect x="261.46" y="188.60" width="4.2" height="4.5" fill="#d8d8d8"/>
<rect x="266.38" y="188.60" width="4.2" height="4.5" fill="#d8d8d8"/>
<rect x="271.31" y="188.60" width="4.2" height="4.5" fill="#d8d8d8"/>
<rect x="276.24" y="188.60" width="4.2" height="4.5" fill="#d8d8d8"/>
<rect x="281.16" y="188.60" width="4.2" height="4.5" fill="#d8d8d8"/>
<rect x="286.09" y="188.60" width="4.2" height="4.5" fill="#d8d8d8"/>
<rect x="291.01" y="188.60" width="4.2" height="4.5" fill="#d8d8d8"/>
<rect x="295.94" y="188.60" width="4.2" height="4.5" fill="#d8d8d8"/>
<rect x="300.87" y="188.60" width="4.2" height="4.5" fill="#d8d8d8"/>
<rect x="305.79" y="188.60" width="4.2" height="4.5" fill="#d8d8d8"/>
<rect x="310.72" y="188.60" width="4.2" height="4.5" fill="#d8d8d8"/>
<rect x="315.64" y="188.60" width="4.2" height="4.5" fill="#d8d8d8"/>
<rect x="320.57" y="188.60" width="4.2" height="4.5" fill="#d8d8d8"/>
<rect x="325.50" y="188.60" width="4.2" height="4.5" fill="#8a8046"/>
<rect x="330.42" y="188.60" width="4.2" height="4.5" fill="#d8d8d8"/>
<rect x="335.35" y="188.60" width="4.2" height="4.5" fill="#d8d8d8"/>
<rect x="340.27" y="188.60" width="4.2" height="4.5" fill="#d8d8d8"/>
<rect x="345.20" y="188.60" width="4.2" height="4.5" fill="#d8d8d8"/>
<rect x="350.13" y="188.60" width="4.2" height="4.5" fill="#d8d8d8"/>
<rect x="355.05" y="188.60" width="4.2" height="4.5" fill="#d8d8d8"/>
<rect x="359.98" y="188.60" width="4.2" height="4.5" fill="#d8d8d8"/>
<rect x="364.90" y="188.60" width="4.2" height="4.5" fill="#dc8a8d"/>
<rect x="369.83" y="188.60" width="4.2" height="4.5" fill="#dc8a8d"/>
<rect x="374.76" y="188.60" width="4.2" height="4.5" fill="#d8d8d8"/>
<rect x="379.68" y="188.60" width="4.2" height="4.5" fill="#d8d8d8"/>
<rect x="384.61" y="188.60" width="4.2" height="4.5" fill="#d8d8d8"/>
<rect x="389.53" y="188.60" width="4.2" height="4.5" fill="#d8d8d8"/>
<rect x="394.46" y="188.60" width="4.2" height="4.5" fill="#d8d8d8"/>
<rect x="399.39" y="188.60" width="4.2" height="4.5" fill="#d8d8d8"/>
<rect x="404.31" y="188.60" width="4.2" height="4.5" fill="#d8d8d8"/>
<rect x="409.24" y="188.60" width="4.2" height="4.5" fill="#d8d8d8"/>
<rect x="414.16" y="188.60" width="4.2" height="4.5" fill="#d8d8d8"/>
<rect x="419.09" y="188.60" width="4.2" height="4.5" fill="#d8d8d8"/>
<rect x="424.02" y="188.60" width="4.2" height="4.5" fill="#d8d8d8"/>
<rect x="428.94" y="188.60" width="4.2" height="4.5" fill="#d8d8d8"/>
<rect x="433.87" y="188.60" width="4.2" height="4.5" fill="#d8d8d8"/>
<rect x="438.79" y="188.60" width="4.2" height="4.5" fill="#d8d8d8"/>
<text transform="translate(73.00,192.70)" font-size="4.8" fill="#5e5e5e" font-style="italic" >KDM6B</text>
<rect x="443.8" y="188.60" width="1.66" height="4.5" fill="#938a52"/>
<rect x="479.6" y="188.60" width="1.81" height="4.5" fill="#5f8cc7"/>
<text transform="translate(466.30,192.60)" font-size="5.0" fill="#222" >6.9%</text>
<text transform="translate(501.30,192.60)" font-size="5.0" fill="#222" >7.1%</text>
<rect x="98.90" y="194.20" width="4.2" height="4.5" fill="#d8d8d8"/>
<rect x="103.83" y="194.20" width="4.2" height="4.5" fill="#d8d8d8"/>
<rect x="108.75" y="194.20" width="4.2" height="4.5" fill="#d8d8d8"/>
<rect x="113.68" y="194.20" width="4.2" height="4.5" fill="#d8d8d8"/>
<rect x="118.60" y="194.20" width="4.2" height="4.5" fill="#d8d8d8"/>
<rect x="123.53" y="194.20" width="4.2" height="4.5" fill="#d8d8d8"/>
<rect x="128.46" y="194.20" width="4.2" height="4.5" fill="#d8d8d8"/>
<rect x="133.38" y="194.20" width="4.2" height="4.5" fill="#d8d8d8"/>
<rect x="138.31" y="194.20" width="4.2" height="4.5" fill="#d8d8d8"/>
<rect x="143.23" y="194.20" width="4.2" height="4.5" fill="#d8d8d8"/>
<rect x="148.16" y="194.20" width="4.2" height="4.5" fill="#d8d8d8"/>
<rect x="153.09" y="194.20" width="4.2" height="4.5" fill="#d8d8d8"/>
<rect x="158.01" y="194.20" width="4.2" height="4.5" fill="#d8d8d8"/>
<rect x="162.94" y="194.20" width="4.2" height="4.5" fill="#d8d8d8"/>
<rect x="167.86" y="194.20" width="4.2" height="4.5" fill="#d8d8d8"/>
<rect x="172.79" y="194.20" width="4.2" height="4.5" fill="#d8d8d8"/>
<rect x="177.72" y="194.20" width="4.2" height="4.5" fill="#d8d8d8"/>
<rect x="182.64" y="194.20" width="4.2" height="4.5" fill="#d8d8d8"/>
<rect x="187.57" y="194.20" width="4.2" height="4.5" fill="#d8d8d8"/>
<rect x="192.49" y="194.20" width="4.2" height="4.5" fill="#d8d8d8"/>
<rect x="197.42" y="194.20" width="4.2" height="4.5" fill="#d8d8d8"/>
<rect x="202.35" y="194.20" width="4.2" height="4.5" fill="#d8d8d8"/>
<rect x="207.27" y="194.20" width="4.2" height="4.5" fill="#d8d8d8"/>
<rect x="212.20" y="194.20" width="4.2" height="4.5" fill="#d8d8d8"/>
<rect x="217.12" y="194.20" width="4.2" height="4.5" fill="#d8d8d8"/>
<rect x="222.05" y="194.20" width="4.2" height="4.5" fill="#d8d8d8"/>
<rect x="226.98" y="194.20" width="4.2" height="4.5" fill="#d8d8d8"/>
<rect x="231.90" y="194.20" width="4.2" height="4.5" fill="#d8d8d8"/>
<rect x="236.83" y="194.20" width="4.2" height="4.5" fill="#d8d8d8"/>
<rect x="241.75" y="194.20" width="4.2" height="4.5" fill="#d8d8d8"/>
<rect x="246.68" y="194.20" width="4.2" height="4.5" fill="#d8d8d8"/>
<rect x="251.61" y="194.20" width="4.2" height="4.5" fill="#d8d8d8"/>
<rect x="256.53" y="194.20" width="4.2" height="4.5" fill="#d8d8d8"/>
<rect x="261.46" y="194.20" width="4.2" height="4.5" fill="#d8d8d8"/>
<rect x="266.38" y="194.20" width="4.2" height="4.5" fill="#d8d8d8"/>
<rect x="271.31" y="194.20" width="4.2" height="4.5" fill="#d8d8d8"/>
<rect x="276.24" y="194.20" width="4.2" height="4.5" fill="#d8d8d8"/>
<rect x="281.16" y="194.20" width="4.2" height="4.5" fill="#d8d8d8"/>
<rect x="286.09" y="194.20" width="4.2" height="4.5" fill="#d8d8d8"/>
<rect x="291.01" y="194.20" width="4.2" height="4.5" fill="#d8d8d8"/>
<rect x="295.94" y="194.20" width="4.2" height="4.5" fill="#d8d8d8"/>
<rect x="300.87" y="194.20" width="4.2" height="4.5" fill="#d8d8d8"/>
<rect x="305.79" y="194.20" width="4.2" height="4.5" fill="#d8d8d8"/>
<rect x="310.72" y="194.20" width="4.2" height="4.5" fill="#d8d8d8"/>
<rect x="315.64" y="194.20" width="4.2" height="4.5" fill="#d8d8d8"/>
<rect x="320.57" y="194.20" width="4.2" height="4.5" fill="#d8d8d8"/>
<rect x="325.50" y="194.20" width="4.2" height="4.5" fill="#dc8a8d"/>
<rect x="330.42" y="194.20" width="4.2" height="4.5" fill="#d8d8d8"/>
<rect x="335.35" y="194.20" width="4.2" height="4.5" fill="#d8d8d8"/>
<rect x="340.27" y="194.20" width="4.2" height="4.5" fill="#d8d8d8"/>
<rect x="345.20" y="194.20" width="4.2" height="4.5" fill="#d8d8d8"/>
<rect x="350.13" y="194.20" width="4.2" height="4.5" fill="#d8d8d8"/>
<rect x="355.05" y="194.20" width="4.2" height="4.5" fill="#d8d8d8"/>
<rect x="359.98" y="194.20" width="4.2" height="4.5" fill="#d8d8d8"/>
<rect x="364.90" y="194.20" width="4.2" height="4.5" fill="#dc8a8d"/>
<rect x="369.83" y="194.20" width="4.2" height="4.5" fill="#d8d8d8"/>
<rect x="374.76" y="194.20" width="4.2" height="4.5" fill="#dc8a8d"/>
<rect x="379.68" y="194.20" width="4.2" height="4.5" fill="#d8d8d8"/>
<rect x="384.61" y="194.20" width="4.2" height="4.5" fill="#d8d8d8"/>
<rect x="389.53" y="194.20" width="4.2" height="4.5" fill="#d8d8d8"/>
<rect x="394.46" y="194.20" width="4.2" height="4.5" fill="#d8d8d8"/>
<rect x="399.39" y="194.20" width="4.2" height="4.5" fill="#d8d8d8"/>
<rect x="404.31" y="194.20" width="4.2" height="4.5" fill="#d8d8d8"/>
<rect x="409.24" y="194.20" width="4.2" height="4.5" fill="#dc8a8d"/>
<rect x="414.16" y="194.20" width="4.2" height="4.5" fill="#d8d8d8"/>
<rect x="419.09" y="194.20" width="4.2" height="4.5" fill="#d8d8d8"/>
<rect x="424.02" y="194.20" width="4.2" height="4.5" fill="#dc8a8d"/>
<rect x="428.94" y="194.20" width="4.2" height="4.5" fill="#d8d8d8"/>
<rect x="433.87" y="194.20" width="4.2" height="4.5" fill="#d8d8d8"/>
<rect x="438.79" y="194.20" width="4.2" height="4.5" fill="#d8d8d8"/>
<text transform="translate(73.00,198.30) scale(1.018,1)" font-size="4.8" fill="#5e5e5e" font-style="italic" >BRD2*</text>
<rect x="443.8" y="194.20" width="1.25" height="4.5" fill="#938a52"/>
<rect x="479.6" y="194.20" width="0.92" height="4.5" fill="#5f8cc7"/>
<text transform="translate(466.30,198.20)" font-size="5.0" fill="#222" >5.2%</text>
<text transform="translate(501.30,198.20)" font-size="5.0" fill="#222" >3.6%</text>
<rect x="98.90" y="200.50" width="4.2" height="4.5" fill="#d8d8d8"/>
<rect x="103.83" y="200.50" width="4.2" height="4.5" fill="#d8d8d8"/>
<rect x="108.75" y="200.50" width="4.2" height="4.5" fill="#8a8046"/>
<rect x="113.68" y="200.50" width="4.2" height="4.5" fill="#d8d8d8"/>
<rect x="118.60" y="200.50" width="4.2" height="4.5" fill="#d8d8d8"/>
<rect x="123.53" y="200.50" width="4.2" height="4.5" fill="#d8d8d8"/>
<rect x="128.46" y="200.50" width="4.2" height="4.5" fill="#dc8a8d"/>
<rect x="133.38" y="200.50" width="4.2" height="4.5" fill="#d8d8d8"/>
<rect x="138.31" y="200.50" width="4.2" height="4.5" fill="#d8d8d8"/>
<rect x="143.23" y="200.50" width="4.2" height="4.5" fill="#d8d8d8"/>
<rect x="148.16" y="200.50" width="4.2" height="4.5" fill="#d8d8d8"/>
<rect x="153.09" y="200.50" width="4.2" height="4.5" fill="#d8d8d8"/>
<rect x="158.01" y="200.50" width="4.2" height="4.5" fill="#d8d8d8"/>
<rect x="162.94" y="200.50" width="4.2" height="4.5" fill="#8a8046"/>
<rect x="167.86" y="200.50" width="4.2" height="4.5" fill="#d8d8d8"/>
<rect x="172.79" y="200.50" width="4.2" height="4.5" fill="#d8d8d8"/>
<rect x="177.72" y="200.50" width="4.2" height="4.5" fill="#d8d8d8"/>
<rect x="182.64" y="200.50" width="4.2" height="4.5" fill="#8cbb4c"/>
<rect x="187.57" y="200.50" width="4.2" height="4.5" fill="#d8d8d8"/>
<rect x="192.49" y="200.50" width="4.2" height="4.5" fill="#d8d8d8"/>
<rect x="197.42" y="200.50" width="4.2" height="4.5" fill="#d8d8d8"/>
<rect x="202.35" y="200.50" width="4.2" height="4.5" fill="#d8d8d8"/>
<rect x="207.27" y="200.50" width="4.2" height="4.5" fill="#d8d8d8"/>
<rect x="212.20" y="200.50" width="4.2" height="4.5" fill="#d8d8d8"/>
<rect x="217.12" y="200.50" width="4.2" height="4.5" fill="#d8d8d8"/>
<rect x="222.05" y="200.50" width="4.2" height="4.5" fill="#d8d8d8"/>
<rect x="226.98" y="200.50" width="4.2" height="4.5" fill="#d8d8d8"/>
<rect x="231.90" y="200.50" width="4.2" height="4.5" fill="#d8d8d8"/>
<rect x="236.83" y="200.50" width="4.2" height="4.5" fill="#d8d8d8"/>
<rect x="241.75" y="200.50" width="4.2" height="4.5" fill="#d8d8d8"/>
<rect x="246.68" y="200.50" width="4.2" height="4.5" fill="#d8d8d8"/>
<rect x="251.61" y="200.50" width="4.2" height="4.5" fill="#d8d8d8"/>
<rect x="256.53" y="200.50" width="4.2" height="4.5" fill="#d8d8d8"/>
<rect x="261.46" y="200.50" width="4.2" height="4.5" fill="#d8d8d8"/>
<rect x="266.38" y="200.50" width="4.2" height="4.5" fill="#d8d8d8"/>
<rect x="271.31" y="200.50" width="4.2" height="4.5" fill="#d8d8d8"/>
<rect x="276.24" y="200.50" width="4.2" height="4.5" fill="#d8d8d8"/>
<rect x="281.16" y="200.50" width="4.2" height="4.5" fill="#d8d8d8"/>
<rect x="286.09" y="200.50" width="4.2" height="4.5" fill="#d8d8d8"/>
<rect x="291.01" y="200.50" width="4.2" height="4.5" fill="#d8d8d8"/>
<rect x="295.94" y="200.50" width="4.2" height="4.5" fill="#d8d8d8"/>
<rect x="300.87" y="200.50" width="4.2" height="4.5" fill="#d8d8d8"/>
<rect x="305.79" y="200.50" width="4.2" height="4.5" fill="#d8d8d8"/>
<rect x="310.72" y="200.50" width="4.2" height="4.5" fill="#d8d8d8"/>
<rect x="315.64" y="200.50" width="4.2" height="4.5" fill="#d8d8d8"/>
<rect x="320.57" y="200.50" width="4.2" height="4.5" fill="#d8d8d8"/>
<rect x="325.50" y="200.50" width="4.2" height="4.5" fill="#d8d8d8"/>
<rect x="330.42" y="200.50" width="4.2" height="4.5" fill="#d8d8d8"/>
<rect x="335.35" y="200.50" width="4.2" height="4.5" fill="#d8d8d8"/>
<rect x="340.27" y="200.50" width="4.2" height="4.5" fill="#d8d8d8"/>
<rect x="345.20" y="200.50" width="4.2" height="4.5" fill="#d8d8d8"/>
<rect x="350.13" y="200.50" width="4.2" height="4.5" fill="#d8d8d8"/>
<rect x="355.05" y="200.50" width="4.2" height="4.5" fill="#d8d8d8"/>
<rect x="359.98" y="200.50" width="4.2" height="4.5" fill="#d8d8d8"/>
<rect x="364.90" y="200.50" width="4.2" height="4.5" fill="#d8d8d8"/>
<rect x="369.83" y="200.50" width="4.2" height="4.5" fill="#d8d8d8"/>
<rect x="374.76" y="200.50" width="4.2" height="4.5" fill="#d8d8d8"/>
<rect x="379.68" y="200.50" width="4.2" height="4.5" fill="#d8d8d8"/>
<rect x="384.61" y="200.50" width="4.2" height="4.5" fill="#d8d8d8"/>
<rect x="389.53" y="200.50" width="4.2" height="4.5" fill="#dc8a8d"/>
<rect x="394.46" y="200.50" width="4.2" height="4.5" fill="#d8d8d8"/>
<rect x="399.39" y="200.50" width="4.2" height="4.5" fill="#d8d8d8"/>
<rect x="404.31" y="200.50" width="4.2" height="4.5" fill="#d8d8d8"/>
<rect x="409.24" y="200.50" width="4.2" height="4.5" fill="#d8d8d8"/>
<rect x="414.16" y="200.50" width="4.2" height="4.5" fill="#d8d8d8"/>
<rect x="419.09" y="200.50" width="4.2" height="4.5" fill="#d8d8d8"/>
<rect x="424.02" y="200.50" width="4.2" height="4.5" fill="#d8d8d8"/>
<rect x="428.94" y="200.50" width="4.2" height="4.5" fill="#d8d8d8"/>
<rect x="433.87" y="200.50" width="4.2" height="4.5" fill="#d8d8d8"/>
<rect x="438.79" y="200.50" width="4.2" height="4.5" fill="#d8d8d8"/>
<text transform="translate(73.00,204.60) scale(0.939,1)" font-size="4.8" fill="#5e5e5e" font-style="italic" >DDX11</text>
<rect x="443.8" y="200.50" width="1.25" height="4.5" fill="#938a52"/>
<rect x="479.6" y="200.50" width="2.73" height="4.5" fill="#5f8cc7"/>
<text transform="translate(466.30,204.50)" font-size="5.0" fill="#222" >5.2%</text>
<text transform="translate(498.53,204.50)" font-size="5.0" fill="#222" >10.7%</text>
<rect x="98.90" y="206.20" width="4.2" height="4.5" fill="#d8d8d8"/>
<rect x="103.83" y="206.20" width="4.2" height="4.5" fill="#d8d8d8"/>
<rect x="108.75" y="206.20" width="4.2" height="4.5" fill="#d8d8d8"/>
<rect x="113.68" y="206.20" width="4.2" height="4.5" fill="#d8d8d8"/>
<rect x="118.60" y="206.20" width="4.2" height="4.5" fill="#d8d8d8"/>
<rect x="123.53" y="206.20" width="4.2" height="4.5" fill="#dc8a8d"/>
<rect x="128.46" y="206.20" width="4.2" height="4.5" fill="#d8d8d8"/>
<rect x="133.38" y="206.20" width="4.2" height="4.5" fill="#d8d8d8"/>
<rect x="138.31" y="206.20" width="4.2" height="4.5" fill="#d8d8d8"/>
<rect x="143.23" y="206.20" width="4.2" height="4.5" fill="#d8d8d8"/>
<rect x="148.16" y="206.20" width="4.2" height="4.5" fill="#d8d8d8"/>
<rect x="153.09" y="206.20" width="4.2" height="4.5" fill="#d8d8d8"/>
<rect x="158.01" y="206.20" width="4.2" height="4.5" fill="#d8d8d8"/>
<rect x="162.94" y="206.20" width="4.2" height="4.5" fill="#dc8a8d"/>
<rect x="167.86" y="206.20" width="4.2" height="4.5" fill="#d8d8d8"/>
<rect x="172.79" y="206.20" width="4.2" height="4.5" fill="#d8d8d8"/>
<rect x="177.72" y="206.20" width="4.2" height="4.5" fill="#d8d8d8"/>
<rect x="182.64" y="206.20" width="4.2" height="4.5" fill="#d8d8d8"/>
<rect x="187.57" y="206.20" width="4.2" height="4.5" fill="#d8d8d8"/>
<rect x="192.49" y="206.20" width="4.2" height="4.5" fill="#d8d8d8"/>
<rect x="197.42" y="206.20" width="4.2" height="4.5" fill="#d8d8d8"/>
<rect x="202.35" y="206.20" width="4.2" height="4.5" fill="#d8d8d8"/>
<rect x="207.27" y="206.20" width="4.2" height="4.5" fill="#d8d8d8"/>
<rect x="212.20" y="206.20" width="4.2" height="4.5" fill="#d8d8d8"/>
<rect x="217.12" y="206.20" width="4.2" height="4.5" fill="#d8d8d8"/>
<rect x="222.05" y="206.20" width="4.2" height="4.5" fill="#d8d8d8"/>
<rect x="226.98" y="206.20" width="4.2" height="4.5" fill="#d8d8d8"/>
<rect x="231.90" y="206.20" width="4.2" height="4.5" fill="#d8d8d8"/>
<rect x="236.83" y="206.20" width="4.2" height="4.5" fill="#d8d8d8"/>
<rect x="241.75" y="206.20" width="4.2" height="4.5" fill="#d8d8d8"/>
<rect x="246.68" y="206.20" width="4.2" height="4.5" fill="#d8d8d8"/>
<rect x="251.61" y="206.20" width="4.2" height="4.5" fill="#d8d8d8"/>
<rect x="256.53" y="206.20" width="4.2" height="4.5" fill="#d8d8d8"/>
<rect x="261.46" y="206.20" width="4.2" height="4.5" fill="#d8d8d8"/>
<rect x="266.38" y="206.20" width="4.2" height="4.5" fill="#d8d8d8"/>
<rect x="271.31" y="206.20" width="4.2" height="4.5" fill="#d8d8d8"/>
<rect x="276.24" y="206.20" width="4.2" height="4.5" fill="#d8d8d8"/>
<rect x="281.16" y="206.20" width="4.2" height="4.5" fill="#d8d8d8"/>
<rect x="286.09" y="206.20" width="4.2" height="4.5" fill="#d8d8d8"/>
<rect x="291.01" y="206.20" width="4.2" height="4.5" fill="#d8d8d8"/>
<rect x="295.94" y="206.20" width="4.2" height="4.5" fill="#dc8a8d"/>
<rect x="300.87" y="206.20" width="4.2" height="4.5" fill="#d8d8d8"/>
<rect x="305.79" y="206.20" width="4.2" height="4.5" fill="#d8d8d8"/>
<rect x="310.72" y="206.20" width="4.2" height="4.5" fill="#d8d8d8"/>
<rect x="315.64" y="206.20" width="4.2" height="4.5" fill="#dc8a8d"/>
<rect x="320.57" y="206.20" width="4.2" height="4.5" fill="#d8d8d8"/>
<rect x="325.50" y="206.20" width="4.2" height="4.5" fill="#d8d8d8"/>
<rect x="330.42" y="206.20" width="4.2" height="4.5" fill="#dc8a8d"/>
<rect x="335.35" y="206.20" width="4.2" height="4.5" fill="#d8d8d8"/>
<rect x="340.27" y="206.20" width="4.2" height="4.5" fill="#dc8a8d"/>
<rect x="345.20" y="206.20" width="4.2" height="4.5" fill="#d8d8d8"/>
<rect x="350.13" y="206.20" width="4.2" height="4.5" fill="#d8d8d8"/>
<rect x="355.05" y="206.20" width="4.2" height="4.5" fill="#d8d8d8"/>
<rect x="359.98" y="206.20" width="4.2" height="4.5" fill="#d8d8d8"/>
<rect x="364.90" y="206.20" width="4.2" height="4.5" fill="#d8d8d8"/>
<rect x="369.83" y="206.20" width="4.2" height="4.5" fill="#d8d8d8"/>
<rect x="374.76" y="206.20" width="4.2" height="4.5" fill="#d8d8d8"/>
<rect x="379.68" y="206.20" width="4.2" height="4.5" fill="#d8d8d8"/>
<rect x="384.61" y="206.20" width="4.2" height="4.5" fill="#d8d8d8"/>
<rect x="389.53" y="206.20" width="4.2" height="4.5" fill="#d8d8d8"/>
<rect x="394.46" y="206.20" width="4.2" height="4.5" fill="#d8d8d8"/>
<rect x="399.39" y="206.20" width="4.2" height="4.5" fill="#d8d8d8"/>
<rect x="404.31" y="206.20" width="4.2" height="4.5" fill="#d8d8d8"/>
<rect x="409.24" y="206.20" width="4.2" height="4.5" fill="#d8d8d8"/>
<rect x="414.16" y="206.20" width="4.2" height="4.5" fill="#d8d8d8"/>
<rect x="419.09" y="206.20" width="4.2" height="4.5" fill="#d8d8d8"/>
<rect x="424.02" y="206.20" width="4.2" height="4.5" fill="#d8d8d8"/>
<rect x="428.94" y="206.20" width="4.2" height="4.5" fill="#d8d8d8"/>
<rect x="433.87" y="206.20" width="4.2" height="4.5" fill="#d8d8d8"/>
<rect x="438.79" y="206.20" width="4.2" height="4.5" fill="#d8d8d8"/>
<text transform="translate(73.00,210.30) scale(0.937,1)" font-size="4.8" fill="#5e5e5e" font-style="italic" >PLCD1</text>
<rect x="443.8" y="206.20" width="2.47" height="4.5" fill="#938a52"/>
<rect x="479.6" y="206.20" width="4.56" height="4.5" fill="#5f8cc7"/>
<text transform="translate(463.52,210.20)" font-size="5.0" fill="#222" >10.3%</text>
<text transform="translate(498.53,210.20)" font-size="5.0" fill="#222" >17.9%</text>
<rect x="98.90" y="212.10" width="4.2" height="4.5" fill="#d8d8d8"/>
<rect x="103.83" y="212.10" width="4.2" height="4.5" fill="#d8d8d8"/>
<rect x="108.75" y="212.10" width="4.2" height="4.5" fill="#d8d8d8"/>
<rect x="113.68" y="212.10" width="4.2" height="4.5" fill="#d8d8d8"/>
<rect x="118.60" y="212.10" width="4.2" height="4.5" fill="#d8d8d8"/>
<rect x="123.53" y="212.10" width="4.2" height="4.5" fill="#d8d8d8"/>
<rect x="128.46" y="212.10" width="4.2" height="4.5" fill="#d8d8d8"/>
<rect x="133.38" y="212.10" width="4.2" height="4.5" fill="#d8d8d8"/>
<rect x="138.31" y="212.10" width="4.2" height="4.5" fill="#d8d8d8"/>
<rect x="143.23" y="212.10" width="4.2" height="4.5" fill="#d8d8d8"/>
<rect x="148.16" y="212.10" width="4.2" height="4.5" fill="#d8d8d8"/>
<rect x="153.09" y="212.10" width="4.2" height="4.5" fill="#d8d8d8"/>
<rect x="158.01" y="212.10" width="4.2" height="4.5" fill="#dc8a8d"/>
<rect x="162.94" y="212.10" width="4.2" height="4.5" fill="#8a8046"/>
<rect x="167.86" y="212.10" width="4.2" height="4.5" fill="#d8d8d8"/>
<rect x="172.79" y="212.10" width="4.2" height="4.5" fill="#d8d8d8"/>
<rect x="177.72" y="212.10" width="4.2" height="4.5" fill="#dc8a8d"/>
<rect x="182.64" y="212.10" width="4.2" height="4.5" fill="#d8d8d8"/>
<rect x="187.57" y="212.10" width="4.2" height="4.5" fill="#d8d8d8"/>
<rect x="192.49" y="212.10" width="4.2" height="4.5" fill="#d8d8d8"/>
<rect x="197.42" y="212.10" width="4.2" height="4.5" fill="#d8d8d8"/>
<rect x="202.35" y="212.10" width="4.2" height="4.5" fill="#d8d8d8"/>
<rect x="207.27" y="212.10" width="4.2" height="4.5" fill="#d8d8d8"/>
<rect x="212.20" y="212.10" width="4.2" height="4.5" fill="#d8d8d8"/>
<rect x="217.12" y="212.10" width="4.2" height="4.5" fill="#d8d8d8"/>
<rect x="222.05" y="212.10" width="4.2" height="4.5" fill="#d8d8d8"/>
<rect x="226.98" y="212.10" width="4.2" height="4.5" fill="#d8d8d8"/>
<rect x="231.90" y="212.10" width="4.2" height="4.5" fill="#d8d8d8"/>
<rect x="236.83" y="212.10" width="4.2" height="4.5" fill="#d8d8d8"/>
<rect x="241.75" y="212.10" width="4.2" height="4.5" fill="#d8d8d8"/>
<rect x="246.68" y="212.10" width="4.2" height="4.5" fill="#d8d8d8"/>
<rect x="251.61" y="212.10" width="4.2" height="4.5" fill="#d8d8d8"/>
<rect x="256.53" y="212.10" width="4.2" height="4.5" fill="#d8d8d8"/>
<rect x="261.46" y="212.10" width="4.2" height="4.5" fill="#d8d8d8"/>
<rect x="266.38" y="212.10" width="4.2" height="4.5" fill="#d8d8d8"/>
<rect x="271.31" y="212.10" width="4.2" height="4.5" fill="#d8d8d8"/>
<rect x="276.24" y="212.10" width="4.2" height="4.5" fill="#d8d8d8"/>
<rect x="281.16" y="212.10" width="4.2" height="4.5" fill="#d8d8d8"/>
<rect x="286.09" y="212.10" width="4.2" height="4.5" fill="#d8d8d8"/>
<rect x="291.01" y="212.10" width="4.2" height="4.5" fill="#d8d8d8"/>
<rect x="295.94" y="212.10" width="4.2" height="4.5" fill="#d8d8d8"/>
<rect x="300.87" y="212.10" width="4.2" height="4.5" fill="#d8d8d8"/>
<rect x="305.79" y="212.10" width="4.2" height="4.5" fill="#d8d8d8"/>
<rect x="310.72" y="212.10" width="4.2" height="4.5" fill="#d8d8d8"/>
<rect x="315.64" y="212.10" width="4.2" height="4.5" fill="#d8d8d8"/>
<rect x="320.57" y="212.10" width="4.2" height="4.5" fill="#d8d8d8"/>
<rect x="325.50" y="212.10" width="4.2" height="4.5" fill="#dc8a8d"/>
<rect x="330.42" y="212.10" width="4.2" height="4.5" fill="#d8d8d8"/>
<rect x="335.35" y="212.10" width="4.2" height="4.5" fill="#dc8a8d"/>
<rect x="340.27" y="212.10" width="4.2" height="4.5" fill="#d8d8d8"/>
<rect x="345.20" y="212.10" width="4.2" height="4.5" fill="#dc8a8d"/>
<rect x="350.13" y="212.10" width="4.2" height="4.5" fill="#d8d8d8"/>
<rect x="355.05" y="212.10" width="4.2" height="4.5" fill="#d8d8d8"/>
<rect x="359.98" y="212.10" width="4.2" height="4.5" fill="#d8d8d8"/>
<rect x="364.90" y="212.10" width="4.2" height="4.5" fill="#d8d8d8"/>
<rect x="369.83" y="212.10" width="4.2" height="4.5" fill="#d8d8d8"/>
<rect x="374.76" y="212.10" width="4.2" height="4.5" fill="#d8d8d8"/>
<rect x="379.68" y="212.10" width="4.2" height="4.5" fill="#d8d8d8"/>
<rect x="384.61" y="212.10" width="4.2" height="4.5" fill="#d8d8d8"/>
<rect x="389.53" y="212.10" width="4.2" height="4.5" fill="#d8d8d8"/>
<rect x="394.46" y="212.10" width="4.2" height="4.5" fill="#d8d8d8"/>
<rect x="399.39" y="212.10" width="4.2" height="4.5" fill="#d8d8d8"/>
<rect x="404.31" y="212.10" width="4.2" height="4.5" fill="#d8d8d8"/>
<rect x="409.24" y="212.10" width="4.2" height="4.5" fill="#d8d8d8"/>
<rect x="414.16" y="212.10" width="4.2" height="4.5" fill="#d8d8d8"/>
<rect x="419.09" y="212.10" width="4.2" height="4.5" fill="#d8d8d8"/>
<rect x="424.02" y="212.10" width="4.2" height="4.5" fill="#d8d8d8"/>
<rect x="428.94" y="212.10" width="4.2" height="4.5" fill="#d8d8d8"/>
<rect x="433.87" y="212.10" width="4.2" height="4.5" fill="#d8d8d8"/>
<rect x="438.79" y="212.10" width="4.2" height="4.5" fill="#d8d8d8"/>
<text transform="translate(73.00,216.20) scale(0.968,1)" font-size="4.8" fill="#5e5e5e" font-style="italic" >RELN</text>
<rect x="443.8" y="212.10" width="2.47" height="4.5" fill="#938a52"/>
<rect x="479.6" y="212.10" width="3.65" height="4.5" fill="#5f8cc7"/>
<text transform="translate(463.52,216.10)" font-size="5.0" fill="#222" >10.3%</text>
<text transform="translate(498.53,216.10)" font-size="5.0" fill="#222" >14.3%</text>
<rect x="98.90" y="217.80" width="4.2" height="4.5" fill="#d8d8d8"/>
<rect x="103.83" y="217.80" width="4.2" height="4.5" fill="#d8d8d8"/>
<rect x="108.75" y="217.80" width="4.2" height="4.5" fill="#d8d8d8"/>
<rect x="113.68" y="217.80" width="4.2" height="4.5" fill="#d8d8d8"/>
<rect x="118.60" y="217.80" width="4.2" height="4.5" fill="#d8d8d8"/>
<rect x="123.53" y="217.80" width="4.2" height="4.5" fill="#d8d8d8"/>
<rect x="128.46" y="217.80" width="4.2" height="4.5" fill="#d8d8d8"/>
<rect x="133.38" y="217.80" width="4.2" height="4.5" fill="#d8d8d8"/>
<rect x="138.31" y="217.80" width="4.2" height="4.5" fill="#d8d8d8"/>
<rect x="143.23" y="217.80" width="4.2" height="4.5" fill="#d8d8d8"/>
<rect x="148.16" y="217.80" width="4.2" height="4.5" fill="#d8d8d8"/>
<rect x="153.09" y="217.80" width="4.2" height="4.5" fill="#d8d8d8"/>
<rect x="158.01" y="217.80" width="4.2" height="4.5" fill="#dc8a8d"/>
<rect x="162.94" y="217.80" width="4.2" height="4.5" fill="#d8d8d8"/>
<rect x="167.86" y="217.80" width="4.2" height="4.5" fill="#d8d8d8"/>
<rect x="172.79" y="217.80" width="4.2" height="4.5" fill="#d8d8d8"/>
<rect x="177.72" y="217.80" width="4.2" height="4.5" fill="#d8d8d8"/>
<rect x="182.64" y="217.80" width="4.2" height="4.5" fill="#d8d8d8"/>
<rect x="187.57" y="217.80" width="4.2" height="4.5" fill="#dc8a8d"/>
<rect x="192.49" y="217.80" width="4.2" height="4.5" fill="#d8d8d8"/>
<rect x="197.42" y="217.80" width="4.2" height="4.5" fill="#d8d8d8"/>
<rect x="202.35" y="217.80" width="4.2" height="4.5" fill="#d8d8d8"/>
<rect x="207.27" y="217.80" width="4.2" height="4.5" fill="#d8d8d8"/>
<rect x="212.20" y="217.80" width="4.2" height="4.5" fill="#d8d8d8"/>
<rect x="217.12" y="217.80" width="4.2" height="4.5" fill="#d8d8d8"/>
<rect x="222.05" y="217.80" width="4.2" height="4.5" fill="#d8d8d8"/>
<rect x="226.98" y="217.80" width="4.2" height="4.5" fill="#d8d8d8"/>
<rect x="231.90" y="217.80" width="4.2" height="4.5" fill="#d8d8d8"/>
<rect x="236.83" y="217.80" width="4.2" height="4.5" fill="#d8d8d8"/>
<rect x="241.75" y="217.80" width="4.2" height="4.5" fill="#d8d8d8"/>
<rect x="246.68" y="217.80" width="4.2" height="4.5" fill="#d8d8d8"/>
<rect x="251.61" y="217.80" width="4.2" height="4.5" fill="#d8d8d8"/>
<rect x="256.53" y="217.80" width="4.2" height="4.5" fill="#d8d8d8"/>
<rect x="261.46" y="217.80" width="4.2" height="4.5" fill="#d8d8d8"/>
<rect x="266.38" y="217.80" width="4.2" height="4.5" fill="#d8d8d8"/>
<rect x="271.31" y="217.80" width="4.2" height="4.5" fill="#d8d8d8"/>
<rect x="276.24" y="217.80" width="4.2" height="4.5" fill="#d8d8d8"/>
<rect x="281.16" y="217.80" width="4.2" height="4.5" fill="#d8d8d8"/>
<rect x="286.09" y="217.80" width="4.2" height="4.5" fill="#d8d8d8"/>
<rect x="291.01" y="217.80" width="4.2" height="4.5" fill="#d8d8d8"/>
<rect x="295.94" y="217.80" width="4.2" height="4.5" fill="#d8d8d8"/>
<rect x="300.87" y="217.80" width="4.2" height="4.5" fill="#d8d8d8"/>
<rect x="305.79" y="217.80" width="4.2" height="4.5" fill="#d8d8d8"/>
<rect x="310.72" y="217.80" width="4.2" height="4.5" fill="#d8d8d8"/>
<rect x="315.64" y="217.80" width="4.2" height="4.5" fill="#3fa3c8"/>
<rect x="320.57" y="217.80" width="4.2" height="4.5" fill="#d8d8d8"/>
<rect x="325.50" y="217.80" width="4.2" height="4.5" fill="#d8d8d8"/>
<rect x="330.42" y="217.80" width="4.2" height="4.5" fill="#d8d8d8"/>
<rect x="335.35" y="217.80" width="4.2" height="4.5" fill="#dc8a8d"/>
<rect x="340.27" y="217.80" width="4.2" height="4.5" fill="#d8d8d8"/>
<rect x="345.20" y="217.80" width="4.2" height="4.5" fill="#d8d8d8"/>
<rect x="350.13" y="217.80" width="4.2" height="4.5" fill="#d8d8d8"/>
<rect x="355.05" y="217.80" width="4.2" height="4.5" fill="#d8d8d8"/>
<rect x="359.98" y="217.80" width="4.2" height="4.5" fill="#d8d8d8"/>
<rect x="364.90" y="217.80" width="4.2" height="4.5" fill="#d8d8d8"/>
<rect x="369.83" y="217.80" width="4.2" height="4.5" fill="#d8d8d8"/>
<rect x="374.76" y="217.80" width="4.2" height="4.5" fill="#d8d8d8"/>
<rect x="379.68" y="217.80" width="4.2" height="4.5" fill="#d8d8d8"/>
<rect x="384.61" y="217.80" width="4.2" height="4.5" fill="#d8d8d8"/>
<rect x="389.53" y="217.80" width="4.2" height="4.5" fill="#d8d8d8"/>
<rect x="394.46" y="217.80" width="4.2" height="4.5" fill="#dc8a8d"/>
<rect x="399.39" y="217.80" width="4.2" height="4.5" fill="#dc8a8d"/>
<rect x="404.31" y="217.80" width="4.2" height="4.5" fill="#d8d8d8"/>
<rect x="409.24" y="217.80" width="4.2" height="4.5" fill="#d8d8d8"/>
<rect x="414.16" y="217.80" width="4.2" height="4.5" fill="#d8d8d8"/>
<rect x="419.09" y="217.80" width="4.2" height="4.5" fill="#d8d8d8"/>
<rect x="424.02" y="217.80" width="4.2" height="4.5" fill="#d8d8d8"/>
<rect x="428.94" y="217.80" width="4.2" height="4.5" fill="#d8d8d8"/>
<rect x="433.87" y="217.80" width="4.2" height="4.5" fill="#d8d8d8"/>
<rect x="438.79" y="217.80" width="4.2" height="4.5" fill="#d8d8d8"/>
<text transform="translate(73.00,221.90) scale(0.921,1)" font-size="4.8" fill="#5e5e5e" font-style="italic" >PREX2</text>
<rect x="443.8" y="217.80" width="1.66" height="4.5" fill="#938a52"/>
<rect x="479.6" y="217.80" width="1.81" height="4.5" fill="#5f8cc7"/>
<text transform="translate(466.30,221.80)" font-size="5.0" fill="#222" >6.9%</text>
<text transform="translate(501.30,221.80)" font-size="5.0" fill="#222" >7.1%</text>
<rect x="98.90" y="223.70" width="4.2" height="4.5" fill="#d8d8d8"/>
<rect x="103.83" y="223.70" width="4.2" height="4.5" fill="#d8d8d8"/>
<rect x="108.75" y="223.70" width="4.2" height="4.5" fill="#d8d8d8"/>
<rect x="113.68" y="223.70" width="4.2" height="4.5" fill="#d8d8d8"/>
<rect x="118.60" y="223.70" width="4.2" height="4.5" fill="#d8d8d8"/>
<rect x="123.53" y="223.70" width="4.2" height="4.5" fill="#d8d8d8"/>
<rect x="128.46" y="223.70" width="4.2" height="4.5" fill="#d8d8d8"/>
<rect x="133.38" y="223.70" width="4.2" height="4.5" fill="#d8d8d8"/>
<rect x="138.31" y="223.70" width="4.2" height="4.5" fill="#d8d8d8"/>
<rect x="143.23" y="223.70" width="4.2" height="4.5" fill="#d8d8d8"/>
<rect x="148.16" y="223.70" width="4.2" height="4.5" fill="#d8d8d8"/>
<rect x="153.09" y="223.70" width="4.2" height="4.5" fill="#d8d8d8"/>
<rect x="158.01" y="223.70" width="4.2" height="4.5" fill="#d8d8d8"/>
<rect x="162.94" y="223.70" width="4.2" height="4.5" fill="#8a8046"/>
<rect x="167.86" y="223.70" width="4.2" height="4.5" fill="#d8d8d8"/>
<rect x="172.79" y="223.70" width="4.2" height="4.5" fill="#d8d8d8"/>
<rect x="177.72" y="223.70" width="4.2" height="4.5" fill="#d8d8d8"/>
<rect x="182.64" y="223.70" width="4.2" height="4.5" fill="#d8d8d8"/>
<rect x="187.57" y="223.70" width="4.2" height="4.5" fill="#d8d8d8"/>
<rect x="192.49" y="223.70" width="4.2" height="4.5" fill="#d8d8d8"/>
<rect x="197.42" y="223.70" width="4.2" height="4.5" fill="#d8d8d8"/>
<rect x="202.35" y="223.70" width="4.2" height="4.5" fill="#d8d8d8"/>
<rect x="207.27" y="223.70" width="4.2" height="4.5" fill="#d8d8d8"/>
<rect x="212.20" y="223.70" width="4.2" height="4.5" fill="#d8d8d8"/>
<rect x="217.12" y="223.70" width="4.2" height="4.5" fill="#d8d8d8"/>
<rect x="222.05" y="223.70" width="4.2" height="4.5" fill="#d8d8d8"/>
<rect x="226.98" y="223.70" width="4.2" height="4.5" fill="#d8d8d8"/>
<rect x="231.90" y="223.70" width="4.2" height="4.5" fill="#d8d8d8"/>
<rect x="236.83" y="223.70" width="4.2" height="4.5" fill="#d8d8d8"/>
<rect x="241.75" y="223.70" width="4.2" height="4.5" fill="#d8d8d8"/>
<rect x="246.68" y="223.70" width="4.2" height="4.5" fill="#d8d8d8"/>
<rect x="251.61" y="223.70" width="4.2" height="4.5" fill="#d8d8d8"/>
<rect x="256.53" y="223.70" width="4.2" height="4.5" fill="#d8d8d8"/>
<rect x="261.46" y="223.70" width="4.2" height="4.5" fill="#d8d8d8"/>
<rect x="266.38" y="223.70" width="4.2" height="4.5" fill="#d8d8d8"/>
<rect x="271.31" y="223.70" width="4.2" height="4.5" fill="#d8d8d8"/>
<rect x="276.24" y="223.70" width="4.2" height="4.5" fill="#d8d8d8"/>
<rect x="281.16" y="223.70" width="4.2" height="4.5" fill="#d8d8d8"/>
<rect x="286.09" y="223.70" width="4.2" height="4.5" fill="#d8d8d8"/>
<rect x="291.01" y="223.70" width="4.2" height="4.5" fill="#d8d8d8"/>
<rect x="295.94" y="223.70" width="4.2" height="4.5" fill="#d8d8d8"/>
<rect x="300.87" y="223.70" width="4.2" height="4.5" fill="#f5913c"/>
<rect x="305.79" y="223.70" width="4.2" height="4.5" fill="#d8d8d8"/>
<rect x="310.72" y="223.70" width="4.2" height="4.5" fill="#d8d8d8"/>
<rect x="315.64" y="223.70" width="4.2" height="4.5" fill="#d8d8d8"/>
<rect x="320.57" y="223.70" width="4.2" height="4.5" fill="#d8d8d8"/>
<rect x="325.50" y="223.70" width="4.2" height="4.5" fill="#d8d8d8"/>
<rect x="330.42" y="223.70" width="4.2" height="4.5" fill="#d8d8d8"/>
<rect x="335.35" y="223.70" width="4.2" height="4.5" fill="#d8d8d8"/>
<rect x="340.27" y="223.70" width="4.2" height="4.5" fill="#d8d8d8"/>
<rect x="345.20" y="223.70" width="4.2" height="4.5" fill="#d8d8d8"/>
<rect x="350.13" y="223.70" width="4.2" height="4.5" fill="#d8d8d8"/>
<rect x="355.05" y="223.70" width="4.2" height="4.5" fill="#dc8a8d"/>
<rect x="359.98" y="223.70" width="4.2" height="4.5" fill="#dc8a8d"/>
<rect x="364.90" y="223.70" width="4.2" height="4.5" fill="#d8d8d8"/>
<rect x="369.83" y="223.70" width="4.2" height="4.5" fill="#d8d8d8"/>
<rect x="374.76" y="223.70" width="4.2" height="4.5" fill="#d8d8d8"/>
<rect x="379.68" y="223.70" width="4.2" height="4.5" fill="#d8d8d8"/>
<rect x="384.61" y="223.70" width="4.2" height="4.5" fill="#d8d8d8"/>
<rect x="389.53" y="223.70" width="4.2" height="4.5" fill="#d8d8d8"/>
<rect x="394.46" y="223.70" width="4.2" height="4.5" fill="#d8d8d8"/>
<rect x="399.39" y="223.70" width="4.2" height="4.5" fill="#d8d8d8"/>
<rect x="404.31" y="223.70" width="4.2" height="4.5" fill="#d8d8d8"/>
<rect x="409.24" y="223.70" width="4.2" height="4.5" fill="#d8d8d8"/>
<rect x="414.16" y="223.70" width="4.2" height="4.5" fill="#d8d8d8"/>
<rect x="419.09" y="223.70" width="4.2" height="4.5" fill="#d8d8d8"/>
<rect x="424.02" y="223.70" width="4.2" height="4.5" fill="#d8d8d8"/>
<rect x="428.94" y="223.70" width="4.2" height="4.5" fill="#d8d8d8"/>
<rect x="433.87" y="223.70" width="4.2" height="4.5" fill="#d8d8d8"/>
<rect x="438.79" y="223.70" width="4.2" height="4.5" fill="#d8d8d8"/>
<text transform="translate(73.00,227.80) scale(0.960,1)" font-size="4.8" fill="#5e5e5e" font-style="italic" >PPIP5K2</text>
<rect x="443.8" y="223.70" width="1.66" height="4.5" fill="#938a52"/>
<rect x="479.6" y="223.70" width="1.81" height="4.5" fill="#5f8cc7"/>
<text transform="translate(466.30,227.70)" font-size="5.0" fill="#222" >6.9%</text>
<text transform="translate(501.30,227.70)" font-size="5.0" fill="#222" >7.1%</text>
<rect x="98.90" y="230.20" width="4.2" height="4.5" fill="#d8d8d8"/>
<rect x="103.83" y="230.20" width="4.2" height="4.5" fill="#d8d8d8"/>
<rect x="108.75" y="230.20" width="4.2" height="4.5" fill="#d8d8d8"/>
<rect x="113.68" y="230.20" width="4.2" height="4.5" fill="#d8d8d8"/>
<rect x="118.60" y="230.20" width="4.2" height="4.5" fill="#dc8a8d"/>
<rect x="123.53" y="230.20" width="4.2" height="4.5" fill="#d8d8d8"/>
<rect x="128.46" y="230.20" width="4.2" height="4.5" fill="#d8d8d8"/>
<rect x="133.38" y="230.20" width="4.2" height="4.5" fill="#d8d8d8"/>
<rect x="138.31" y="230.20" width="4.2" height="4.5" fill="#d8d8d8"/>
<rect x="143.23" y="230.20" width="4.2" height="4.5" fill="#d8d8d8"/>
<rect x="148.16" y="230.20" width="4.2" height="4.5" fill="#d8d8d8"/>
<rect x="153.09" y="230.20" width="4.2" height="4.5" fill="#d8d8d8"/>
<rect x="158.01" y="230.20" width="4.2" height="4.5" fill="#d8d8d8"/>
<rect x="162.94" y="230.20" width="4.2" height="4.5" fill="#8a8046"/>
<rect x="167.86" y="230.20" width="4.2" height="4.5" fill="#dc8a8d"/>
<rect x="172.79" y="230.20" width="4.2" height="4.5" fill="#d8d8d8"/>
<rect x="177.72" y="230.20" width="4.2" height="4.5" fill="#d8d8d8"/>
<rect x="182.64" y="230.20" width="4.2" height="4.5" fill="#d8d8d8"/>
<rect x="187.57" y="230.20" width="4.2" height="4.5" fill="#d8d8d8"/>
<rect x="192.49" y="230.20" width="4.2" height="4.5" fill="#d8d8d8"/>
<rect x="197.42" y="230.20" width="4.2" height="4.5" fill="#d8d8d8"/>
<rect x="202.35" y="230.20" width="4.2" height="4.5" fill="#dc8a8d"/>
<rect x="207.27" y="230.20" width="4.2" height="4.5" fill="#d8d8d8"/>
<rect x="212.20" y="230.20" width="4.2" height="4.5" fill="#d8d8d8"/>
<rect x="217.12" y="230.20" width="4.2" height="4.5" fill="#d8d8d8"/>
<rect x="222.05" y="230.20" width="4.2" height="4.5" fill="#d8d8d8"/>
<rect x="226.98" y="230.20" width="4.2" height="4.5" fill="#dc8a8d"/>
<rect x="231.90" y="230.20" width="4.2" height="4.5" fill="#d8d8d8"/>
<rect x="236.83" y="230.20" width="4.2" height="4.5" fill="#d8d8d8"/>
<rect x="241.75" y="230.20" width="4.2" height="4.5" fill="#d8d8d8"/>
<rect x="246.68" y="230.20" width="4.2" height="4.5" fill="#d8d8d8"/>
<rect x="251.61" y="230.20" width="4.2" height="4.5" fill="#d8d8d8"/>
<rect x="256.53" y="230.20" width="4.2" height="4.5" fill="#d8d8d8"/>
<rect x="261.46" y="230.20" width="4.2" height="4.5" fill="#d8d8d8"/>
<rect x="266.38" y="230.20" width="4.2" height="4.5" fill="#d8d8d8"/>
<rect x="271.31" y="230.20" width="4.2" height="4.5" fill="#d8d8d8"/>
<rect x="276.24" y="230.20" width="4.2" height="4.5" fill="#d8d8d8"/>
<rect x="281.16" y="230.20" width="4.2" height="4.5" fill="#d8d8d8"/>
<rect x="286.09" y="230.20" width="4.2" height="4.5" fill="#d8d8d8"/>
<rect x="291.01" y="230.20" width="4.2" height="4.5" fill="#d8d8d8"/>
<rect x="295.94" y="230.20" width="4.2" height="4.5" fill="#d8d8d8"/>
<rect x="300.87" y="230.20" width="4.2" height="4.5" fill="#d8d8d8"/>
<rect x="305.79" y="230.20" width="4.2" height="4.5" fill="#d8d8d8"/>
<rect x="310.72" y="230.20" width="4.2" height="4.5" fill="#d8d8d8"/>
<rect x="315.64" y="230.20" width="4.2" height="4.5" fill="#d8d8d8"/>
<rect x="320.57" y="230.20" width="4.2" height="4.5" fill="#d8d8d8"/>
<rect x="325.50" y="230.20" width="4.2" height="4.5" fill="#dc8a8d"/>
<rect x="330.42" y="230.20" width="4.2" height="4.5" fill="#d8d8d8"/>
<rect x="335.35" y="230.20" width="4.2" height="4.5" fill="#d8d8d8"/>
<rect x="340.27" y="230.20" width="4.2" height="4.5" fill="#d8d8d8"/>
<rect x="345.20" y="230.20" width="4.2" height="4.5" fill="#d8d8d8"/>
<rect x="350.13" y="230.20" width="4.2" height="4.5" fill="#d8d8d8"/>
<rect x="355.05" y="230.20" width="4.2" height="4.5" fill="#dc8a8d"/>
<rect x="359.98" y="230.20" width="4.2" height="4.5" fill="#d8d8d8"/>
<rect x="364.90" y="230.20" width="4.2" height="4.5" fill="#d8d8d8"/>
<rect x="369.83" y="230.20" width="4.2" height="4.5" fill="#dc8a8d"/>
<rect x="374.76" y="230.20" width="4.2" height="4.5" fill="#d8d8d8"/>
<rect x="379.68" y="230.20" width="4.2" height="4.5" fill="#d8d8d8"/>
<rect x="384.61" y="230.20" width="4.2" height="4.5" fill="#d8d8d8"/>
<rect x="389.53" y="230.20" width="4.2" height="4.5" fill="#d8d8d8"/>
<rect x="394.46" y="230.20" width="4.2" height="4.5" fill="#d8d8d8"/>
<rect x="399.39" y="230.20" width="4.2" height="4.5" fill="#d8d8d8"/>
<rect x="404.31" y="230.20" width="4.2" height="4.5" fill="#d8d8d8"/>
<rect x="409.24" y="230.20" width="4.2" height="4.5" fill="#d8d8d8"/>
<rect x="414.16" y="230.20" width="4.2" height="4.5" fill="#d8d8d8"/>
<rect x="419.09" y="230.20" width="4.2" height="4.5" fill="#d8d8d8"/>
<rect x="424.02" y="230.20" width="4.2" height="4.5" fill="#d8d8d8"/>
<rect x="428.94" y="230.20" width="4.2" height="4.5" fill="#d8d8d8"/>
<rect x="433.87" y="230.20" width="4.2" height="4.5" fill="#d8d8d8"/>
<rect x="438.79" y="230.20" width="4.2" height="4.5" fill="#d8d8d8"/>
<text transform="translate(73.00,234.30) scale(0.905,1)" font-size="4.8" fill="#5e5e5e" font-style="italic" >NAV3</text>
<rect x="443.8" y="230.20" width="3.31" height="4.5" fill="#938a52"/>
<rect x="479.6" y="230.20" width="3.65" height="4.5" fill="#5f8cc7"/>
<text transform="translate(463.52,234.20)" font-size="5.0" fill="#222" >13.8%</text>
<text transform="translate(498.53,234.20)" font-size="5.0" fill="#222" >14.3%</text>
<rect x="98.90" y="236.00" width="4.2" height="4.5" fill="#d8d8d8"/>
<rect x="103.83" y="236.00" width="4.2" height="4.5" fill="#d8d8d8"/>
<rect x="108.75" y="236.00" width="4.2" height="4.5" fill="#d8d8d8"/>
<rect x="113.68" y="236.00" width="4.2" height="4.5" fill="#d8d8d8"/>
<rect x="118.60" y="236.00" width="4.2" height="4.5" fill="#d8d8d8"/>
<rect x="123.53" y="236.00" width="4.2" height="4.5" fill="#d8d8d8"/>
<rect x="128.46" y="236.00" width="4.2" height="4.5" fill="#d8d8d8"/>
<rect x="133.38" y="236.00" width="4.2" height="4.5" fill="#d8d8d8"/>
<rect x="138.31" y="236.00" width="4.2" height="4.5" fill="#d8d8d8"/>
<rect x="143.23" y="236.00" width="4.2" height="4.5" fill="#d8d8d8"/>
<rect x="148.16" y="236.00" width="4.2" height="4.5" fill="#d8d8d8"/>
<rect x="153.09" y="236.00" width="4.2" height="4.5" fill="#d8d8d8"/>
<rect x="158.01" y="236.00" width="4.2" height="4.5" fill="#d8d8d8"/>
<rect x="162.94" y="236.00" width="4.2" height="4.5" fill="#d8d8d8"/>
<rect x="167.86" y="236.00" width="4.2" height="4.5" fill="#d8d8d8"/>
<rect x="172.79" y="236.00" width="4.2" height="4.5" fill="#d8d8d8"/>
<rect x="177.72" y="236.00" width="4.2" height="4.5" fill="#d8d8d8"/>
<rect x="182.64" y="236.00" width="4.2" height="4.5" fill="#d8d8d8"/>
<rect x="187.57" y="236.00" width="4.2" height="4.5" fill="#d8d8d8"/>
<rect x="192.49" y="236.00" width="4.2" height="4.5" fill="#d8d8d8"/>
<rect x="197.42" y="236.00" width="4.2" height="4.5" fill="#d8d8d8"/>
<rect x="202.35" y="236.00" width="4.2" height="4.5" fill="#d8d8d8"/>
<rect x="207.27" y="236.00" width="4.2" height="4.5" fill="#d8d8d8"/>
<rect x="212.20" y="236.00" width="4.2" height="4.5" fill="#d8d8d8"/>
<rect x="217.12" y="236.00" width="4.2" height="4.5" fill="#d8d8d8"/>
<rect x="222.05" y="236.00" width="4.2" height="4.5" fill="#d8d8d8"/>
<rect x="226.98" y="236.00" width="4.2" height="4.5" fill="#d8d8d8"/>
<rect x="231.90" y="236.00" width="4.2" height="4.5" fill="#d8d8d8"/>
<rect x="236.83" y="236.00" width="4.2" height="4.5" fill="#d8d8d8"/>
<rect x="241.75" y="236.00" width="4.2" height="4.5" fill="#d8d8d8"/>
<rect x="246.68" y="236.00" width="4.2" height="4.5" fill="#d8d8d8"/>
<rect x="251.61" y="236.00" width="4.2" height="4.5" fill="#d8d8d8"/>
<rect x="256.53" y="236.00" width="4.2" height="4.5" fill="#d8d8d8"/>
<rect x="261.46" y="236.00" width="4.2" height="4.5" fill="#d8d8d8"/>
<rect x="266.38" y="236.00" width="4.2" height="4.5" fill="#d8d8d8"/>
<rect x="271.31" y="236.00" width="4.2" height="4.5" fill="#d8d8d8"/>
<rect x="276.24" y="236.00" width="4.2" height="4.5" fill="#d8d8d8"/>
<rect x="281.16" y="236.00" width="4.2" height="4.5" fill="#d8d8d8"/>
<rect x="286.09" y="236.00" width="4.2" height="4.5" fill="#d8d8d8"/>
<rect x="291.01" y="236.00" width="4.2" height="4.5" fill="#d8d8d8"/>
<rect x="295.94" y="236.00" width="4.2" height="4.5" fill="#d8d8d8"/>
<rect x="300.87" y="236.00" width="4.2" height="4.5" fill="#d8d8d8"/>
<rect x="305.79" y="236.00" width="4.2" height="4.5" fill="#d8d8d8"/>
<rect x="310.72" y="236.00" width="4.2" height="4.5" fill="#d8d8d8"/>
<rect x="315.64" y="236.00" width="4.2" height="4.5" fill="#8a8046"/>
<rect x="320.57" y="236.00" width="4.2" height="4.5" fill="#d8d8d8"/>
<rect x="325.50" y="236.00" width="4.2" height="4.5" fill="#8a8046"/>
<rect x="330.42" y="236.00" width="4.2" height="4.5" fill="#d8d8d8"/>
<rect x="335.35" y="236.00" width="4.2" height="4.5" fill="#d8d8d8"/>
<rect x="340.27" y="236.00" width="4.2" height="4.5" fill="#d8d8d8"/>
<rect x="345.20" y="236.00" width="4.2" height="4.5" fill="#d8d8d8"/>
<rect x="350.13" y="236.00" width="4.2" height="4.5" fill="#dc8a8d"/>
<rect x="355.05" y="236.00" width="4.2" height="4.5" fill="#d8d8d8"/>
<rect x="359.98" y="236.00" width="4.2" height="4.5" fill="#dc8a8d"/>
<rect x="364.90" y="236.00" width="4.2" height="4.5" fill="#d8d8d8"/>
<rect x="369.83" y="236.00" width="4.2" height="4.5" fill="#d8d8d8"/>
<rect x="374.76" y="236.00" width="4.2" height="4.5" fill="#d8d8d8"/>
<rect x="379.68" y="236.00" width="4.2" height="4.5" fill="#d8d8d8"/>
<rect x="384.61" y="236.00" width="4.2" height="4.5" fill="#d8d8d8"/>
<rect x="389.53" y="236.00" width="4.2" height="4.5" fill="#d8d8d8"/>
<rect x="394.46" y="236.00" width="4.2" height="4.5" fill="#d8d8d8"/>
<rect x="399.39" y="236.00" width="4.2" height="4.5" fill="#d8d8d8"/>
<rect x="404.31" y="236.00" width="4.2" height="4.5" fill="#d8d8d8"/>
<rect x="409.24" y="236.00" width="4.2" height="4.5" fill="#d8d8d8"/>
<rect x="414.16" y="236.00" width="4.2" height="4.5" fill="#d8d8d8"/>
<rect x="419.09" y="236.00" width="4.2" height="4.5" fill="#d8d8d8"/>
<rect x="424.02" y="236.00" width="4.2" height="4.5" fill="#d8d8d8"/>
<rect x="428.94" y="236.00" width="4.2" height="4.5" fill="#d8d8d8"/>
<rect x="433.87" y="236.00" width="4.2" height="4.5" fill="#d8d8d8"/>
<rect x="438.79" y="236.00" width="4.2" height="4.5" fill="#d8d8d8"/>
<text transform="translate(73.00,240.10) scale(0.944,1)" font-size="4.8" fill="#5e5e5e" font-style="italic" >CLIP1*</text>
<rect x="443.8" y="236.00" width="1.66" height="4.5" fill="#938a52"/>
<rect x="479.6" y="236.00" width="1.81" height="4.5" fill="#5f8cc7"/>
<text transform="translate(466.30,240.00)" font-size="5.0" fill="#222" >6.9%</text>
<text transform="translate(501.30,240.00)" font-size="5.0" fill="#222" >7.1%</text>
<rect x="98.90" y="241.80" width="4.2" height="4.5" fill="#d8d8d8"/>
<rect x="103.83" y="241.80" width="4.2" height="4.5" fill="#d8d8d8"/>
<rect x="108.75" y="241.80" width="4.2" height="4.5" fill="#d8d8d8"/>
<rect x="113.68" y="241.80" width="4.2" height="4.5" fill="#d8d8d8"/>
<rect x="118.60" y="241.80" width="4.2" height="4.5" fill="#d8d8d8"/>
<rect x="123.53" y="241.80" width="4.2" height="4.5" fill="#d8d8d8"/>
<rect x="128.46" y="241.80" width="4.2" height="4.5" fill="#d8d8d8"/>
<rect x="133.38" y="241.80" width="4.2" height="4.5" fill="#d8d8d8"/>
<rect x="138.31" y="241.80" width="4.2" height="4.5" fill="#d8d8d8"/>
<rect x="143.23" y="241.80" width="4.2" height="4.5" fill="#d8d8d8"/>
<rect x="148.16" y="241.80" width="4.2" height="4.5" fill="#d8d8d8"/>
<rect x="153.09" y="241.80" width="4.2" height="4.5" fill="#d8d8d8"/>
<rect x="158.01" y="241.80" width="4.2" height="4.5" fill="#d8d8d8"/>
<rect x="162.94" y="241.80" width="4.2" height="4.5" fill="#8a8046"/>
<rect x="167.86" y="241.80" width="4.2" height="4.5" fill="#dc8a8d"/>
<rect x="172.79" y="241.80" width="4.2" height="4.5" fill="#d8d8d8"/>
<rect x="177.72" y="241.80" width="4.2" height="4.5" fill="#d8d8d8"/>
<rect x="182.64" y="241.80" width="4.2" height="4.5" fill="#d8d8d8"/>
<rect x="187.57" y="241.80" width="4.2" height="4.5" fill="#d8d8d8"/>
<rect x="192.49" y="241.80" width="4.2" height="4.5" fill="#d8d8d8"/>
<rect x="197.42" y="241.80" width="4.2" height="4.5" fill="#d8d8d8"/>
<rect x="202.35" y="241.80" width="4.2" height="4.5" fill="#d8d8d8"/>
<rect x="207.27" y="241.80" width="4.2" height="4.5" fill="#d8d8d8"/>
<rect x="212.20" y="241.80" width="4.2" height="4.5" fill="#d8d8d8"/>
<rect x="217.12" y="241.80" width="4.2" height="4.5" fill="#d8d8d8"/>
<rect x="222.05" y="241.80" width="4.2" height="4.5" fill="#d8d8d8"/>
<rect x="226.98" y="241.80" width="4.2" height="4.5" fill="#d8d8d8"/>
<rect x="231.90" y="241.80" width="4.2" height="4.5" fill="#d8d8d8"/>
<rect x="236.83" y="241.80" width="4.2" height="4.5" fill="#d8d8d8"/>
<rect x="241.75" y="241.80" width="4.2" height="4.5" fill="#d8d8d8"/>
<rect x="246.68" y="241.80" width="4.2" height="4.5" fill="#d8d8d8"/>
<rect x="251.61" y="241.80" width="4.2" height="4.5" fill="#d8d8d8"/>
<rect x="256.53" y="241.80" width="4.2" height="4.5" fill="#d8d8d8"/>
<rect x="261.46" y="241.80" width="4.2" height="4.5" fill="#d8d8d8"/>
<rect x="266.38" y="241.80" width="4.2" height="4.5" fill="#d8d8d8"/>
<rect x="271.31" y="241.80" width="4.2" height="4.5" fill="#d8d8d8"/>
<rect x="276.24" y="241.80" width="4.2" height="4.5" fill="#d8d8d8"/>
<rect x="281.16" y="241.80" width="4.2" height="4.5" fill="#d8d8d8"/>
<rect x="286.09" y="241.80" width="4.2" height="4.5" fill="#d8d8d8"/>
<rect x="291.01" y="241.80" width="4.2" height="4.5" fill="#d8d8d8"/>
<rect x="295.94" y="241.80" width="4.2" height="4.5" fill="#d8d8d8"/>
<rect x="300.87" y="241.80" width="4.2" height="4.5" fill="#d8d8d8"/>
<rect x="305.79" y="241.80" width="4.2" height="4.5" fill="#d8d8d8"/>
<rect x="310.72" y="241.80" width="4.2" height="4.5" fill="#d8d8d8"/>
<rect x="315.64" y="241.80" width="4.2" height="4.5" fill="#d8d8d8"/>
<rect x="320.57" y="241.80" width="4.2" height="4.5" fill="#d8d8d8"/>
<rect x="325.50" y="241.80" width="4.2" height="4.5" fill="#d8d8d8"/>
<rect x="330.42" y="241.80" width="4.2" height="4.5" fill="#d8d8d8"/>
<rect x="335.35" y="241.80" width="4.2" height="4.5" fill="#d8d8d8"/>
<rect x="340.27" y="241.80" width="4.2" height="4.5" fill="#dc8a8d"/>
<rect x="345.20" y="241.80" width="4.2" height="4.5" fill="#dc8a8d"/>
<rect x="350.13" y="241.80" width="4.2" height="4.5" fill="#d8d8d8"/>
<rect x="355.05" y="241.80" width="4.2" height="4.5" fill="#d8d8d8"/>
<rect x="359.98" y="241.80" width="4.2" height="4.5" fill="#d8d8d8"/>
<rect x="364.90" y="241.80" width="4.2" height="4.5" fill="#d8d8d8"/>
<rect x="369.83" y="241.80" width="4.2" height="4.5" fill="#d8d8d8"/>
<rect x="374.76" y="241.80" width="4.2" height="4.5" fill="#d8d8d8"/>
<rect x="379.68" y="241.80" width="4.2" height="4.5" fill="#d8d8d8"/>
<rect x="384.61" y="241.80" width="4.2" height="4.5" fill="#d8d8d8"/>
<rect x="389.53" y="241.80" width="4.2" height="4.5" fill="#d8d8d8"/>
<rect x="394.46" y="241.80" width="4.2" height="4.5" fill="#d8d8d8"/>
<rect x="399.39" y="241.80" width="4.2" height="4.5" fill="#d8d8d8"/>
<rect x="404.31" y="241.80" width="4.2" height="4.5" fill="#d8d8d8"/>
<rect x="409.24" y="241.80" width="4.2" height="4.5" fill="#d8d8d8"/>
<rect x="414.16" y="241.80" width="4.2" height="4.5" fill="#d8d8d8"/>
<rect x="419.09" y="241.80" width="4.2" height="4.5" fill="#d8d8d8"/>
<rect x="424.02" y="241.80" width="4.2" height="4.5" fill="#d8d8d8"/>
<rect x="428.94" y="241.80" width="4.2" height="4.5" fill="#d8d8d8"/>
<rect x="433.87" y="241.80" width="4.2" height="4.5" fill="#d8d8d8"/>
<rect x="438.79" y="241.80" width="4.2" height="4.5" fill="#d8d8d8"/>
<text transform="translate(73.00,245.90) scale(0.929,1)" font-size="4.8" fill="#5e5e5e" font-style="italic" >PCM1</text>
<rect x="443.8" y="241.80" width="1.66" height="4.5" fill="#938a52"/>
<rect x="479.6" y="241.80" width="1.81" height="4.5" fill="#5f8cc7"/>
<text transform="translate(466.30,245.80)" font-size="5.0" fill="#222" >6.9%</text>
<text transform="translate(501.30,245.80)" font-size="5.0" fill="#222" >7.1%</text>
<rect x="98.90" y="247.40" width="4.2" height="4.5" fill="#d8d8d8"/>
<rect x="103.83" y="247.40" width="4.2" height="4.5" fill="#d8d8d8"/>
<rect x="108.75" y="247.40" width="4.2" height="4.5" fill="#d8d8d8"/>
<rect x="113.68" y="247.40" width="4.2" height="4.5" fill="#d8d8d8"/>
<rect x="118.60" y="247.40" width="4.2" height="4.5" fill="#d8d8d8"/>
<rect x="123.53" y="247.40" width="4.2" height="4.5" fill="#dc8a8d"/>
<rect x="128.46" y="247.40" width="4.2" height="4.5" fill="#d8d8d8"/>
<rect x="133.38" y="247.40" width="4.2" height="4.5" fill="#d8d8d8"/>
<rect x="138.31" y="247.40" width="4.2" height="4.5" fill="#d8d8d8"/>
<rect x="143.23" y="247.40" width="4.2" height="4.5" fill="#d8d8d8"/>
<rect x="148.16" y="247.40" width="4.2" height="4.5" fill="#d8d8d8"/>
<rect x="153.09" y="247.40" width="4.2" height="4.5" fill="#d8d8d8"/>
<rect x="158.01" y="247.40" width="4.2" height="4.5" fill="#d8d8d8"/>
<rect x="162.94" y="247.40" width="4.2" height="4.5" fill="#dc8a8d"/>
<rect x="167.86" y="247.40" width="4.2" height="4.5" fill="#d8d8d8"/>
<rect x="172.79" y="247.40" width="4.2" height="4.5" fill="#d8d8d8"/>
<rect x="177.72" y="247.40" width="4.2" height="4.5" fill="#d8d8d8"/>
<rect x="182.64" y="247.40" width="4.2" height="4.5" fill="#d8d8d8"/>
<rect x="187.57" y="247.40" width="4.2" height="4.5" fill="#d8d8d8"/>
<rect x="192.49" y="247.40" width="4.2" height="4.5" fill="#d8d8d8"/>
<rect x="197.42" y="247.40" width="4.2" height="4.5" fill="#d8d8d8"/>
<rect x="202.35" y="247.40" width="4.2" height="4.5" fill="#dc8a8d"/>
<rect x="207.27" y="247.40" width="4.2" height="4.5" fill="#d8d8d8"/>
<rect x="212.20" y="247.40" width="4.2" height="4.5" fill="#d8d8d8"/>
<rect x="217.12" y="247.40" width="4.2" height="4.5" fill="#dc8a8d"/>
<rect x="222.05" y="247.40" width="4.2" height="4.5" fill="#d8d8d8"/>
<rect x="226.98" y="247.40" width="4.2" height="4.5" fill="#d8d8d8"/>
<rect x="231.90" y="247.40" width="4.2" height="4.5" fill="#d8d8d8"/>
<rect x="236.83" y="247.40" width="4.2" height="4.5" fill="#d8d8d8"/>
<rect x="241.75" y="247.40" width="4.2" height="4.5" fill="#d8d8d8"/>
<rect x="246.68" y="247.40" width="4.2" height="4.5" fill="#d8d8d8"/>
<rect x="251.61" y="247.40" width="4.2" height="4.5" fill="#d8d8d8"/>
<rect x="256.53" y="247.40" width="4.2" height="4.5" fill="#d8d8d8"/>
<rect x="261.46" y="247.40" width="4.2" height="4.5" fill="#d8d8d8"/>
<rect x="266.38" y="247.40" width="4.2" height="4.5" fill="#d8d8d8"/>
<rect x="271.31" y="247.40" width="4.2" height="4.5" fill="#d8d8d8"/>
<rect x="276.24" y="247.40" width="4.2" height="4.5" fill="#d8d8d8"/>
<rect x="281.16" y="247.40" width="4.2" height="4.5" fill="#d8d8d8"/>
<rect x="286.09" y="247.40" width="4.2" height="4.5" fill="#d8d8d8"/>
<rect x="291.01" y="247.40" width="4.2" height="4.5" fill="#dc8a8d"/>
<rect x="295.94" y="247.40" width="4.2" height="4.5" fill="#d8d8d8"/>
<rect x="300.87" y="247.40" width="4.2" height="4.5" fill="#d8d8d8"/>
<rect x="305.79" y="247.40" width="4.2" height="4.5" fill="#d8d8d8"/>
<rect x="310.72" y="247.40" width="4.2" height="4.5" fill="#d8d8d8"/>
<rect x="315.64" y="247.40" width="4.2" height="4.5" fill="#dc8a8d"/>
<rect x="320.57" y="247.40" width="4.2" height="4.5" fill="#d8d8d8"/>
<rect x="325.50" y="247.40" width="4.2" height="4.5" fill="#8cbb4c"/>
<rect x="330.42" y="247.40" width="4.2" height="4.5" fill="#d8d8d8"/>
<rect x="335.35" y="247.40" width="4.2" height="4.5" fill="#d8d8d8"/>
<rect x="340.27" y="247.40" width="4.2" height="4.5" fill="#dc8a8d"/>
<rect x="345.20" y="247.40" width="4.2" height="4.5" fill="#d8d8d8"/>
<rect x="350.13" y="247.40" width="4.2" height="4.5" fill="#d8d8d8"/>
<rect x="355.05" y="247.40" width="4.2" height="4.5" fill="#dc8a8d"/>
<rect x="359.98" y="247.40" width="4.2" height="4.5" fill="#d8d8d8"/>
<rect x="364.90" y="247.40" width="4.2" height="4.5" fill="#d8d8d8"/>
<rect x="369.83" y="247.40" width="4.2" height="4.5" fill="#dc8a8d"/>
<rect x="374.76" y="247.40" width="4.2" height="4.5" fill="#d8d8d8"/>
<rect x="379.68" y="247.40" width="4.2" height="4.5" fill="#d8d8d8"/>
<rect x="384.61" y="247.40" width="4.2" height="4.5" fill="#d8d8d8"/>
<rect x="389.53" y="247.40" width="4.2" height="4.5" fill="#d8d8d8"/>
<rect x="394.46" y="247.40" width="4.2" height="4.5" fill="#d8d8d8"/>
<rect x="399.39" y="247.40" width="4.2" height="4.5" fill="#dc8a8d"/>
<rect x="404.31" y="247.40" width="4.2" height="4.5" fill="#d8d8d8"/>
<rect x="409.24" y="247.40" width="4.2" height="4.5" fill="#d8d8d8"/>
<rect x="414.16" y="247.40" width="4.2" height="4.5" fill="#d8d8d8"/>
<rect x="419.09" y="247.40" width="4.2" height="4.5" fill="#d8d8d8"/>
<rect x="424.02" y="247.40" width="4.2" height="4.5" fill="#d8d8d8"/>
<rect x="428.94" y="247.40" width="4.2" height="4.5" fill="#d8d8d8"/>
<rect x="433.87" y="247.40" width="4.2" height="4.5" fill="#d8d8d8"/>
<rect x="438.79" y="247.40" width="4.2" height="4.5" fill="#d8d8d8"/>
<text transform="translate(73.00,251.50) scale(0.910,1)" font-size="4.8" fill="#5e5e5e" font-style="italic" >PDCD11</text>
<rect x="443.8" y="247.40" width="4.13" height="4.5" fill="#938a52"/>
<rect x="479.6" y="247.40" width="4.56" height="4.5" fill="#5f8cc7"/>
<text transform="translate(463.52,251.40)" font-size="5.0" fill="#222" >17.2%</text>
<text transform="translate(498.53,251.40)" font-size="5.0" fill="#222" >17.9%</text>
<rect x="98.90" y="253.50" width="4.2" height="4.5" fill="#d8d8d8"/>
<rect x="103.83" y="253.50" width="4.2" height="4.5" fill="#d8d8d8"/>
<rect x="108.75" y="253.50" width="4.2" height="4.5" fill="#d8d8d8"/>
<rect x="113.68" y="253.50" width="4.2" height="4.5" fill="#d8d8d8"/>
<rect x="118.60" y="253.50" width="4.2" height="4.5" fill="#d8d8d8"/>
<rect x="123.53" y="253.50" width="4.2" height="4.5" fill="#d8d8d8"/>
<rect x="128.46" y="253.50" width="4.2" height="4.5" fill="#d8d8d8"/>
<rect x="133.38" y="253.50" width="4.2" height="4.5" fill="#d8d8d8"/>
<rect x="138.31" y="253.50" width="4.2" height="4.5" fill="#d8d8d8"/>
<rect x="143.23" y="253.50" width="4.2" height="4.5" fill="#d8d8d8"/>
<rect x="148.16" y="253.50" width="4.2" height="4.5" fill="#f5913c"/>
<rect x="153.09" y="253.50" width="4.2" height="4.5" fill="#d8d8d8"/>
<rect x="158.01" y="253.50" width="4.2" height="4.5" fill="#d8d8d8"/>
<rect x="162.94" y="253.50" width="4.2" height="4.5" fill="#dc8a8d"/>
<rect x="167.86" y="253.50" width="4.2" height="4.5" fill="#d8d8d8"/>
<rect x="172.79" y="253.50" width="4.2" height="4.5" fill="#d8d8d8"/>
<rect x="177.72" y="253.50" width="4.2" height="4.5" fill="#d8d8d8"/>
<rect x="182.64" y="253.50" width="4.2" height="4.5" fill="#d8d8d8"/>
<rect x="187.57" y="253.50" width="4.2" height="4.5" fill="#d8d8d8"/>
<rect x="192.49" y="253.50" width="4.2" height="4.5" fill="#d8d8d8"/>
<rect x="197.42" y="253.50" width="4.2" height="4.5" fill="#d8d8d8"/>
<rect x="202.35" y="253.50" width="4.2" height="4.5" fill="#d8d8d8"/>
<rect x="207.27" y="253.50" width="4.2" height="4.5" fill="#d8d8d8"/>
<rect x="212.20" y="253.50" width="4.2" height="4.5" fill="#d8d8d8"/>
<rect x="217.12" y="253.50" width="4.2" height="4.5" fill="#d8d8d8"/>
<rect x="222.05" y="253.50" width="4.2" height="4.5" fill="#d8d8d8"/>
<rect x="226.98" y="253.50" width="4.2" height="4.5" fill="#d8d8d8"/>
<rect x="231.90" y="253.50" width="4.2" height="4.5" fill="#d8d8d8"/>
<rect x="236.83" y="253.50" width="4.2" height="4.5" fill="#d8d8d8"/>
<rect x="241.75" y="253.50" width="4.2" height="4.5" fill="#d8d8d8"/>
<rect x="246.68" y="253.50" width="4.2" height="4.5" fill="#d8d8d8"/>
<rect x="251.61" y="253.50" width="4.2" height="4.5" fill="#d8d8d8"/>
<rect x="256.53" y="253.50" width="4.2" height="4.5" fill="#d8d8d8"/>
<rect x="261.46" y="253.50" width="4.2" height="4.5" fill="#d8d8d8"/>
<rect x="266.38" y="253.50" width="4.2" height="4.5" fill="#d8d8d8"/>
<rect x="271.31" y="253.50" width="4.2" height="4.5" fill="#d8d8d8"/>
<rect x="276.24" y="253.50" width="4.2" height="4.5" fill="#d8d8d8"/>
<rect x="281.16" y="253.50" width="4.2" height="4.5" fill="#d8d8d8"/>
<rect x="286.09" y="253.50" width="4.2" height="4.5" fill="#d8d8d8"/>
<rect x="291.01" y="253.50" width="4.2" height="4.5" fill="#d8d8d8"/>
<rect x="295.94" y="253.50" width="4.2" height="4.5" fill="#d8d8d8"/>
<rect x="300.87" y="253.50" width="4.2" height="4.5" fill="#d8d8d8"/>
<rect x="305.79" y="253.50" width="4.2" height="4.5" fill="#d8d8d8"/>
<rect x="310.72" y="253.50" width="4.2" height="4.5" fill="#d8d8d8"/>
<rect x="315.64" y="253.50" width="4.2" height="4.5" fill="#8a8046"/>
<rect x="320.57" y="253.50" width="4.2" height="4.5" fill="#d8d8d8"/>
<rect x="325.50" y="253.50" width="4.2" height="4.5" fill="#dc8a8d"/>
<rect x="330.42" y="253.50" width="4.2" height="4.5" fill="#d8d8d8"/>
<rect x="335.35" y="253.50" width="4.2" height="4.5" fill="#d8d8d8"/>
<rect x="340.27" y="253.50" width="4.2" height="4.5" fill="#d8d8d8"/>
<rect x="345.20" y="253.50" width="4.2" height="4.5" fill="#dc8a8d"/>
<rect x="350.13" y="253.50" width="4.2" height="4.5" fill="#d8d8d8"/>
<rect x="355.05" y="253.50" width="4.2" height="4.5" fill="#dc8a8d"/>
<rect x="359.98" y="253.50" width="4.2" height="4.5" fill="#d8d8d8"/>
<rect x="364.90" y="253.50" width="4.2" height="4.5" fill="#d8d8d8"/>
<rect x="369.83" y="253.50" width="4.2" height="4.5" fill="#d8d8d8"/>
<rect x="374.76" y="253.50" width="4.2" height="4.5" fill="#dc8a8d"/>
<rect x="379.68" y="253.50" width="4.2" height="4.5" fill="#d8d8d8"/>
<rect x="384.61" y="253.50" width="4.2" height="4.5" fill="#d8d8d8"/>
<rect x="389.53" y="253.50" width="4.2" height="4.5" fill="#d8d8d8"/>
<rect x="394.46" y="253.50" width="4.2" height="4.5" fill="#d8d8d8"/>
<rect x="399.39" y="253.50" width="4.2" height="4.5" fill="#d8d8d8"/>
<rect x="404.31" y="253.50" width="4.2" height="4.5" fill="#d8d8d8"/>
<rect x="409.24" y="253.50" width="4.2" height="4.5" fill="#d8d8d8"/>
<rect x="414.16" y="253.50" width="4.2" height="4.5" fill="#d8d8d8"/>
<rect x="419.09" y="253.50" width="4.2" height="4.5" fill="#d8d8d8"/>
<rect x="424.02" y="253.50" width="4.2" height="4.5" fill="#d8d8d8"/>
<rect x="428.94" y="253.50" width="4.2" height="4.5" fill="#d8d8d8"/>
<rect x="433.87" y="253.50" width="4.2" height="4.5" fill="#d8d8d8"/>
<rect x="438.79" y="253.50" width="4.2" height="4.5" fill="#d8d8d8"/>
<text transform="translate(73.00,257.60) scale(0.961,1)" font-size="4.8" fill="#5e5e5e" font-style="italic" >SPEN*</text>
<rect x="443.8" y="253.50" width="2.90" height="4.5" fill="#938a52"/>
<rect x="479.6" y="253.50" width="3.65" height="4.5" fill="#5f8cc7"/>
<text transform="translate(463.52,257.50)" font-size="5.0" fill="#222" >12.1%</text>
<text transform="translate(498.53,257.50)" font-size="5.0" fill="#222" >14.3%</text>
<rect x="98.90" y="259.20" width="4.2" height="4.5" fill="#d8d8d8"/>
<rect x="103.83" y="259.20" width="4.2" height="4.5" fill="#dc8a8d"/>
<rect x="108.75" y="259.20" width="4.2" height="4.5" fill="#d8d8d8"/>
<rect x="113.68" y="259.20" width="4.2" height="4.5" fill="#d8d8d8"/>
<rect x="118.60" y="259.20" width="4.2" height="4.5" fill="#d8d8d8"/>
<rect x="123.53" y="259.20" width="4.2" height="4.5" fill="#d8d8d8"/>
<rect x="128.46" y="259.20" width="4.2" height="4.5" fill="#d8d8d8"/>
<rect x="133.38" y="259.20" width="4.2" height="4.5" fill="#d8d8d8"/>
<rect x="138.31" y="259.20" width="4.2" height="4.5" fill="#d8d8d8"/>
<rect x="143.23" y="259.20" width="4.2" height="4.5" fill="#d8d8d8"/>
<rect x="148.16" y="259.20" width="4.2" height="4.5" fill="#d8d8d8"/>
<rect x="153.09" y="259.20" width="4.2" height="4.5" fill="#d8d8d8"/>
<rect x="158.01" y="259.20" width="4.2" height="4.5" fill="#d8d8d8"/>
<rect x="162.94" y="259.20" width="4.2" height="4.5" fill="#d8d8d8"/>
<rect x="167.86" y="259.20" width="4.2" height="4.5" fill="#d8d8d8"/>
<rect x="172.79" y="259.20" width="4.2" height="4.5" fill="#d8d8d8"/>
<rect x="177.72" y="259.20" width="4.2" height="4.5" fill="#d8d8d8"/>
<rect x="182.64" y="259.20" width="4.2" height="4.5" fill="#d8d8d8"/>
<rect x="187.57" y="259.20" width="4.2" height="4.5" fill="#dc8a8d"/>
<rect x="192.49" y="259.20" width="4.2" height="4.5" fill="#d8d8d8"/>
<rect x="197.42" y="259.20" width="4.2" height="4.5" fill="#d8d8d8"/>
<rect x="202.35" y="259.20" width="4.2" height="4.5" fill="#d8d8d8"/>
<rect x="207.27" y="259.20" width="4.2" height="4.5" fill="#d8d8d8"/>
<rect x="212.20" y="259.20" width="4.2" height="4.5" fill="#d8d8d8"/>
<rect x="217.12" y="259.20" width="4.2" height="4.5" fill="#d8d8d8"/>
<rect x="222.05" y="259.20" width="4.2" height="4.5" fill="#dc8a8d"/>
<rect x="226.98" y="259.20" width="4.2" height="4.5" fill="#dc8a8d"/>
<rect x="231.90" y="259.20" width="4.2" height="4.5" fill="#d8d8d8"/>
<rect x="236.83" y="259.20" width="4.2" height="4.5" fill="#d8d8d8"/>
<rect x="241.75" y="259.20" width="4.2" height="4.5" fill="#d8d8d8"/>
<rect x="246.68" y="259.20" width="4.2" height="4.5" fill="#d8d8d8"/>
<rect x="251.61" y="259.20" width="4.2" height="4.5" fill="#d8d8d8"/>
<rect x="256.53" y="259.20" width="4.2" height="4.5" fill="#d8d8d8"/>
<rect x="261.46" y="259.20" width="4.2" height="4.5" fill="#d8d8d8"/>
<rect x="266.38" y="259.20" width="4.2" height="4.5" fill="#d8d8d8"/>
<rect x="271.31" y="259.20" width="4.2" height="4.5" fill="#d8d8d8"/>
<rect x="276.24" y="259.20" width="4.2" height="4.5" fill="#d8d8d8"/>
<rect x="281.16" y="259.20" width="4.2" height="4.5" fill="#d8d8d8"/>
<rect x="286.09" y="259.20" width="4.2" height="4.5" fill="#d8d8d8"/>
<rect x="291.01" y="259.20" width="4.2" height="4.5" fill="#d8d8d8"/>
<rect x="295.94" y="259.20" width="4.2" height="4.5" fill="#d8d8d8"/>
<rect x="300.87" y="259.20" width="4.2" height="4.5" fill="#d8d8d8"/>
<rect x="305.79" y="259.20" width="4.2" height="4.5" fill="#d8d8d8"/>
<rect x="310.72" y="259.20" width="4.2" height="4.5" fill="#d8d8d8"/>
<rect x="315.64" y="259.20" width="4.2" height="4.5" fill="#dc8a8d"/>
<rect x="320.57" y="259.20" width="4.2" height="4.5" fill="#d8d8d8"/>
<rect x="325.50" y="259.20" width="4.2" height="4.5" fill="#dc8a8d"/>
<rect x="330.42" y="259.20" width="4.2" height="4.5" fill="#d8d8d8"/>
<rect x="335.35" y="259.20" width="4.2" height="4.5" fill="#d8d8d8"/>
<rect x="340.27" y="259.20" width="4.2" height="4.5" fill="#dc8a8d"/>
<rect x="345.20" y="259.20" width="4.2" height="4.5" fill="#dc8a8d"/>
<rect x="350.13" y="259.20" width="4.2" height="4.5" fill="#d8d8d8"/>
<rect x="355.05" y="259.20" width="4.2" height="4.5" fill="#dc8a8d"/>
<rect x="359.98" y="259.20" width="4.2" height="4.5" fill="#d8d8d8"/>
<rect x="364.90" y="259.20" width="4.2" height="4.5" fill="#dc8a8d"/>
<rect x="369.83" y="259.20" width="4.2" height="4.5" fill="#d8d8d8"/>
<rect x="374.76" y="259.20" width="4.2" height="4.5" fill="#d8d8d8"/>
<rect x="379.68" y="259.20" width="4.2" height="4.5" fill="#d8d8d8"/>
<rect x="384.61" y="259.20" width="4.2" height="4.5" fill="#d8d8d8"/>
<rect x="389.53" y="259.20" width="4.2" height="4.5" fill="#dc8a8d"/>
<rect x="394.46" y="259.20" width="4.2" height="4.5" fill="#d8d8d8"/>
<rect x="399.39" y="259.20" width="4.2" height="4.5" fill="#d8d8d8"/>
<rect x="404.31" y="259.20" width="4.2" height="4.5" fill="#d8d8d8"/>
<rect x="409.24" y="259.20" width="4.2" height="4.5" fill="#d8d8d8"/>
<rect x="414.16" y="259.20" width="4.2" height="4.5" fill="#d8d8d8"/>
<rect x="419.09" y="259.20" width="4.2" height="4.5" fill="#d8d8d8"/>
<rect x="424.02" y="259.20" width="4.2" height="4.5" fill="#d8d8d8"/>
<rect x="428.94" y="259.20" width="4.2" height="4.5" fill="#d8d8d8"/>
<rect x="433.87" y="259.20" width="4.2" height="4.5" fill="#d8d8d8"/>
<rect x="438.79" y="259.20" width="4.2" height="4.5" fill="#dc8a8d"/>
<text transform="translate(73.00,263.30) scale(0.948,1)" font-size="4.8" fill="#5e5e5e" font-style="italic" >LAMA5</text>
<rect x="443.8" y="259.20" width="4.13" height="4.5" fill="#938a52"/>
<rect x="479.6" y="259.20" width="2.73" height="4.5" fill="#5f8cc7"/>
<text transform="translate(463.52,263.20)" font-size="5.0" fill="#222" >17.2%</text>
<text transform="translate(498.53,263.20)" font-size="5.0" fill="#222" >10.7%</text>
<rect x="98.90" y="265.20" width="4.2" height="4.5" fill="#d8d8d8"/>
<rect x="103.83" y="265.20" width="4.2" height="4.5" fill="#d8d8d8"/>
<rect x="108.75" y="265.20" width="4.2" height="4.5" fill="#d8d8d8"/>
<rect x="113.68" y="265.20" width="4.2" height="4.5" fill="#d8d8d8"/>
<rect x="118.60" y="265.20" width="4.2" height="4.5" fill="#d8d8d8"/>
<rect x="123.53" y="265.20" width="4.2" height="4.5" fill="#dc8a8d"/>
<rect x="128.46" y="265.20" width="4.2" height="4.5" fill="#d8d8d8"/>
<rect x="133.38" y="265.20" width="4.2" height="4.5" fill="#d8d8d8"/>
<rect x="138.31" y="265.20" width="4.2" height="4.5" fill="#d8d8d8"/>
<rect x="143.23" y="265.20" width="4.2" height="4.5" fill="#d8d8d8"/>
<rect x="148.16" y="265.20" width="4.2" height="4.5" fill="#d8d8d8"/>
<rect x="153.09" y="265.20" width="4.2" height="4.5" fill="#d8d8d8"/>
<rect x="158.01" y="265.20" width="4.2" height="4.5" fill="#d8d8d8"/>
<rect x="162.94" y="265.20" width="4.2" height="4.5" fill="#8a8046"/>
<rect x="167.86" y="265.20" width="4.2" height="4.5" fill="#d8d8d8"/>
<rect x="172.79" y="265.20" width="4.2" height="4.5" fill="#d8d8d8"/>
<rect x="177.72" y="265.20" width="4.2" height="4.5" fill="#d8d8d8"/>
<rect x="182.64" y="265.20" width="4.2" height="4.5" fill="#d8d8d8"/>
<rect x="187.57" y="265.20" width="4.2" height="4.5" fill="#d8d8d8"/>
<rect x="192.49" y="265.20" width="4.2" height="4.5" fill="#d8d8d8"/>
<rect x="197.42" y="265.20" width="4.2" height="4.5" fill="#d8d8d8"/>
<rect x="202.35" y="265.20" width="4.2" height="4.5" fill="#dc8a8d"/>
<rect x="207.27" y="265.20" width="4.2" height="4.5" fill="#d8d8d8"/>
<rect x="212.20" y="265.20" width="4.2" height="4.5" fill="#d8d8d8"/>
<rect x="217.12" y="265.20" width="4.2" height="4.5" fill="#dc8a8d"/>
<rect x="222.05" y="265.20" width="4.2" height="4.5" fill="#d8d8d8"/>
<rect x="226.98" y="265.20" width="4.2" height="4.5" fill="#d8d8d8"/>
<rect x="231.90" y="265.20" width="4.2" height="4.5" fill="#d8d8d8"/>
<rect x="236.83" y="265.20" width="4.2" height="4.5" fill="#d8d8d8"/>
<rect x="241.75" y="265.20" width="4.2" height="4.5" fill="#d8d8d8"/>
<rect x="246.68" y="265.20" width="4.2" height="4.5" fill="#d8d8d8"/>
<rect x="251.61" y="265.20" width="4.2" height="4.5" fill="#d8d8d8"/>
<rect x="256.53" y="265.20" width="4.2" height="4.5" fill="#d8d8d8"/>
<rect x="261.46" y="265.20" width="4.2" height="4.5" fill="#d8d8d8"/>
<rect x="266.38" y="265.20" width="4.2" height="4.5" fill="#d8d8d8"/>
<rect x="271.31" y="265.20" width="4.2" height="4.5" fill="#d8d8d8"/>
<rect x="276.24" y="265.20" width="4.2" height="4.5" fill="#d8d8d8"/>
<rect x="281.16" y="265.20" width="4.2" height="4.5" fill="#d8d8d8"/>
<rect x="286.09" y="265.20" width="4.2" height="4.5" fill="#d8d8d8"/>
<rect x="291.01" y="265.20" width="4.2" height="4.5" fill="#d8d8d8"/>
<rect x="295.94" y="265.20" width="4.2" height="4.5" fill="#d8d8d8"/>
<rect x="300.87" y="265.20" width="4.2" height="4.5" fill="#d8d8d8"/>
<rect x="305.79" y="265.20" width="4.2" height="4.5" fill="#d8d8d8"/>
<rect x="310.72" y="265.20" width="4.2" height="4.5" fill="#d8d8d8"/>
<rect x="315.64" y="265.20" width="4.2" height="4.5" fill="#f5913c"/>
<rect x="320.57" y="265.20" width="4.2" height="4.5" fill="#d8d8d8"/>
<rect x="325.50" y="265.20" width="4.2" height="4.5" fill="#8a8046"/>
<rect x="330.42" y="265.20" width="4.2" height="4.5" fill="#dc8a8d"/>
<rect x="335.35" y="265.20" width="4.2" height="4.5" fill="#d8d8d8"/>
<rect x="340.27" y="265.20" width="4.2" height="4.5" fill="#dc8a8d"/>
<rect x="345.20" y="265.20" width="4.2" height="4.5" fill="#d8d8d8"/>
<rect x="350.13" y="265.20" width="4.2" height="4.5" fill="#d8d8d8"/>
<rect x="355.05" y="265.20" width="4.2" height="4.5" fill="#dc8a8d"/>
<rect x="359.98" y="265.20" width="4.2" height="4.5" fill="#d8d8d8"/>
<rect x="364.90" y="265.20" width="4.2" height="4.5" fill="#d8d8d8"/>
<rect x="369.83" y="265.20" width="4.2" height="4.5" fill="#d8d8d8"/>
<rect x="374.76" y="265.20" width="4.2" height="4.5" fill="#d8d8d8"/>
<rect x="379.68" y="265.20" width="4.2" height="4.5" fill="#d8d8d8"/>
<rect x="384.61" y="265.20" width="4.2" height="4.5" fill="#d8d8d8"/>
<rect x="389.53" y="265.20" width="4.2" height="4.5" fill="#d8d8d8"/>
<rect x="394.46" y="265.20" width="4.2" height="4.5" fill="#d8d8d8"/>
<rect x="399.39" y="265.20" width="4.2" height="4.5" fill="#d8d8d8"/>
<rect x="404.31" y="265.20" width="4.2" height="4.5" fill="#d8d8d8"/>
<rect x="409.24" y="265.20" width="4.2" height="4.5" fill="#d8d8d8"/>
<rect x="414.16" y="265.20" width="4.2" height="4.5" fill="#d8d8d8"/>
<rect x="419.09" y="265.20" width="4.2" height="4.5" fill="#d8d8d8"/>
<rect x="424.02" y="265.20" width="4.2" height="4.5" fill="#d8d8d8"/>
<rect x="428.94" y="265.20" width="4.2" height="4.5" fill="#d8d8d8"/>
<rect x="433.87" y="265.20" width="4.2" height="4.5" fill="#d8d8d8"/>
<rect x="438.79" y="265.20" width="4.2" height="4.5" fill="#d8d8d8"/>
<text transform="translate(73.00,269.30) scale(0.912,1)" font-size="4.8" fill="#5e5e5e" font-style="italic" >FAT4</text>
<rect x="443.8" y="265.20" width="3.72" height="4.5" fill="#938a52"/>
<rect x="479.6" y="265.20" width="4.56" height="4.5" fill="#5f8cc7"/>
<text transform="translate(463.52,269.20)" font-size="5.0" fill="#222" >15.5%</text>
<text transform="translate(498.53,269.20)" font-size="5.0" fill="#222" >17.9%</text>
<rect x="98.90" y="270.90" width="4.2" height="4.5" fill="#d8d8d8"/>
<rect x="103.83" y="270.90" width="4.2" height="4.5" fill="#d8d8d8"/>
<rect x="108.75" y="270.90" width="4.2" height="4.5" fill="#d8d8d8"/>
<rect x="113.68" y="270.90" width="4.2" height="4.5" fill="#d8d8d8"/>
<rect x="118.60" y="270.90" width="4.2" height="4.5" fill="#d8d8d8"/>
<rect x="123.53" y="270.90" width="4.2" height="4.5" fill="#8a8046"/>
<rect x="128.46" y="270.90" width="4.2" height="4.5" fill="#d8d8d8"/>
<rect x="133.38" y="270.90" width="4.2" height="4.5" fill="#d8d8d8"/>
<rect x="138.31" y="270.90" width="4.2" height="4.5" fill="#d8d8d8"/>
<rect x="143.23" y="270.90" width="4.2" height="4.5" fill="#d8d8d8"/>
<rect x="148.16" y="270.90" width="4.2" height="4.5" fill="#d8d8d8"/>
<rect x="153.09" y="270.90" width="4.2" height="4.5" fill="#d8d8d8"/>
<rect x="158.01" y="270.90" width="4.2" height="4.5" fill="#d8d8d8"/>
<rect x="162.94" y="270.90" width="4.2" height="4.5" fill="#8a8046"/>
<rect x="167.86" y="270.90" width="4.2" height="4.5" fill="#d8d8d8"/>
<rect x="172.79" y="270.90" width="4.2" height="4.5" fill="#d8d8d8"/>
<rect x="177.72" y="270.90" width="4.2" height="4.5" fill="#d8d8d8"/>
<rect x="182.64" y="270.90" width="4.2" height="4.5" fill="#d8d8d8"/>
<rect x="187.57" y="270.90" width="4.2" height="4.5" fill="#d8d8d8"/>
<rect x="192.49" y="270.90" width="4.2" height="4.5" fill="#d8d8d8"/>
<rect x="197.42" y="270.90" width="4.2" height="4.5" fill="#dc8a8d"/>
<rect x="202.35" y="270.90" width="4.2" height="4.5" fill="#dc8a8d"/>
<rect x="207.27" y="270.90" width="4.2" height="4.5" fill="#d8d8d8"/>
<rect x="212.20" y="270.90" width="4.2" height="4.5" fill="#d8d8d8"/>
<rect x="217.12" y="270.90" width="4.2" height="4.5" fill="#d8d8d8"/>
<rect x="222.05" y="270.90" width="4.2" height="4.5" fill="#d8d8d8"/>
<rect x="226.98" y="270.90" width="4.2" height="4.5" fill="#d8d8d8"/>
<rect x="231.90" y="270.90" width="4.2" height="4.5" fill="#d8d8d8"/>
<rect x="236.83" y="270.90" width="4.2" height="4.5" fill="#d8d8d8"/>
<rect x="241.75" y="270.90" width="4.2" height="4.5" fill="#d8d8d8"/>
<rect x="246.68" y="270.90" width="4.2" height="4.5" fill="#d8d8d8"/>
<rect x="251.61" y="270.90" width="4.2" height="4.5" fill="#d8d8d8"/>
<rect x="256.53" y="270.90" width="4.2" height="4.5" fill="#d8d8d8"/>
<rect x="261.46" y="270.90" width="4.2" height="4.5" fill="#d8d8d8"/>
<rect x="266.38" y="270.90" width="4.2" height="4.5" fill="#d8d8d8"/>
<rect x="271.31" y="270.90" width="4.2" height="4.5" fill="#d8d8d8"/>
<rect x="276.24" y="270.90" width="4.2" height="4.5" fill="#d8d8d8"/>
<rect x="281.16" y="270.90" width="4.2" height="4.5" fill="#d8d8d8"/>
<rect x="286.09" y="270.90" width="4.2" height="4.5" fill="#8a8046"/>
<rect x="291.01" y="270.90" width="4.2" height="4.5" fill="#d8d8d8"/>
<rect x="295.94" y="270.90" width="4.2" height="4.5" fill="#d8d8d8"/>
<rect x="300.87" y="270.90" width="4.2" height="4.5" fill="#d8d8d8"/>
<rect x="305.79" y="270.90" width="4.2" height="4.5" fill="#d8d8d8"/>
<rect x="310.72" y="270.90" width="4.2" height="4.5" fill="#d8d8d8"/>
<rect x="315.64" y="270.90" width="4.2" height="4.5" fill="#dc8a8d"/>
<rect x="320.57" y="270.90" width="4.2" height="4.5" fill="#d8d8d8"/>
<rect x="325.50" y="270.90" width="4.2" height="4.5" fill="#dc8a8d"/>
<rect x="330.42" y="270.90" width="4.2" height="4.5" fill="#d8d8d8"/>
<rect x="335.35" y="270.90" width="4.2" height="4.5" fill="#d8d8d8"/>
<rect x="340.27" y="270.90" width="4.2" height="4.5" fill="#d8d8d8"/>
<rect x="345.20" y="270.90" width="4.2" height="4.5" fill="#d8d8d8"/>
<rect x="350.13" y="270.90" width="4.2" height="4.5" fill="#d8d8d8"/>
<rect x="355.05" y="270.90" width="4.2" height="4.5" fill="#d8d8d8"/>
<rect x="359.98" y="270.90" width="4.2" height="4.5" fill="#dc8a8d"/>
<rect x="364.90" y="270.90" width="4.2" height="4.5" fill="#d8d8d8"/>
<rect x="369.83" y="270.90" width="4.2" height="4.5" fill="#d8d8d8"/>
<rect x="374.76" y="270.90" width="4.2" height="4.5" fill="#d8d8d8"/>
<rect x="379.68" y="270.90" width="4.2" height="4.5" fill="#d8d8d8"/>
<rect x="384.61" y="270.90" width="4.2" height="4.5" fill="#d8d8d8"/>
<rect x="389.53" y="270.90" width="4.2" height="4.5" fill="#d8d8d8"/>
<rect x="394.46" y="270.90" width="4.2" height="4.5" fill="#d8d8d8"/>
<rect x="399.39" y="270.90" width="4.2" height="4.5" fill="#d8d8d8"/>
<rect x="404.31" y="270.90" width="4.2" height="4.5" fill="#d8d8d8"/>
<rect x="409.24" y="270.90" width="4.2" height="4.5" fill="#d8d8d8"/>
<rect x="414.16" y="270.90" width="4.2" height="4.5" fill="#d8d8d8"/>
<rect x="419.09" y="270.90" width="4.2" height="4.5" fill="#d8d8d8"/>
<rect x="424.02" y="270.90" width="4.2" height="4.5" fill="#d8d8d8"/>
<rect x="428.94" y="270.90" width="4.2" height="4.5" fill="#3fa3c8"/>
<rect x="433.87" y="270.90" width="4.2" height="4.5" fill="#d8d8d8"/>
<rect x="438.79" y="270.90" width="4.2" height="4.5" fill="#d8d8d8"/>
<text transform="translate(73.00,275.00) scale(0.894,1)" font-size="4.8" fill="#5e5e5e" font-style="italic" >FAT1</text>
<rect x="443.8" y="270.90" width="3.31" height="4.5" fill="#938a52"/>
<rect x="479.6" y="270.90" width="4.56" height="4.5" fill="#5f8cc7"/>
<text transform="translate(463.52,274.90)" font-size="5.0" fill="#222" >13.8%</text>
<text transform="translate(498.53,274.90)" font-size="5.0" fill="#222" >17.9%</text>
<rect x="98.90" y="277.00" width="4.2" height="4.5" fill="#d8d8d8"/>
<rect x="103.83" y="277.00" width="4.2" height="4.5" fill="#d8d8d8"/>
<rect x="108.75" y="277.00" width="4.2" height="4.5" fill="#d8d8d8"/>
<rect x="113.68" y="277.00" width="4.2" height="4.5" fill="#d8d8d8"/>
<rect x="118.60" y="277.00" width="4.2" height="4.5" fill="#dc8a8d"/>
<rect x="123.53" y="277.00" width="4.2" height="4.5" fill="#d8d8d8"/>
<rect x="128.46" y="277.00" width="4.2" height="4.5" fill="#d8d8d8"/>
<rect x="133.38" y="277.00" width="4.2" height="4.5" fill="#d8d8d8"/>
<rect x="138.31" y="277.00" width="4.2" height="4.5" fill="#d8d8d8"/>
<rect x="143.23" y="277.00" width="4.2" height="4.5" fill="#d8d8d8"/>
<rect x="148.16" y="277.00" width="4.2" height="4.5" fill="#d8d8d8"/>
<rect x="153.09" y="277.00" width="4.2" height="4.5" fill="#d8d8d8"/>
<rect x="158.01" y="277.00" width="4.2" height="4.5" fill="#d8d8d8"/>
<rect x="162.94" y="277.00" width="4.2" height="4.5" fill="#f5913c"/>
<rect x="167.86" y="277.00" width="4.2" height="4.5" fill="#d8d8d8"/>
<rect x="172.79" y="277.00" width="4.2" height="4.5" fill="#d8d8d8"/>
<rect x="177.72" y="277.00" width="4.2" height="4.5" fill="#d8d8d8"/>
<rect x="182.64" y="277.00" width="4.2" height="4.5" fill="#d8d8d8"/>
<rect x="187.57" y="277.00" width="4.2" height="4.5" fill="#d8d8d8"/>
<rect x="192.49" y="277.00" width="4.2" height="4.5" fill="#d8d8d8"/>
<rect x="197.42" y="277.00" width="4.2" height="4.5" fill="#d8d8d8"/>
<rect x="202.35" y="277.00" width="4.2" height="4.5" fill="#dc8a8d"/>
<rect x="207.27" y="277.00" width="4.2" height="4.5" fill="#d8d8d8"/>
<rect x="212.20" y="277.00" width="4.2" height="4.5" fill="#d8d8d8"/>
<rect x="217.12" y="277.00" width="4.2" height="4.5" fill="#d8d8d8"/>
<rect x="222.05" y="277.00" width="4.2" height="4.5" fill="#d8d8d8"/>
<rect x="226.98" y="277.00" width="4.2" height="4.5" fill="#dc8a8d"/>
<rect x="231.90" y="277.00" width="4.2" height="4.5" fill="#d8d8d8"/>
<rect x="236.83" y="277.00" width="4.2" height="4.5" fill="#d8d8d8"/>
<rect x="241.75" y="277.00" width="4.2" height="4.5" fill="#d8d8d8"/>
<rect x="246.68" y="277.00" width="4.2" height="4.5" fill="#d8d8d8"/>
<rect x="251.61" y="277.00" width="4.2" height="4.5" fill="#d8d8d8"/>
<rect x="256.53" y="277.00" width="4.2" height="4.5" fill="#d8d8d8"/>
<rect x="261.46" y="277.00" width="4.2" height="4.5" fill="#d8d8d8"/>
<rect x="266.38" y="277.00" width="4.2" height="4.5" fill="#d8d8d8"/>
<rect x="271.31" y="277.00" width="4.2" height="4.5" fill="#d8d8d8"/>
<rect x="276.24" y="277.00" width="4.2" height="4.5" fill="#d8d8d8"/>
<rect x="281.16" y="277.00" width="4.2" height="4.5" fill="#d8d8d8"/>
<rect x="286.09" y="277.00" width="4.2" height="4.5" fill="#d8d8d8"/>
<rect x="291.01" y="277.00" width="4.2" height="4.5" fill="#d8d8d8"/>
<rect x="295.94" y="277.00" width="4.2" height="4.5" fill="#d8d8d8"/>
<rect x="300.87" y="277.00" width="4.2" height="4.5" fill="#d8d8d8"/>
<rect x="305.79" y="277.00" width="4.2" height="4.5" fill="#d8d8d8"/>
<rect x="310.72" y="277.00" width="4.2" height="4.5" fill="#d8d8d8"/>
<rect x="315.64" y="277.00" width="4.2" height="4.5" fill="#d8d8d8"/>
<rect x="320.57" y="277.00" width="4.2" height="4.5" fill="#d8d8d8"/>
<rect x="325.50" y="277.00" width="4.2" height="4.5" fill="#d8d8d8"/>
<rect x="330.42" y="277.00" width="4.2" height="4.5" fill="#d8d8d8"/>
<rect x="335.35" y="277.00" width="4.2" height="4.5" fill="#d8d8d8"/>
<rect x="340.27" y="277.00" width="4.2" height="4.5" fill="#d8d8d8"/>
<rect x="345.20" y="277.00" width="4.2" height="4.5" fill="#dc8a8d"/>
<rect x="350.13" y="277.00" width="4.2" height="4.5" fill="#d8d8d8"/>
<rect x="355.05" y="277.00" width="4.2" height="4.5" fill="#d8d8d8"/>
<rect x="359.98" y="277.00" width="4.2" height="4.5" fill="#dc8a8d"/>
<rect x="364.90" y="277.00" width="4.2" height="4.5" fill="#d8d8d8"/>
<rect x="369.83" y="277.00" width="4.2" height="4.5" fill="#d8d8d8"/>
<rect x="374.76" y="277.00" width="4.2" height="4.5" fill="#d8d8d8"/>
<rect x="379.68" y="277.00" width="4.2" height="4.5" fill="#d8d8d8"/>
<rect x="384.61" y="277.00" width="4.2" height="4.5" fill="#d8d8d8"/>
<rect x="389.53" y="277.00" width="4.2" height="4.5" fill="#d8d8d8"/>
<rect x="394.46" y="277.00" width="4.2" height="4.5" fill="#d8d8d8"/>
<rect x="399.39" y="277.00" width="4.2" height="4.5" fill="#d8d8d8"/>
<rect x="404.31" y="277.00" width="4.2" height="4.5" fill="#d8d8d8"/>
<rect x="409.24" y="277.00" width="4.2" height="4.5" fill="#d8d8d8"/>
<rect x="414.16" y="277.00" width="4.2" height="4.5" fill="#d8d8d8"/>
<rect x="419.09" y="277.00" width="4.2" height="4.5" fill="#d8d8d8"/>
<rect x="424.02" y="277.00" width="4.2" height="4.5" fill="#d8d8d8"/>
<rect x="428.94" y="277.00" width="4.2" height="4.5" fill="#d8d8d8"/>
<rect x="433.87" y="277.00" width="4.2" height="4.5" fill="#d8d8d8"/>
<rect x="438.79" y="277.00" width="4.2" height="4.5" fill="#d8d8d8"/>
<text transform="translate(73.21,281.10) scale(0.872,1)" font-size="4.8" fill="#5e5e5e" font-style="italic" >ATM</text>
<rect x="443.8" y="277.00" width="2.47" height="4.5" fill="#938a52"/>
<rect x="479.6" y="277.00" width="1.81" height="4.5" fill="#5f8cc7"/>
<text transform="translate(463.52,281.00)" font-size="5.0" fill="#222" >10.3%</text>
<text transform="translate(501.30,281.00)" font-size="5.0" fill="#222" >7.1%</text>
<rect x="98.90" y="282.80" width="4.2" height="4.5" fill="#d8d8d8"/>
<rect x="103.83" y="282.80" width="4.2" height="4.5" fill="#d8d8d8"/>
<rect x="108.75" y="282.80" width="4.2" height="4.5" fill="#d8d8d8"/>
<rect x="113.68" y="282.80" width="4.2" height="4.5" fill="#dc8a8d"/>
<rect x="118.60" y="282.80" width="4.2" height="4.5" fill="#d8d8d8"/>
<rect x="123.53" y="282.80" width="4.2" height="4.5" fill="#d8d8d8"/>
<rect x="128.46" y="282.80" width="4.2" height="4.5" fill="#d8d8d8"/>
<rect x="133.38" y="282.80" width="4.2" height="4.5" fill="#d8d8d8"/>
<rect x="138.31" y="282.80" width="4.2" height="4.5" fill="#d8d8d8"/>
<rect x="143.23" y="282.80" width="4.2" height="4.5" fill="#d8d8d8"/>
<rect x="148.16" y="282.80" width="4.2" height="4.5" fill="#d8d8d8"/>
<rect x="153.09" y="282.80" width="4.2" height="4.5" fill="#d8d8d8"/>
<rect x="158.01" y="282.80" width="4.2" height="4.5" fill="#d8d8d8"/>
<rect x="162.94" y="282.80" width="4.2" height="4.5" fill="#8a8046"/>
<rect x="167.86" y="282.80" width="4.2" height="4.5" fill="#d8d8d8"/>
<rect x="172.79" y="282.80" width="4.2" height="4.5" fill="#d8d8d8"/>
<rect x="177.72" y="282.80" width="4.2" height="4.5" fill="#d8d8d8"/>
<rect x="182.64" y="282.80" width="4.2" height="4.5" fill="#d8d8d8"/>
<rect x="187.57" y="282.80" width="4.2" height="4.5" fill="#d8d8d8"/>
<rect x="192.49" y="282.80" width="4.2" height="4.5" fill="#d8d8d8"/>
<rect x="197.42" y="282.80" width="4.2" height="4.5" fill="#dc8a8d"/>
<rect x="202.35" y="282.80" width="4.2" height="4.5" fill="#dc8a8d"/>
<rect x="207.27" y="282.80" width="4.2" height="4.5" fill="#d8d8d8"/>
<rect x="212.20" y="282.80" width="4.2" height="4.5" fill="#d8d8d8"/>
<rect x="217.12" y="282.80" width="4.2" height="4.5" fill="#d8d8d8"/>
<rect x="222.05" y="282.80" width="4.2" height="4.5" fill="#d8d8d8"/>
<rect x="226.98" y="282.80" width="4.2" height="4.5" fill="#d8d8d8"/>
<rect x="231.90" y="282.80" width="4.2" height="4.5" fill="#d8d8d8"/>
<rect x="236.83" y="282.80" width="4.2" height="4.5" fill="#d8d8d8"/>
<rect x="241.75" y="282.80" width="4.2" height="4.5" fill="#d8d8d8"/>
<rect x="246.68" y="282.80" width="4.2" height="4.5" fill="#d8d8d8"/>
<rect x="251.61" y="282.80" width="4.2" height="4.5" fill="#d8d8d8"/>
<rect x="256.53" y="282.80" width="4.2" height="4.5" fill="#d8d8d8"/>
<rect x="261.46" y="282.80" width="4.2" height="4.5" fill="#d8d8d8"/>
<rect x="266.38" y="282.80" width="4.2" height="4.5" fill="#d8d8d8"/>
<rect x="271.31" y="282.80" width="4.2" height="4.5" fill="#d8d8d8"/>
<rect x="276.24" y="282.80" width="4.2" height="4.5" fill="#d8d8d8"/>
<rect x="281.16" y="282.80" width="4.2" height="4.5" fill="#d8d8d8"/>
<rect x="286.09" y="282.80" width="4.2" height="4.5" fill="#d8d8d8"/>
<rect x="291.01" y="282.80" width="4.2" height="4.5" fill="#d8d8d8"/>
<rect x="295.94" y="282.80" width="4.2" height="4.5" fill="#d8d8d8"/>
<rect x="300.87" y="282.80" width="4.2" height="4.5" fill="#d8d8d8"/>
<rect x="305.79" y="282.80" width="4.2" height="4.5" fill="#d8d8d8"/>
<rect x="310.72" y="282.80" width="4.2" height="4.5" fill="#dc8a8d"/>
<rect x="315.64" y="282.80" width="4.2" height="4.5" fill="#d8d8d8"/>
<rect x="320.57" y="282.80" width="4.2" height="4.5" fill="#d8d8d8"/>
<rect x="325.50" y="282.80" width="4.2" height="4.5" fill="#d8d8d8"/>
<rect x="330.42" y="282.80" width="4.2" height="4.5" fill="#d8d8d8"/>
<rect x="335.35" y="282.80" width="4.2" height="4.5" fill="#d8d8d8"/>
<rect x="340.27" y="282.80" width="4.2" height="4.5" fill="#d8d8d8"/>
<rect x="345.20" y="282.80" width="4.2" height="4.5" fill="#d8d8d8"/>
<rect x="350.13" y="282.80" width="4.2" height="4.5" fill="#d8d8d8"/>
<rect x="355.05" y="282.80" width="4.2" height="4.5" fill="#d8d8d8"/>
<rect x="359.98" y="282.80" width="4.2" height="4.5" fill="#d8d8d8"/>
<rect x="364.90" y="282.80" width="4.2" height="4.5" fill="#d8d8d8"/>
<rect x="369.83" y="282.80" width="4.2" height="4.5" fill="#d8d8d8"/>
<rect x="374.76" y="282.80" width="4.2" height="4.5" fill="#d8d8d8"/>
<rect x="379.68" y="282.80" width="4.2" height="4.5" fill="#d8d8d8"/>
<rect x="384.61" y="282.80" width="4.2" height="4.5" fill="#d8d8d8"/>
<rect x="389.53" y="282.80" width="4.2" height="4.5" fill="#d8d8d8"/>
<rect x="394.46" y="282.80" width="4.2" height="4.5" fill="#d8d8d8"/>
<rect x="399.39" y="282.80" width="4.2" height="4.5" fill="#d8d8d8"/>
<rect x="404.31" y="282.80" width="4.2" height="4.5" fill="#d8d8d8"/>
<rect x="409.24" y="282.80" width="4.2" height="4.5" fill="#d8d8d8"/>
<rect x="414.16" y="282.80" width="4.2" height="4.5" fill="#d8d8d8"/>
<rect x="419.09" y="282.80" width="4.2" height="4.5" fill="#d8d8d8"/>
<rect x="424.02" y="282.80" width="4.2" height="4.5" fill="#d8d8d8"/>
<rect x="428.94" y="282.80" width="4.2" height="4.5" fill="#d8d8d8"/>
<rect x="433.87" y="282.80" width="4.2" height="4.5" fill="#d8d8d8"/>
<rect x="438.79" y="282.80" width="4.2" height="4.5" fill="#d8d8d8"/>
<text transform="translate(73.00,286.90) scale(0.978,1)" font-size="4.8" fill="#5e5e5e" font-style="italic" >NEIL3</text>
<rect x="443.8" y="282.80" width="2.06" height="4.5" fill="#938a52"/>
<rect x="479.6" y="282.80" width="2.73" height="4.5" fill="#5f8cc7"/>
<text transform="translate(466.30,286.80)" font-size="5.0" fill="#222" >8.6%</text>
<text transform="translate(498.53,286.80)" font-size="5.0" fill="#222" >10.7%</text>
<rect x="98.90" y="289.30" width="4.2" height="4.5" fill="#d8d8d8"/>
<rect x="103.83" y="289.30" width="4.2" height="4.5" fill="#d8d8d8"/>
<rect x="108.75" y="289.30" width="4.2" height="4.5" fill="#d8d8d8"/>
<rect x="113.68" y="289.30" width="4.2" height="4.5" fill="#dc8a8d"/>
<rect x="118.60" y="289.30" width="4.2" height="4.5" fill="#d8d8d8"/>
<rect x="123.53" y="289.30" width="4.2" height="4.5" fill="#d8d8d8"/>
<rect x="128.46" y="289.30" width="4.2" height="4.5" fill="#d8d8d8"/>
<rect x="133.38" y="289.30" width="4.2" height="4.5" fill="#d8d8d8"/>
<rect x="138.31" y="289.30" width="4.2" height="4.5" fill="#d8d8d8"/>
<rect x="143.23" y="289.30" width="4.2" height="4.5" fill="#d8d8d8"/>
<rect x="148.16" y="289.30" width="4.2" height="4.5" fill="#d8d8d8"/>
<rect x="153.09" y="289.30" width="4.2" height="4.5" fill="#d8d8d8"/>
<rect x="158.01" y="289.30" width="4.2" height="4.5" fill="#d8d8d8"/>
<rect x="162.94" y="289.30" width="4.2" height="4.5" fill="#d8d8d8"/>
<rect x="167.86" y="289.30" width="4.2" height="4.5" fill="#d8d8d8"/>
<rect x="172.79" y="289.30" width="4.2" height="4.5" fill="#dc8a8d"/>
<rect x="177.72" y="289.30" width="4.2" height="4.5" fill="#d8d8d8"/>
<rect x="182.64" y="289.30" width="4.2" height="4.5" fill="#d8d8d8"/>
<rect x="187.57" y="289.30" width="4.2" height="4.5" fill="#d8d8d8"/>
<rect x="192.49" y="289.30" width="4.2" height="4.5" fill="#d8d8d8"/>
<rect x="197.42" y="289.30" width="4.2" height="4.5" fill="#dc8a8d"/>
<rect x="202.35" y="289.30" width="4.2" height="4.5" fill="#d8d8d8"/>
<rect x="207.27" y="289.30" width="4.2" height="4.5" fill="#d8d8d8"/>
<rect x="212.20" y="289.30" width="4.2" height="4.5" fill="#d8d8d8"/>
<rect x="217.12" y="289.30" width="4.2" height="4.5" fill="#d8d8d8"/>
<rect x="222.05" y="289.30" width="4.2" height="4.5" fill="#dc8a8d"/>
<rect x="226.98" y="289.30" width="4.2" height="4.5" fill="#d8d8d8"/>
<rect x="231.90" y="289.30" width="4.2" height="4.5" fill="#d8d8d8"/>
<rect x="236.83" y="289.30" width="4.2" height="4.5" fill="#d8d8d8"/>
<rect x="241.75" y="289.30" width="4.2" height="4.5" fill="#d8d8d8"/>
<rect x="246.68" y="289.30" width="4.2" height="4.5" fill="#d8d8d8"/>
<rect x="251.61" y="289.30" width="4.2" height="4.5" fill="#d8d8d8"/>
<rect x="256.53" y="289.30" width="4.2" height="4.5" fill="#d8d8d8"/>
<rect x="261.46" y="289.30" width="4.2" height="4.5" fill="#d8d8d8"/>
<rect x="266.38" y="289.30" width="4.2" height="4.5" fill="#d8d8d8"/>
<rect x="271.31" y="289.30" width="4.2" height="4.5" fill="#d8d8d8"/>
<rect x="276.24" y="289.30" width="4.2" height="4.5" fill="#d8d8d8"/>
<rect x="281.16" y="289.30" width="4.2" height="4.5" fill="#d8d8d8"/>
<rect x="286.09" y="289.30" width="4.2" height="4.5" fill="#d8d8d8"/>
<rect x="291.01" y="289.30" width="4.2" height="4.5" fill="#d8d8d8"/>
<rect x="295.94" y="289.30" width="4.2" height="4.5" fill="#d8d8d8"/>
<rect x="300.87" y="289.30" width="4.2" height="4.5" fill="#d8d8d8"/>
<rect x="305.79" y="289.30" width="4.2" height="4.5" fill="#d8d8d8"/>
<rect x="310.72" y="289.30" width="4.2" height="4.5" fill="#d8d8d8"/>
<rect x="315.64" y="289.30" width="4.2" height="4.5" fill="#d8d8d8"/>
<rect x="320.57" y="289.30" width="4.2" height="4.5" fill="#d8d8d8"/>
<rect x="325.50" y="289.30" width="4.2" height="4.5" fill="#dc8a8d"/>
<rect x="330.42" y="289.30" width="4.2" height="4.5" fill="#7c5ea8"/>
<rect x="335.35" y="289.30" width="4.2" height="4.5" fill="#d8d8d8"/>
<rect x="340.27" y="289.30" width="4.2" height="4.5" fill="#d8d8d8"/>
<rect x="345.20" y="289.30" width="4.2" height="4.5" fill="#dc8a8d"/>
<rect x="350.13" y="289.30" width="4.2" height="4.5" fill="#d8d8d8"/>
<rect x="355.05" y="289.30" width="4.2" height="4.5" fill="#dc8a8d"/>
<rect x="359.98" y="289.30" width="4.2" height="4.5" fill="#d8d8d8"/>
<rect x="364.90" y="289.30" width="4.2" height="4.5" fill="#d8d8d8"/>
<rect x="369.83" y="289.30" width="4.2" height="4.5" fill="#d8d8d8"/>
<rect x="374.76" y="289.30" width="4.2" height="4.5" fill="#d8d8d8"/>
<rect x="379.68" y="289.30" width="4.2" height="4.5" fill="#d8d8d8"/>
<rect x="384.61" y="289.30" width="4.2" height="4.5" fill="#d8d8d8"/>
<rect x="389.53" y="289.30" width="4.2" height="4.5" fill="#d8d8d8"/>
<rect x="394.46" y="289.30" width="4.2" height="4.5" fill="#d8d8d8"/>
<rect x="399.39" y="289.30" width="4.2" height="4.5" fill="#d8d8d8"/>
<rect x="404.31" y="289.30" width="4.2" height="4.5" fill="#d8d8d8"/>
<rect x="409.24" y="289.30" width="4.2" height="4.5" fill="#d8d8d8"/>
<rect x="414.16" y="289.30" width="4.2" height="4.5" fill="#d8d8d8"/>
<rect x="419.09" y="289.30" width="4.2" height="4.5" fill="#d8d8d8"/>
<rect x="424.02" y="289.30" width="4.2" height="4.5" fill="#d8d8d8"/>
<rect x="428.94" y="289.30" width="4.2" height="4.5" fill="#d8d8d8"/>
<rect x="433.87" y="289.30" width="4.2" height="4.5" fill="#d8d8d8"/>
<rect x="438.79" y="289.30" width="4.2" height="4.5" fill="#d8d8d8"/>
<text transform="translate(73.23,293.40) scale(0.954,1)" font-size="4.8" fill="#5e5e5e" font-style="italic" >ACACB</text>
<rect x="443.8" y="289.30" width="3.31" height="4.5" fill="#938a52"/>
<rect x="479.6" y="289.30" width="3.65" height="4.5" fill="#5f8cc7"/>
<text transform="translate(463.52,293.30)" font-size="5.0" fill="#222" >13.8%</text>
<text transform="translate(498.53,293.30)" font-size="5.0" fill="#222" >14.3%</text>
<rect x="98.90" y="295.00" width="4.2" height="4.5" fill="#d8d8d8"/>
<rect x="103.83" y="295.00" width="4.2" height="4.5" fill="#d8d8d8"/>
<rect x="108.75" y="295.00" width="4.2" height="4.5" fill="#d8d8d8"/>
<rect x="113.68" y="295.00" width="4.2" height="4.5" fill="#d8d8d8"/>
<rect x="118.60" y="295.00" width="4.2" height="4.5" fill="#d8d8d8"/>
<rect x="123.53" y="295.00" width="4.2" height="4.5" fill="#d8d8d8"/>
<rect x="128.46" y="295.00" width="4.2" height="4.5" fill="#d8d8d8"/>
<rect x="133.38" y="295.00" width="4.2" height="4.5" fill="#d8d8d8"/>
<rect x="138.31" y="295.00" width="4.2" height="4.5" fill="#d8d8d8"/>
<rect x="143.23" y="295.00" width="4.2" height="4.5" fill="#d8d8d8"/>
<rect x="148.16" y="295.00" width="4.2" height="4.5" fill="#d8d8d8"/>
<rect x="153.09" y="295.00" width="4.2" height="4.5" fill="#d8d8d8"/>
<rect x="158.01" y="295.00" width="4.2" height="4.5" fill="#d8d8d8"/>
<rect x="162.94" y="295.00" width="4.2" height="4.5" fill="#d8d8d8"/>
<rect x="167.86" y="295.00" width="4.2" height="4.5" fill="#d8d8d8"/>
<rect x="172.79" y="295.00" width="4.2" height="4.5" fill="#d8d8d8"/>
<rect x="177.72" y="295.00" width="4.2" height="4.5" fill="#d8d8d8"/>
<rect x="182.64" y="295.00" width="4.2" height="4.5" fill="#d8d8d8"/>
<rect x="187.57" y="295.00" width="4.2" height="4.5" fill="#d8d8d8"/>
<rect x="192.49" y="295.00" width="4.2" height="4.5" fill="#d8d8d8"/>
<rect x="197.42" y="295.00" width="4.2" height="4.5" fill="#d8d8d8"/>
<rect x="202.35" y="295.00" width="4.2" height="4.5" fill="#d8d8d8"/>
<rect x="207.27" y="295.00" width="4.2" height="4.5" fill="#d8d8d8"/>
<rect x="212.20" y="295.00" width="4.2" height="4.5" fill="#d8d8d8"/>
<rect x="217.12" y="295.00" width="4.2" height="4.5" fill="#d8d8d8"/>
<rect x="222.05" y="295.00" width="4.2" height="4.5" fill="#d8d8d8"/>
<rect x="226.98" y="295.00" width="4.2" height="4.5" fill="#d8d8d8"/>
<rect x="231.90" y="295.00" width="4.2" height="4.5" fill="#d8d8d8"/>
<rect x="236.83" y="295.00" width="4.2" height="4.5" fill="#d8d8d8"/>
<rect x="241.75" y="295.00" width="4.2" height="4.5" fill="#d8d8d8"/>
<rect x="246.68" y="295.00" width="4.2" height="4.5" fill="#d8d8d8"/>
<rect x="251.61" y="295.00" width="4.2" height="4.5" fill="#d8d8d8"/>
<rect x="256.53" y="295.00" width="4.2" height="4.5" fill="#d8d8d8"/>
<rect x="261.46" y="295.00" width="4.2" height="4.5" fill="#d8d8d8"/>
<rect x="266.38" y="295.00" width="4.2" height="4.5" fill="#d8d8d8"/>
<rect x="271.31" y="295.00" width="4.2" height="4.5" fill="#d8d8d8"/>
<rect x="276.24" y="295.00" width="4.2" height="4.5" fill="#d8d8d8"/>
<rect x="281.16" y="295.00" width="4.2" height="4.5" fill="#d8d8d8"/>
<rect x="286.09" y="295.00" width="4.2" height="4.5" fill="#dc8a8d"/>
<rect x="291.01" y="295.00" width="4.2" height="4.5" fill="#d8d8d8"/>
<rect x="295.94" y="295.00" width="4.2" height="4.5" fill="#d8d8d8"/>
<rect x="300.87" y="295.00" width="4.2" height="4.5" fill="#d8d8d8"/>
<rect x="305.79" y="295.00" width="4.2" height="4.5" fill="#d8d8d8"/>
<rect x="310.72" y="295.00" width="4.2" height="4.5" fill="#d8d8d8"/>
<rect x="315.64" y="295.00" width="4.2" height="4.5" fill="#d8d8d8"/>
<rect x="320.57" y="295.00" width="4.2" height="4.5" fill="#d8d8d8"/>
<rect x="325.50" y="295.00" width="4.2" height="4.5" fill="#d8d8d8"/>
<rect x="330.42" y="295.00" width="4.2" height="4.5" fill="#d8d8d8"/>
<rect x="335.35" y="295.00" width="4.2" height="4.5" fill="#d8d8d8"/>
<rect x="340.27" y="295.00" width="4.2" height="4.5" fill="#d8d8d8"/>
<rect x="345.20" y="295.00" width="4.2" height="4.5" fill="#d8d8d8"/>
<rect x="350.13" y="295.00" width="4.2" height="4.5" fill="#d8d8d8"/>
<rect x="355.05" y="295.00" width="4.2" height="4.5" fill="#d8d8d8"/>
<rect x="359.98" y="295.00" width="4.2" height="4.5" fill="#dc8a8d"/>
<rect x="364.90" y="295.00" width="4.2" height="4.5" fill="#dc8a8d"/>
<rect x="369.83" y="295.00" width="4.2" height="4.5" fill="#d8d8d8"/>
<rect x="374.76" y="295.00" width="4.2" height="4.5" fill="#d8d8d8"/>
<rect x="379.68" y="295.00" width="4.2" height="4.5" fill="#d8d8d8"/>
<rect x="384.61" y="295.00" width="4.2" height="4.5" fill="#d8d8d8"/>
<rect x="389.53" y="295.00" width="4.2" height="4.5" fill="#d8d8d8"/>
<rect x="394.46" y="295.00" width="4.2" height="4.5" fill="#d8d8d8"/>
<rect x="399.39" y="295.00" width="4.2" height="4.5" fill="#d8d8d8"/>
<rect x="404.31" y="295.00" width="4.2" height="4.5" fill="#d8d8d8"/>
<rect x="409.24" y="295.00" width="4.2" height="4.5" fill="#d8d8d8"/>
<rect x="414.16" y="295.00" width="4.2" height="4.5" fill="#d8d8d8"/>
<rect x="419.09" y="295.00" width="4.2" height="4.5" fill="#d8d8d8"/>
<rect x="424.02" y="295.00" width="4.2" height="4.5" fill="#d8d8d8"/>
<rect x="428.94" y="295.00" width="4.2" height="4.5" fill="#d8d8d8"/>
<rect x="433.87" y="295.00" width="4.2" height="4.5" fill="#d8d8d8"/>
<rect x="438.79" y="295.00" width="4.2" height="4.5" fill="#d8d8d8"/>
<text transform="translate(73.00,299.10) scale(1.066,1)" font-size="4.8" fill="#5e5e5e" font-style="italic" >MLKL*</text>
<rect x="443.8" y="295.00" width="1.25" height="4.5" fill="#938a52"/>
<rect x="479.6" y="295.00" width="0.92" height="4.5" fill="#5f8cc7"/>
<text transform="translate(466.30,299.00)" font-size="5.0" fill="#222" >5.2%</text>
<text transform="translate(501.30,299.00)" font-size="5.0" fill="#222" >3.6%</text>
<rect x="98.90" y="300.70" width="4.2" height="4.5" fill="#d8d8d8"/>
<rect x="103.83" y="300.70" width="4.2" height="4.5" fill="#8cbb4c"/>
<rect x="108.75" y="300.70" width="4.2" height="4.5" fill="#d8d8d8"/>
<rect x="113.68" y="300.70" width="4.2" height="4.5" fill="#d8d8d8"/>
<rect x="118.60" y="300.70" width="4.2" height="4.5" fill="#d8d8d8"/>
<rect x="123.53" y="300.70" width="4.2" height="4.5" fill="#d8d8d8"/>
<rect x="128.46" y="300.70" width="4.2" height="4.5" fill="#dc8a8d"/>
<rect x="133.38" y="300.70" width="4.2" height="4.5" fill="#d8d8d8"/>
<rect x="138.31" y="300.70" width="4.2" height="4.5" fill="#d8d8d8"/>
<rect x="143.23" y="300.70" width="4.2" height="4.5" fill="#d8d8d8"/>
<rect x="148.16" y="300.70" width="4.2" height="4.5" fill="#d8d8d8"/>
<rect x="153.09" y="300.70" width="4.2" height="4.5" fill="#d8d8d8"/>
<rect x="158.01" y="300.70" width="4.2" height="4.5" fill="#d8d8d8"/>
<rect x="162.94" y="300.70" width="4.2" height="4.5" fill="#8a8046"/>
<rect x="167.86" y="300.70" width="4.2" height="4.5" fill="#d8d8d8"/>
<rect x="172.79" y="300.70" width="4.2" height="4.5" fill="#d8d8d8"/>
<rect x="177.72" y="300.70" width="4.2" height="4.5" fill="#d8d8d8"/>
<rect x="182.64" y="300.70" width="4.2" height="4.5" fill="#d8d8d8"/>
<rect x="187.57" y="300.70" width="4.2" height="4.5" fill="#d8d8d8"/>
<rect x="192.49" y="300.70" width="4.2" height="4.5" fill="#d8d8d8"/>
<rect x="197.42" y="300.70" width="4.2" height="4.5" fill="#d8d8d8"/>
<rect x="202.35" y="300.70" width="4.2" height="4.5" fill="#d8d8d8"/>
<rect x="207.27" y="300.70" width="4.2" height="4.5" fill="#d8d8d8"/>
<rect x="212.20" y="300.70" width="4.2" height="4.5" fill="#d8d8d8"/>
<rect x="217.12" y="300.70" width="4.2" height="4.5" fill="#d8d8d8"/>
<rect x="222.05" y="300.70" width="4.2" height="4.5" fill="#d8d8d8"/>
<rect x="226.98" y="300.70" width="4.2" height="4.5" fill="#d8d8d8"/>
<rect x="231.90" y="300.70" width="4.2" height="4.5" fill="#d8d8d8"/>
<rect x="236.83" y="300.70" width="4.2" height="4.5" fill="#d8d8d8"/>
<rect x="241.75" y="300.70" width="4.2" height="4.5" fill="#d8d8d8"/>
<rect x="246.68" y="300.70" width="4.2" height="4.5" fill="#d8d8d8"/>
<rect x="251.61" y="300.70" width="4.2" height="4.5" fill="#d8d8d8"/>
<rect x="256.53" y="300.70" width="4.2" height="4.5" fill="#d8d8d8"/>
<rect x="261.46" y="300.70" width="4.2" height="4.5" fill="#d8d8d8"/>
<rect x="266.38" y="300.70" width="4.2" height="4.5" fill="#d8d8d8"/>
<rect x="271.31" y="300.70" width="4.2" height="4.5" fill="#d8d8d8"/>
<rect x="276.24" y="300.70" width="4.2" height="4.5" fill="#d8d8d8"/>
<rect x="281.16" y="300.70" width="4.2" height="4.5" fill="#d8d8d8"/>
<rect x="286.09" y="300.70" width="4.2" height="4.5" fill="#8cbb4c"/>
<rect x="291.01" y="300.70" width="4.2" height="4.5" fill="#d8d8d8"/>
<rect x="295.94" y="300.70" width="4.2" height="4.5" fill="#d8d8d8"/>
<rect x="300.87" y="300.70" width="4.2" height="4.5" fill="#d8d8d8"/>
<rect x="305.79" y="300.70" width="4.2" height="4.5" fill="#d8d8d8"/>
<rect x="310.72" y="300.70" width="4.2" height="4.5" fill="#d8d8d8"/>
<rect x="315.64" y="300.70" width="4.2" height="4.5" fill="#dc8a8d"/>
<rect x="320.57" y="300.70" width="4.2" height="4.5" fill="#d8d8d8"/>
<rect x="325.50" y="300.70" width="4.2" height="4.5" fill="#dc8a8d"/>
<rect x="330.42" y="300.70" width="4.2" height="4.5" fill="#dc8a8d"/>
<rect x="335.35" y="300.70" width="4.2" height="4.5" fill="#d8d8d8"/>
<rect x="340.27" y="300.70" width="4.2" height="4.5" fill="#d8d8d8"/>
<rect x="345.20" y="300.70" width="4.2" height="4.5" fill="#d8d8d8"/>
<rect x="350.13" y="300.70" width="4.2" height="4.5" fill="#d8d8d8"/>
<rect x="355.05" y="300.70" width="4.2" height="4.5" fill="#dc8a8d"/>
<rect x="359.98" y="300.70" width="4.2" height="4.5" fill="#d8d8d8"/>
<rect x="364.90" y="300.70" width="4.2" height="4.5" fill="#dc8a8d"/>
<rect x="369.83" y="300.70" width="4.2" height="4.5" fill="#d8d8d8"/>
<rect x="374.76" y="300.70" width="4.2" height="4.5" fill="#d8d8d8"/>
<rect x="379.68" y="300.70" width="4.2" height="4.5" fill="#d8d8d8"/>
<rect x="384.61" y="300.70" width="4.2" height="4.5" fill="#d8d8d8"/>
<rect x="389.53" y="300.70" width="4.2" height="4.5" fill="#d8d8d8"/>
<rect x="394.46" y="300.70" width="4.2" height="4.5" fill="#d8d8d8"/>
<rect x="399.39" y="300.70" width="4.2" height="4.5" fill="#d8d8d8"/>
<rect x="404.31" y="300.70" width="4.2" height="4.5" fill="#d8d8d8"/>
<rect x="409.24" y="300.70" width="4.2" height="4.5" fill="#d8d8d8"/>
<rect x="414.16" y="300.70" width="4.2" height="4.5" fill="#d8d8d8"/>
<rect x="419.09" y="300.70" width="4.2" height="4.5" fill="#d8d8d8"/>
<rect x="424.02" y="300.70" width="4.2" height="4.5" fill="#d8d8d8"/>
<rect x="428.94" y="300.70" width="4.2" height="4.5" fill="#d8d8d8"/>
<rect x="433.87" y="300.70" width="4.2" height="4.5" fill="#d8d8d8"/>
<rect x="438.79" y="300.70" width="4.2" height="4.5" fill="#d8d8d8"/>
<text transform="translate(73.00,304.80) scale(0.938,1)" font-size="4.8" fill="#5e5e5e" font-style="italic" >PIEZO1</text>
<rect x="443.8" y="300.70" width="3.72" height="4.5" fill="#938a52"/>
<rect x="479.6" y="300.70" width="6.38" height="4.5" fill="#5f8cc7"/>
<text transform="translate(463.52,304.70)" font-size="5.0" fill="#222" >15.5%</text>
<text transform="translate(498.53,304.70)" font-size="5.0" fill="#222" >25.0%</text>
<rect x="98.90" y="306.60" width="4.2" height="4.5" fill="#d8d8d8"/>
<rect x="103.83" y="306.60" width="4.2" height="4.5" fill="#d8d8d8"/>
<rect x="108.75" y="306.60" width="4.2" height="4.5" fill="#d8d8d8"/>
<rect x="113.68" y="306.60" width="4.2" height="4.5" fill="#d8d8d8"/>
<rect x="118.60" y="306.60" width="4.2" height="4.5" fill="#d8d8d8"/>
<rect x="123.53" y="306.60" width="4.2" height="4.5" fill="#d8d8d8"/>
<rect x="128.46" y="306.60" width="4.2" height="4.5" fill="#d8d8d8"/>
<rect x="133.38" y="306.60" width="4.2" height="4.5" fill="#d8d8d8"/>
<rect x="138.31" y="306.60" width="4.2" height="4.5" fill="#d8d8d8"/>
<rect x="143.23" y="306.60" width="4.2" height="4.5" fill="#d8d8d8"/>
<rect x="148.16" y="306.60" width="4.2" height="4.5" fill="#d8d8d8"/>
<rect x="153.09" y="306.60" width="4.2" height="4.5" fill="#d8d8d8"/>
<rect x="158.01" y="306.60" width="4.2" height="4.5" fill="#d8d8d8"/>
<rect x="162.94" y="306.60" width="4.2" height="4.5" fill="#8a8046"/>
<rect x="167.86" y="306.60" width="4.2" height="4.5" fill="#d8d8d8"/>
<rect x="172.79" y="306.60" width="4.2" height="4.5" fill="#d8d8d8"/>
<rect x="177.72" y="306.60" width="4.2" height="4.5" fill="#d8d8d8"/>
<rect x="182.64" y="306.60" width="4.2" height="4.5" fill="#d8d8d8"/>
<rect x="187.57" y="306.60" width="4.2" height="4.5" fill="#d8d8d8"/>
<rect x="192.49" y="306.60" width="4.2" height="4.5" fill="#d8d8d8"/>
<rect x="197.42" y="306.60" width="4.2" height="4.5" fill="#d8d8d8"/>
<rect x="202.35" y="306.60" width="4.2" height="4.5" fill="#d8d8d8"/>
<rect x="207.27" y="306.60" width="4.2" height="4.5" fill="#d8d8d8"/>
<rect x="212.20" y="306.60" width="4.2" height="4.5" fill="#d8d8d8"/>
<rect x="217.12" y="306.60" width="4.2" height="4.5" fill="#d8d8d8"/>
<rect x="222.05" y="306.60" width="4.2" height="4.5" fill="#d8d8d8"/>
<rect x="226.98" y="306.60" width="4.2" height="4.5" fill="#d8d8d8"/>
<rect x="231.90" y="306.60" width="4.2" height="4.5" fill="#d8d8d8"/>
<rect x="236.83" y="306.60" width="4.2" height="4.5" fill="#d8d8d8"/>
<rect x="241.75" y="306.60" width="4.2" height="4.5" fill="#d8d8d8"/>
<rect x="246.68" y="306.60" width="4.2" height="4.5" fill="#d8d8d8"/>
<rect x="251.61" y="306.60" width="4.2" height="4.5" fill="#d8d8d8"/>
<rect x="256.53" y="306.60" width="4.2" height="4.5" fill="#d8d8d8"/>
<rect x="261.46" y="306.60" width="4.2" height="4.5" fill="#d8d8d8"/>
<rect x="266.38" y="306.60" width="4.2" height="4.5" fill="#d8d8d8"/>
<rect x="271.31" y="306.60" width="4.2" height="4.5" fill="#d8d8d8"/>
<rect x="276.24" y="306.60" width="4.2" height="4.5" fill="#d8d8d8"/>
<rect x="281.16" y="306.60" width="4.2" height="4.5" fill="#d8d8d8"/>
<rect x="286.09" y="306.60" width="4.2" height="4.5" fill="#d8d8d8"/>
<rect x="291.01" y="306.60" width="4.2" height="4.5" fill="#d8d8d8"/>
<rect x="295.94" y="306.60" width="4.2" height="4.5" fill="#d8d8d8"/>
<rect x="300.87" y="306.60" width="4.2" height="4.5" fill="#3fa3c8"/>
<rect x="305.79" y="306.60" width="4.2" height="4.5" fill="#d8d8d8"/>
<rect x="310.72" y="306.60" width="4.2" height="4.5" fill="#d8d8d8"/>
<rect x="315.64" y="306.60" width="4.2" height="4.5" fill="#dc8a8d"/>
<rect x="320.57" y="306.60" width="4.2" height="4.5" fill="#d8d8d8"/>
<rect x="325.50" y="306.60" width="4.2" height="4.5" fill="#8a8046"/>
<rect x="330.42" y="306.60" width="4.2" height="4.5" fill="#d8d8d8"/>
<rect x="335.35" y="306.60" width="4.2" height="4.5" fill="#d8d8d8"/>
<rect x="340.27" y="306.60" width="4.2" height="4.5" fill="#d8d8d8"/>
<rect x="345.20" y="306.60" width="4.2" height="4.5" fill="#d8d8d8"/>
<rect x="350.13" y="306.60" width="4.2" height="4.5" fill="#d8d8d8"/>
<rect x="355.05" y="306.60" width="4.2" height="4.5" fill="#d8d8d8"/>
<rect x="359.98" y="306.60" width="4.2" height="4.5" fill="#dc8a8d"/>
<rect x="364.90" y="306.60" width="4.2" height="4.5" fill="#d8d8d8"/>
<rect x="369.83" y="306.60" width="4.2" height="4.5" fill="#dc8a8d"/>
<rect x="374.76" y="306.60" width="4.2" height="4.5" fill="#d8d8d8"/>
<rect x="379.68" y="306.60" width="4.2" height="4.5" fill="#d8d8d8"/>
<rect x="384.61" y="306.60" width="4.2" height="4.5" fill="#d8d8d8"/>
<rect x="389.53" y="306.60" width="4.2" height="4.5" fill="#d8d8d8"/>
<rect x="394.46" y="306.60" width="4.2" height="4.5" fill="#d8d8d8"/>
<rect x="399.39" y="306.60" width="4.2" height="4.5" fill="#d8d8d8"/>
<rect x="404.31" y="306.60" width="4.2" height="4.5" fill="#d8d8d8"/>
<rect x="409.24" y="306.60" width="4.2" height="4.5" fill="#d8d8d8"/>
<rect x="414.16" y="306.60" width="4.2" height="4.5" fill="#d8d8d8"/>
<rect x="419.09" y="306.60" width="4.2" height="4.5" fill="#d8d8d8"/>
<rect x="424.02" y="306.60" width="4.2" height="4.5" fill="#d8d8d8"/>
<rect x="428.94" y="306.60" width="4.2" height="4.5" fill="#d8d8d8"/>
<rect x="433.87" y="306.60" width="4.2" height="4.5" fill="#d8d8d8"/>
<rect x="438.79" y="306.60" width="4.2" height="4.5" fill="#d8d8d8"/>
<text transform="translate(73.23,310.70) scale(0.944,1)" font-size="4.8" fill="#5e5e5e" font-style="italic" >A2ML1*</text>
<rect x="443.8" y="306.60" width="2.47" height="4.5" fill="#938a52"/>
<rect x="479.6" y="306.60" width="3.65" height="4.5" fill="#5f8cc7"/>
<text transform="translate(463.52,310.60)" font-size="5.0" fill="#222" >10.3%</text>
<text transform="translate(498.53,310.60)" font-size="5.0" fill="#222" >14.3%</text>
<rect x="98.90" y="312.20" width="4.2" height="4.5" fill="#d8d8d8"/>
<rect x="103.83" y="312.20" width="4.2" height="4.5" fill="#d8d8d8"/>
<rect x="108.75" y="312.20" width="4.2" height="4.5" fill="#d8d8d8"/>
<rect x="113.68" y="312.20" width="4.2" height="4.5" fill="#dc8a8d"/>
<rect x="118.60" y="312.20" width="4.2" height="4.5" fill="#d8d8d8"/>
<rect x="123.53" y="312.20" width="4.2" height="4.5" fill="#f5913c"/>
<rect x="128.46" y="312.20" width="4.2" height="4.5" fill="#d8d8d8"/>
<rect x="133.38" y="312.20" width="4.2" height="4.5" fill="#d8d8d8"/>
<rect x="138.31" y="312.20" width="4.2" height="4.5" fill="#d8d8d8"/>
<rect x="143.23" y="312.20" width="4.2" height="4.5" fill="#d8d8d8"/>
<rect x="148.16" y="312.20" width="4.2" height="4.5" fill="#d8d8d8"/>
<rect x="153.09" y="312.20" width="4.2" height="4.5" fill="#d8d8d8"/>
<rect x="158.01" y="312.20" width="4.2" height="4.5" fill="#d8d8d8"/>
<rect x="162.94" y="312.20" width="4.2" height="4.5" fill="#d8d8d8"/>
<rect x="167.86" y="312.20" width="4.2" height="4.5" fill="#d8d8d8"/>
<rect x="172.79" y="312.20" width="4.2" height="4.5" fill="#d8d8d8"/>
<rect x="177.72" y="312.20" width="4.2" height="4.5" fill="#d8d8d8"/>
<rect x="182.64" y="312.20" width="4.2" height="4.5" fill="#d8d8d8"/>
<rect x="187.57" y="312.20" width="4.2" height="4.5" fill="#d8d8d8"/>
<rect x="192.49" y="312.20" width="4.2" height="4.5" fill="#d8d8d8"/>
<rect x="197.42" y="312.20" width="4.2" height="4.5" fill="#d8d8d8"/>
<rect x="202.35" y="312.20" width="4.2" height="4.5" fill="#d8d8d8"/>
<rect x="207.27" y="312.20" width="4.2" height="4.5" fill="#d8d8d8"/>
<rect x="212.20" y="312.20" width="4.2" height="4.5" fill="#d8d8d8"/>
<rect x="217.12" y="312.20" width="4.2" height="4.5" fill="#d8d8d8"/>
<rect x="222.05" y="312.20" width="4.2" height="4.5" fill="#d8d8d8"/>
<rect x="226.98" y="312.20" width="4.2" height="4.5" fill="#d8d8d8"/>
<rect x="231.90" y="312.20" width="4.2" height="4.5" fill="#d8d8d8"/>
<rect x="236.83" y="312.20" width="4.2" height="4.5" fill="#d8d8d8"/>
<rect x="241.75" y="312.20" width="4.2" height="4.5" fill="#d8d8d8"/>
<rect x="246.68" y="312.20" width="4.2" height="4.5" fill="#d8d8d8"/>
<rect x="251.61" y="312.20" width="4.2" height="4.5" fill="#d8d8d8"/>
<rect x="256.53" y="312.20" width="4.2" height="4.5" fill="#d8d8d8"/>
<rect x="261.46" y="312.20" width="4.2" height="4.5" fill="#d8d8d8"/>
<rect x="266.38" y="312.20" width="4.2" height="4.5" fill="#d8d8d8"/>
<rect x="271.31" y="312.20" width="4.2" height="4.5" fill="#d8d8d8"/>
<rect x="276.24" y="312.20" width="4.2" height="4.5" fill="#d8d8d8"/>
<rect x="281.16" y="312.20" width="4.2" height="4.5" fill="#d8d8d8"/>
<rect x="286.09" y="312.20" width="4.2" height="4.5" fill="#d8d8d8"/>
<rect x="291.01" y="312.20" width="4.2" height="4.5" fill="#d8d8d8"/>
<rect x="295.94" y="312.20" width="4.2" height="4.5" fill="#d8d8d8"/>
<rect x="300.87" y="312.20" width="4.2" height="4.5" fill="#d8d8d8"/>
<rect x="305.79" y="312.20" width="4.2" height="4.5" fill="#d8d8d8"/>
<rect x="310.72" y="312.20" width="4.2" height="4.5" fill="#d8d8d8"/>
<rect x="315.64" y="312.20" width="4.2" height="4.5" fill="#d8d8d8"/>
<rect x="320.57" y="312.20" width="4.2" height="4.5" fill="#d8d8d8"/>
<rect x="325.50" y="312.20" width="4.2" height="4.5" fill="#d8d8d8"/>
<rect x="330.42" y="312.20" width="4.2" height="4.5" fill="#d8d8d8"/>
<rect x="335.35" y="312.20" width="4.2" height="4.5" fill="#dc8a8d"/>
<rect x="340.27" y="312.20" width="4.2" height="4.5" fill="#d8d8d8"/>
<rect x="345.20" y="312.20" width="4.2" height="4.5" fill="#d8d8d8"/>
<rect x="350.13" y="312.20" width="4.2" height="4.5" fill="#d8d8d8"/>
<rect x="355.05" y="312.20" width="4.2" height="4.5" fill="#dc8a8d"/>
<rect x="359.98" y="312.20" width="4.2" height="4.5" fill="#dc8a8d"/>
<rect x="364.90" y="312.20" width="4.2" height="4.5" fill="#d8d8d8"/>
<rect x="369.83" y="312.20" width="4.2" height="4.5" fill="#d8d8d8"/>
<rect x="374.76" y="312.20" width="4.2" height="4.5" fill="#d8d8d8"/>
<rect x="379.68" y="312.20" width="4.2" height="4.5" fill="#d8d8d8"/>
<rect x="384.61" y="312.20" width="4.2" height="4.5" fill="#d8d8d8"/>
<rect x="389.53" y="312.20" width="4.2" height="4.5" fill="#d8d8d8"/>
<rect x="394.46" y="312.20" width="4.2" height="4.5" fill="#d8d8d8"/>
<rect x="399.39" y="312.20" width="4.2" height="4.5" fill="#d8d8d8"/>
<rect x="404.31" y="312.20" width="4.2" height="4.5" fill="#d8d8d8"/>
<rect x="409.24" y="312.20" width="4.2" height="4.5" fill="#d8d8d8"/>
<rect x="414.16" y="312.20" width="4.2" height="4.5" fill="#d8d8d8"/>
<rect x="419.09" y="312.20" width="4.2" height="4.5" fill="#d8d8d8"/>
<rect x="424.02" y="312.20" width="4.2" height="4.5" fill="#d8d8d8"/>
<rect x="428.94" y="312.20" width="4.2" height="4.5" fill="#d8d8d8"/>
<rect x="433.87" y="312.20" width="4.2" height="4.5" fill="#d8d8d8"/>
<rect x="438.79" y="312.20" width="4.2" height="4.5" fill="#d8d8d8"/>
<text transform="translate(73.00,316.30) scale(0.832,1)" font-size="4.8" fill="#5e5e5e" font-style="italic" >MRPS35</text>
<rect x="443.8" y="312.20" width="2.06" height="4.5" fill="#938a52"/>
<rect x="479.6" y="312.20" width="1.81" height="4.5" fill="#5f8cc7"/>
<text transform="translate(466.30,316.20)" font-size="5.0" fill="#222" >8.6%</text>
<text transform="translate(501.30,316.20)" font-size="5.0" fill="#222" >7.1%</text>
<rect x="6.2" y="56.9" width="506.1" height="1.0" fill="#555" fill-opacity="0.85"/>
<rect x="7.8" y="140.00" width="506" height="1.0" fill="#444"/>
<rect x="7.8" y="199.00" width="506" height="1.0" fill="#444"/>
<rect x="7.8" y="205.10" width="506" height="1.0" fill="#444"/>
<rect x="7.8" y="228.80" width="506" height="1.0" fill="#444"/>
<rect x="7.8" y="246.20" width="506" height="1.0" fill="#444"/>
<rect x="7.8" y="257.90" width="506" height="1.0" fill="#444"/>
<rect x="7.8" y="275.30" width="506" height="1.0" fill="#444"/>
<rect x="7.8" y="287.80" width="506" height="1.0" fill="#444"/>
<rect x="7.8" y="299.50" width="506" height="1.0" fill="#444"/>
<rect x="7.8" y="317.3" width="506" height="1.0" fill="#444"/>
<text transform="translate(6.30,101.00) scale(0.895,1)" font-size="5.4" fill="#222" >Immune response</text>
<text transform="translate(6.70,171.90) scale(0.897,1)" font-size="5.4" fill="#222" >Epigenetic modifier</text>
<text transform="translate(7.40,204.60) scale(0.868,1)" font-size="5.4" fill="#222" >RNA processing</text>
<text transform="translate(7.00,219.10) scale(0.903,1)" font-size="5.4" fill="#222" >Phosphoinositol signaling</text>
<text transform="translate(6.50,239.80) scale(0.908,1)" font-size="5.4" fill="#222" >Microtubule activity</text>
<text transform="translate(6.50,254.90) scale(0.916,1)" font-size="5.4" fill="#222" >Transcription factor binding</text>
<text transform="translate(6.50,268.90) scale(0.911,1)" font-size="5.4" fill="#222" >Cell adhesion</text>
<text transform="translate(6.50,283.50) scale(0.901,1)" font-size="5.4" fill="#222" >DNA repair</text>
<text transform="translate(6.30,296.20) scale(0.913,1)" font-size="5.4" fill="#222" >ATP binding</text>
<text transform="translate(6.30,310.30) scale(0.920,1)" font-size="5.4" fill="#222" >Others</text>
<text x="6.9" y="326.0" font-size="5.1" fill="#222">* More frequently mutated in <tspan font-style="italic">HAVCR2</tspan><tspan font-size="2.8" dy="-1.6">WT</tspan></text>
</svg>
</body></html>
